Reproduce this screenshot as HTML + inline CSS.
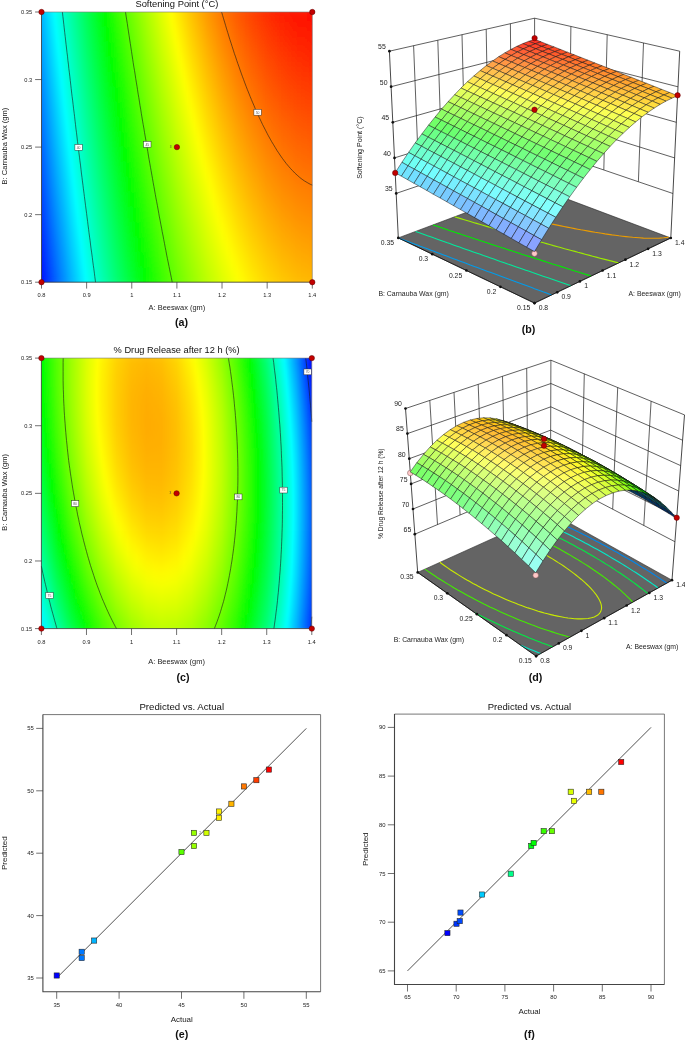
<!DOCTYPE html>
<html lang="en"><head><meta charset="utf-8"><title>Response surface figure</title>
<style>html,body{margin:0;padding:0;background:#fff}svg{display:block}text{font-family:'Liberation Sans', 'DejaVu Sans', sans-serif}</style>
</head><body>
<svg width="685" height="1040" viewBox="0 0 685 1040">
<rect width="685" height="1040" fill="#fff"/>
<defs><linearGradient gradientUnits="userSpaceOnUse" x1="41.5" x2="312.3" y1="0" y2="0" id="ag0"><stop offset="0" stop-color="#00bbff"/><stop offset=".0435" stop-color="#00feff"/><stop offset=".0556" stop-color="#00ffee"/><stop offset=".1111" stop-color="#00ff9d"/><stop offset=".1667" stop-color="#00ff51"/><stop offset=".2295" stop-color="#00ff00"/><stop offset=".2778" stop-color="#3aff00"/><stop offset=".3333" stop-color="#78ff00"/><stop offset=".3889" stop-color="#b1ff00"/><stop offset=".4444" stop-color="#e6ff00"/><stop offset=".472" stop-color="#ffff00"/><stop offset=".5" stop-color="#ffe700"/><stop offset=".5556" stop-color="#ffbc00"/><stop offset=".6111" stop-color="#ff9500"/><stop offset=".6667" stop-color="#ff7200"/><stop offset=".7222" stop-color="#ff5500"/><stop offset=".7778" stop-color="#ff3c00"/><stop offset=".8333" stop-color="#ff2700"/><stop offset=".8889" stop-color="#ff1700"/><stop offset=".9444" stop-color="#ff0c00"/><stop offset="1" stop-color="#ff0600"/></linearGradient><linearGradient gradientUnits="userSpaceOnUse" x1="41.5" x2="312.3" y1="0" y2="0" id="ag1"><stop offset="0" stop-color="#00b2ff"/><stop offset=".05" stop-color="#00ffff"/><stop offset=".1111" stop-color="#00ffa6"/><stop offset=".1667" stop-color="#00ff5a"/><stop offset=".2222" stop-color="#00ff12"/><stop offset=".237" stop-color="#00ff00"/><stop offset=".2778" stop-color="#31ff00"/><stop offset=".3333" stop-color="#6fff00"/><stop offset=".3889" stop-color="#a8ff00"/><stop offset=".4444" stop-color="#ddff00"/><stop offset=".4825" stop-color="#ffff00"/><stop offset=".5" stop-color="#fff100"/><stop offset=".5556" stop-color="#ffc500"/><stop offset=".6111" stop-color="#ff9e00"/><stop offset=".6667" stop-color="#ff7c00"/><stop offset=".7222" stop-color="#ff5e00"/><stop offset=".7778" stop-color="#ff4500"/><stop offset=".8333" stop-color="#ff3100"/><stop offset=".8889" stop-color="#ff2100"/><stop offset=".9444" stop-color="#ff1600"/><stop offset="1" stop-color="#ff0f00"/></linearGradient><linearGradient gradientUnits="userSpaceOnUse" x1="41.5" x2="312.3" y1="0" y2="0" id="ag2"><stop offset="0" stop-color="#00a9ff"/><stop offset=".056" stop-color="#00ffff"/><stop offset=".1111" stop-color="#00ffaf"/><stop offset=".1667" stop-color="#00ff63"/><stop offset=".2222" stop-color="#00ff1c"/><stop offset=".2445" stop-color="#00ff00"/><stop offset=".2778" stop-color="#27ff00"/><stop offset=".3333" stop-color="#65ff00"/><stop offset=".3889" stop-color="#9fff00"/><stop offset=".4444" stop-color="#d4ff00"/><stop offset=".4935" stop-color="#ffff00"/><stop offset=".5556" stop-color="#ffce00"/><stop offset=".6111" stop-color="#ffa700"/><stop offset=".6667" stop-color="#ff8500"/><stop offset=".7222" stop-color="#ff6700"/><stop offset=".7778" stop-color="#ff4e00"/><stop offset=".8333" stop-color="#ff3a00"/><stop offset=".8889" stop-color="#ff2a00"/><stop offset=".9444" stop-color="#ff1f00"/><stop offset="1" stop-color="#ff1900"/></linearGradient><linearGradient gradientUnits="userSpaceOnUse" x1="41.5" x2="312.3" y1="0" y2="0" id="ag3"><stop offset="0" stop-color="#00a0ff"/><stop offset=".062" stop-color="#00ffff"/><stop offset=".1111" stop-color="#00ffb8"/><stop offset=".1667" stop-color="#00ff6c"/><stop offset=".2222" stop-color="#00ff25"/><stop offset=".252" stop-color="#00ff00"/><stop offset=".2778" stop-color="#1eff00"/><stop offset=".3333" stop-color="#5cff00"/><stop offset=".3889" stop-color="#96ff00"/><stop offset=".4444" stop-color="#cbff00"/><stop offset=".5045" stop-color="#ffff00"/><stop offset=".5556" stop-color="#ffd700"/><stop offset=".6111" stop-color="#ffb100"/><stop offset=".6667" stop-color="#ff8e00"/><stop offset=".7222" stop-color="#ff7100"/><stop offset=".7778" stop-color="#ff5800"/><stop offset=".8333" stop-color="#ff4300"/><stop offset=".8889" stop-color="#ff3400"/><stop offset=".9444" stop-color="#ff2800"/><stop offset="1" stop-color="#ff2200"/></linearGradient><linearGradient gradientUnits="userSpaceOnUse" x1="41.5" x2="312.3" y1="0" y2="0" id="ag4"><stop offset="0" stop-color="#0097ff"/><stop offset=".0556" stop-color="#00ecff"/><stop offset=".068" stop-color="#00feff"/><stop offset=".1111" stop-color="#00ffc1"/><stop offset=".1667" stop-color="#00ff75"/><stop offset=".2222" stop-color="#00ff2e"/><stop offset=".2595" stop-color="#00ff01"/><stop offset=".2778" stop-color="#15ff00"/><stop offset=".3333" stop-color="#53ff00"/><stop offset=".3889" stop-color="#8dff00"/><stop offset=".4444" stop-color="#c1ff00"/><stop offset=".5" stop-color="#f2ff00"/><stop offset=".516" stop-color="#ffff00"/><stop offset=".5556" stop-color="#ffe100"/><stop offset=".6111" stop-color="#ffba00"/><stop offset=".6667" stop-color="#ff9800"/><stop offset=".7222" stop-color="#ff7a00"/><stop offset=".7778" stop-color="#ff6100"/><stop offset=".8333" stop-color="#ff4d00"/><stop offset=".8889" stop-color="#ff3d00"/><stop offset=".9444" stop-color="#ff3200"/><stop offset="1" stop-color="#ff2b00"/></linearGradient><linearGradient gradientUnits="userSpaceOnUse" x1="41.5" x2="312.3" y1="0" y2="0" id="ag5"><stop offset="0" stop-color="#008dff"/><stop offset=".0556" stop-color="#00e3ff"/><stop offset=".0745" stop-color="#00ffff"/><stop offset=".1111" stop-color="#00ffcb"/><stop offset=".1667" stop-color="#00ff7e"/><stop offset=".2222" stop-color="#00ff37"/><stop offset=".2675" stop-color="#00ff00"/><stop offset=".3333" stop-color="#4aff00"/><stop offset=".3889" stop-color="#83ff00"/><stop offset=".4444" stop-color="#b8ff00"/><stop offset=".5" stop-color="#e8ff00"/><stop offset=".528" stop-color="#ffff00"/><stop offset=".5556" stop-color="#ffea00"/><stop offset=".6111" stop-color="#ffc300"/><stop offset=".6667" stop-color="#ffa100"/><stop offset=".7222" stop-color="#ff8300"/><stop offset=".7778" stop-color="#ff6a00"/><stop offset=".8333" stop-color="#ff5600"/><stop offset=".8889" stop-color="#ff4600"/><stop offset=".9444" stop-color="#ff3b00"/><stop offset="1" stop-color="#ff3500"/></linearGradient><linearGradient gradientUnits="userSpaceOnUse" x1="41.5" x2="312.3" y1="0" y2="0" id="ag6"><stop offset="0" stop-color="#0084ff"/><stop offset=".0556" stop-color="#00daff"/><stop offset=".0805" stop-color="#00feff"/><stop offset=".1111" stop-color="#00ffd4"/><stop offset=".1667" stop-color="#00ff88"/><stop offset=".2222" stop-color="#00ff40"/><stop offset=".2755" stop-color="#00ff00"/><stop offset=".3333" stop-color="#41ff00"/><stop offset=".3889" stop-color="#7aff00"/><stop offset=".4444" stop-color="#afff00"/><stop offset=".5" stop-color="#dfff00"/><stop offset=".54" stop-color="#ffff00"/><stop offset=".5556" stop-color="#fff300"/><stop offset=".6111" stop-color="#ffcd00"/><stop offset=".6667" stop-color="#ffaa00"/><stop offset=".7222" stop-color="#ff8d00"/><stop offset=".7778" stop-color="#ff7400"/><stop offset=".8333" stop-color="#ff5f00"/><stop offset=".8889" stop-color="#ff5000"/><stop offset=".9444" stop-color="#ff4500"/><stop offset="1" stop-color="#ff3e00"/></linearGradient><linearGradient gradientUnits="userSpaceOnUse" x1="41.5" x2="312.3" y1="0" y2="0" id="ag7"><stop offset="0" stop-color="#007bff"/><stop offset=".0556" stop-color="#00d0ff"/><stop offset=".087" stop-color="#00ffff"/><stop offset=".1111" stop-color="#00ffdd"/><stop offset=".1667" stop-color="#00ff91"/><stop offset=".2222" stop-color="#00ff4a"/><stop offset=".2835" stop-color="#00ff00"/><stop offset=".3333" stop-color="#37ff00"/><stop offset=".3889" stop-color="#71ff00"/><stop offset=".4444" stop-color="#a5ff00"/><stop offset=".5" stop-color="#d6ff00"/><stop offset=".5525" stop-color="#ffff00"/><stop offset=".6111" stop-color="#ffd600"/><stop offset=".6667" stop-color="#ffb400"/><stop offset=".7222" stop-color="#ff9600"/><stop offset=".7778" stop-color="#ff7d00"/><stop offset=".8333" stop-color="#ff6900"/><stop offset=".8889" stop-color="#ff5900"/><stop offset=".9444" stop-color="#ff4e00"/><stop offset="1" stop-color="#ff4800"/></linearGradient><linearGradient gradientUnits="userSpaceOnUse" x1="41.5" x2="312.3" y1="0" y2="0" id="ag8"><stop offset="0" stop-color="#0072ff"/><stop offset=".0556" stop-color="#00c7ff"/><stop offset=".0935" stop-color="#00ffff"/><stop offset=".1111" stop-color="#00ffe6"/><stop offset=".1667" stop-color="#00ff9a"/><stop offset=".2222" stop-color="#00ff53"/><stop offset=".2778" stop-color="#00ff10"/><stop offset=".2915" stop-color="#00ff00"/><stop offset=".3333" stop-color="#2eff00"/><stop offset=".3889" stop-color="#67ff00"/><stop offset=".4444" stop-color="#9cff00"/><stop offset=".5" stop-color="#ccff00"/><stop offset=".565" stop-color="#ffff00"/><stop offset=".6111" stop-color="#ffdf00"/><stop offset=".6667" stop-color="#ffbd00"/><stop offset=".7222" stop-color="#ffa000"/><stop offset=".7778" stop-color="#ff8700"/><stop offset=".8333" stop-color="#ff7200"/><stop offset=".8889" stop-color="#ff6300"/><stop offset=".9444" stop-color="#ff5800"/><stop offset="1" stop-color="#ff5100"/></linearGradient><linearGradient gradientUnits="userSpaceOnUse" x1="41.5" x2="312.3" y1="0" y2="0" id="ag9"><stop offset="0" stop-color="#0069ff"/><stop offset=".0556" stop-color="#00beff"/><stop offset=".1" stop-color="#00ffff"/><stop offset=".1667" stop-color="#00ffa3"/><stop offset=".2222" stop-color="#00ff5c"/><stop offset=".2778" stop-color="#00ff19"/><stop offset=".3" stop-color="#00ff00"/><stop offset=".3333" stop-color="#25ff00"/><stop offset=".3889" stop-color="#5eff00"/><stop offset=".4444" stop-color="#93ff00"/><stop offset=".5" stop-color="#c3ff00"/><stop offset=".5556" stop-color="#eeff00"/><stop offset=".5785" stop-color="#ffff00"/><stop offset=".6111" stop-color="#ffe900"/><stop offset=".6667" stop-color="#ffc700"/><stop offset=".7222" stop-color="#ffa900"/><stop offset=".7778" stop-color="#ff9000"/><stop offset=".8333" stop-color="#ff7c00"/><stop offset=".8889" stop-color="#ff6c00"/><stop offset=".9444" stop-color="#ff6100"/><stop offset="1" stop-color="#ff5b00"/></linearGradient><linearGradient gradientUnits="userSpaceOnUse" x1="41.5" x2="312.3" y1="0" y2="0" id="ag10"><stop offset="0" stop-color="#005fff"/><stop offset=".0556" stop-color="#00b5ff"/><stop offset=".1065" stop-color="#00ffff"/><stop offset=".1667" stop-color="#00ffad"/><stop offset=".2222" stop-color="#00ff66"/><stop offset=".2778" stop-color="#00ff23"/><stop offset=".308" stop-color="#00ff00"/><stop offset=".3333" stop-color="#1bff00"/><stop offset=".3889" stop-color="#55ff00"/><stop offset=".4444" stop-color="#89ff00"/><stop offset=".5" stop-color="#b9ff00"/><stop offset=".5556" stop-color="#e5ff00"/><stop offset=".592" stop-color="#ffff00"/><stop offset=".6111" stop-color="#fff200"/><stop offset=".6667" stop-color="#ffd000"/><stop offset=".7222" stop-color="#ffb300"/><stop offset=".7778" stop-color="#ff9a00"/><stop offset=".8333" stop-color="#ff8500"/><stop offset=".8889" stop-color="#ff7600"/><stop offset=".9444" stop-color="#ff6b00"/><stop offset="1" stop-color="#ff6400"/></linearGradient><linearGradient gradientUnits="userSpaceOnUse" x1="41.5" x2="312.3" y1="0" y2="0" id="ag11"><stop offset="0" stop-color="#0056ff"/><stop offset=".0556" stop-color="#00abff"/><stop offset=".113" stop-color="#00ffff"/><stop offset=".1667" stop-color="#00ffb6"/><stop offset=".2222" stop-color="#00ff6f"/><stop offset=".2778" stop-color="#00ff2c"/><stop offset=".3165" stop-color="#00ff00"/><stop offset=".3333" stop-color="#12ff00"/><stop offset=".3889" stop-color="#4bff00"/><stop offset=".4444" stop-color="#80ff00"/><stop offset=".5" stop-color="#b0ff00"/><stop offset=".5556" stop-color="#dcff00"/><stop offset=".606" stop-color="#ffff00"/><stop offset=".6667" stop-color="#ffda00"/><stop offset=".7222" stop-color="#ffbc00"/><stop offset=".7778" stop-color="#ffa300"/><stop offset=".8333" stop-color="#ff8f00"/><stop offset=".8889" stop-color="#ff7f00"/><stop offset=".9444" stop-color="#ff7400"/><stop offset="1" stop-color="#ff6e00"/></linearGradient><linearGradient gradientUnits="userSpaceOnUse" x1="41.5" x2="312.3" y1="0" y2="0" id="ag12"><stop offset="0" stop-color="#004dff"/><stop offset=".0556" stop-color="#00a2ff"/><stop offset=".12" stop-color="#00ffff"/><stop offset=".1667" stop-color="#00ffbf"/><stop offset=".2222" stop-color="#00ff78"/><stop offset=".2778" stop-color="#00ff36"/><stop offset=".3255" stop-color="#00ff00"/><stop offset=".3889" stop-color="#42ff00"/><stop offset=".4444" stop-color="#76ff00"/><stop offset=".5" stop-color="#a7ff00"/><stop offset=".5556" stop-color="#d2ff00"/><stop offset=".6205" stop-color="#ffff00"/><stop offset=".6667" stop-color="#ffe300"/><stop offset=".7222" stop-color="#ffc600"/><stop offset=".7778" stop-color="#ffad00"/><stop offset=".8333" stop-color="#ff9800"/><stop offset=".8889" stop-color="#ff8900"/><stop offset=".9444" stop-color="#ff7e00"/><stop offset="1" stop-color="#ff7800"/></linearGradient><linearGradient gradientUnits="userSpaceOnUse" x1="41.5" x2="312.3" y1="0" y2="0" id="ag13"><stop offset="0" stop-color="#0043ff"/><stop offset=".0556" stop-color="#0099ff"/><stop offset=".1111" stop-color="#00e9ff"/><stop offset=".1265" stop-color="#00ffff"/><stop offset=".1667" stop-color="#00ffc9"/><stop offset=".2222" stop-color="#00ff82"/><stop offset=".2778" stop-color="#00ff3f"/><stop offset=".334" stop-color="#00ff00"/><stop offset=".3889" stop-color="#38ff00"/><stop offset=".4444" stop-color="#6dff00"/><stop offset=".5" stop-color="#9dff00"/><stop offset=".5556" stop-color="#c9ff00"/><stop offset=".6111" stop-color="#efff00"/><stop offset=".6355" stop-color="#ffff00"/><stop offset=".6667" stop-color="#ffed00"/><stop offset=".7222" stop-color="#ffcf00"/><stop offset=".7778" stop-color="#ffb600"/><stop offset=".8333" stop-color="#ffa200"/><stop offset=".8889" stop-color="#ff9200"/><stop offset=".9444" stop-color="#ff8800"/><stop offset="1" stop-color="#ff8100"/></linearGradient><linearGradient gradientUnits="userSpaceOnUse" x1="41.5" x2="312.3" y1="0" y2="0" id="ag14"><stop offset="0" stop-color="#003aff"/><stop offset=".0556" stop-color="#008fff"/><stop offset=".1111" stop-color="#00e0ff"/><stop offset=".1335" stop-color="#00ffff"/><stop offset=".1667" stop-color="#00ffd2"/><stop offset=".2222" stop-color="#00ff8b"/><stop offset=".2778" stop-color="#00ff48"/><stop offset=".343" stop-color="#00ff00"/><stop offset=".3889" stop-color="#2fff00"/><stop offset=".4444" stop-color="#64ff00"/><stop offset=".5" stop-color="#94ff00"/><stop offset=".5556" stop-color="#bfff00"/><stop offset=".6111" stop-color="#e6ff00"/><stop offset=".651" stop-color="#ffff00"/><stop offset=".6667" stop-color="#fff600"/><stop offset=".7222" stop-color="#ffd900"/><stop offset=".7778" stop-color="#ffc000"/><stop offset=".8333" stop-color="#ffac00"/><stop offset=".8889" stop-color="#ff9c00"/><stop offset=".9444" stop-color="#ff9100"/><stop offset="1" stop-color="#ff8b00"/></linearGradient><linearGradient gradientUnits="userSpaceOnUse" x1="41.5" x2="312.3" y1="0" y2="0" id="ag15"><stop offset="0" stop-color="#0031ff"/><stop offset=".0556" stop-color="#0086ff"/><stop offset=".1111" stop-color="#00d6ff"/><stop offset=".14" stop-color="#00feff"/><stop offset=".1667" stop-color="#00ffdc"/><stop offset=".2222" stop-color="#00ff95"/><stop offset=".2778" stop-color="#00ff52"/><stop offset=".3333" stop-color="#00ff14"/><stop offset=".352" stop-color="#00ff00"/><stop offset=".3889" stop-color="#25ff00"/><stop offset=".4444" stop-color="#5aff00"/><stop offset=".5" stop-color="#8aff00"/><stop offset=".5556" stop-color="#b5ff00"/><stop offset=".6111" stop-color="#dcff00"/><stop offset=".6675" stop-color="#ffff00"/><stop offset=".7222" stop-color="#ffe200"/><stop offset=".7778" stop-color="#ffc900"/><stop offset=".8333" stop-color="#ffb500"/><stop offset=".8889" stop-color="#ffa600"/><stop offset=".9444" stop-color="#ff9b00"/><stop offset="1" stop-color="#ff9500"/></linearGradient><linearGradient gradientUnits="userSpaceOnUse" x1="41.5" x2="312.3" y1="0" y2="0" id="ag16"><stop offset="0" stop-color="#0027ff"/><stop offset=".0556" stop-color="#007cff"/><stop offset=".1111" stop-color="#00cdff"/><stop offset=".147" stop-color="#00feff"/><stop offset=".1667" stop-color="#00ffe5"/><stop offset=".2222" stop-color="#00ff9e"/><stop offset=".2778" stop-color="#00ff5b"/><stop offset=".3333" stop-color="#00ff1d"/><stop offset=".361" stop-color="#00ff00"/><stop offset=".3889" stop-color="#1cff00"/><stop offset=".4444" stop-color="#50ff00"/><stop offset=".5" stop-color="#81ff00"/><stop offset=".5556" stop-color="#acff00"/><stop offset=".6111" stop-color="#d3ff00"/><stop offset=".6667" stop-color="#f5ff00"/><stop offset=".685" stop-color="#ffff00"/><stop offset=".7222" stop-color="#ffec00"/><stop offset=".7778" stop-color="#ffd300"/><stop offset=".8333" stop-color="#ffbf00"/><stop offset=".8889" stop-color="#ffaf00"/><stop offset=".9444" stop-color="#ffa500"/><stop offset="1" stop-color="#ff9e00"/></linearGradient><linearGradient gradientUnits="userSpaceOnUse" x1="41.5" x2="312.3" y1="0" y2="0" id="ag17"><stop offset="0" stop-color="#001eff"/><stop offset=".0556" stop-color="#0073ff"/><stop offset=".1111" stop-color="#00c3ff"/><stop offset=".154" stop-color="#00feff"/><stop offset=".1667" stop-color="#00ffef"/><stop offset=".2222" stop-color="#00ffa7"/><stop offset=".2778" stop-color="#00ff65"/><stop offset=".3333" stop-color="#00ff27"/><stop offset=".3705" stop-color="#00ff00"/><stop offset=".3889" stop-color="#12ff00"/><stop offset=".4444" stop-color="#47ff00"/><stop offset=".5" stop-color="#77ff00"/><stop offset=".5556" stop-color="#a2ff00"/><stop offset=".6111" stop-color="#c9ff00"/><stop offset=".6667" stop-color="#ebff00"/><stop offset=".703" stop-color="#ffff00"/><stop offset=".7222" stop-color="#fff600"/><stop offset=".7778" stop-color="#ffdd00"/><stop offset=".8333" stop-color="#ffc900"/><stop offset=".8889" stop-color="#ffb900"/><stop offset=".9444" stop-color="#ffae00"/><stop offset="1" stop-color="#ffa800"/></linearGradient><linearGradient gradientUnits="userSpaceOnUse" x1="41.5" x2="312.3" y1="0" y2="0" id="ag18"><stop offset="0" stop-color="#0014ff"/><stop offset=".0556" stop-color="#006aff"/><stop offset=".1111" stop-color="#00baff"/><stop offset=".1615" stop-color="#00ffff"/><stop offset=".2222" stop-color="#00ffb1"/><stop offset=".2778" stop-color="#00ff6e"/><stop offset=".3333" stop-color="#00ff31"/><stop offset=".38" stop-color="#00ff00"/><stop offset=".4444" stop-color="#3dff00"/><stop offset=".5" stop-color="#6dff00"/><stop offset=".5556" stop-color="#99ff00"/><stop offset=".6111" stop-color="#bfff00"/><stop offset=".6667" stop-color="#e1ff00"/><stop offset=".7225" stop-color="#ffff00"/><stop offset=".7778" stop-color="#ffe600"/><stop offset=".8333" stop-color="#ffd200"/><stop offset=".8889" stop-color="#ffc300"/><stop offset=".9444" stop-color="#ffb800"/><stop offset="1" stop-color="#ffb200"/></linearGradient><linearGradient gradientUnits="userSpaceOnUse" x1="41.5" x2="312.3" y1="0" y2="0" id="ag19"><stop offset="0" stop-color="#000bff"/><stop offset=".0556" stop-color="#0060ff"/><stop offset=".1111" stop-color="#00b0ff"/><stop offset=".1685" stop-color="#00ffff"/><stop offset=".2222" stop-color="#00ffbb"/><stop offset=".2778" stop-color="#00ff78"/><stop offset=".3333" stop-color="#00ff3a"/><stop offset=".3895" stop-color="#00ff00"/><stop offset=".4444" stop-color="#34ff00"/><stop offset=".5" stop-color="#64ff00"/><stop offset=".5556" stop-color="#8fff00"/><stop offset=".6111" stop-color="#b6ff00"/><stop offset=".6667" stop-color="#d8ff00"/><stop offset=".7222" stop-color="#f5ff00"/><stop offset=".743" stop-color="#ffff00"/><stop offset=".7778" stop-color="#fff000"/><stop offset=".8333" stop-color="#ffdc00"/><stop offset=".8889" stop-color="#ffcd00"/><stop offset=".9444" stop-color="#ffc200"/><stop offset="1" stop-color="#ffbc00"/></linearGradient><filter id="abl" x="-5%" y="-5%" width="110%" height="110%"><feGaussianBlur stdDeviation="0 8.26"/></filter><clipPath id="acp"><rect x="41.5" y="12" width="270.8" height="270.2"/></clipPath></defs>
<g clip-path="url(#acp)"><g filter="url(#abl)"><rect x="31.5" y="-3.01" width="290.8" height="15.51" fill="url(#ag0)"/><rect x="31.5" y="12" width="290.8" height="15.51" fill="url(#ag1)"/><rect x="31.5" y="27.01" width="290.8" height="15.51" fill="url(#ag2)"/><rect x="31.5" y="42.02" width="290.8" height="15.51" fill="url(#ag3)"/><rect x="31.5" y="57.03" width="290.8" height="15.51" fill="url(#ag4)"/><rect x="31.5" y="72.04" width="290.8" height="15.51" fill="url(#ag5)"/><rect x="31.5" y="87.06" width="290.8" height="15.51" fill="url(#ag6)"/><rect x="31.5" y="102.07" width="290.8" height="15.51" fill="url(#ag7)"/><rect x="31.5" y="117.08" width="290.8" height="15.51" fill="url(#ag8)"/><rect x="31.5" y="132.09" width="290.8" height="15.51" fill="url(#ag9)"/><rect x="31.5" y="147.1" width="290.8" height="15.51" fill="url(#ag10)"/><rect x="31.5" y="162.11" width="290.8" height="15.51" fill="url(#ag11)"/><rect x="31.5" y="177.12" width="290.8" height="15.51" fill="url(#ag12)"/><rect x="31.5" y="192.13" width="290.8" height="15.51" fill="url(#ag13)"/><rect x="31.5" y="207.14" width="290.8" height="15.51" fill="url(#ag14)"/><rect x="31.5" y="222.16" width="290.8" height="15.51" fill="url(#ag15)"/><rect x="31.5" y="237.17" width="290.8" height="15.51" fill="url(#ag16)"/><rect x="31.5" y="252.18" width="290.8" height="15.51" fill="url(#ag17)"/><rect x="31.5" y="267.19" width="290.8" height="15.51" fill="url(#ag18)"/><rect x="31.5" y="282.2" width="290.8" height="15.51" fill="url(#ag19)"/></g></g>
<path d="M62.4 12 L62.9 16.5 L63.3 19.9 L63.8 24.4 L64.2 27.8 L64.7 32.3 L65.2 36.5 L65.6 40.1 L66.1 44.6 L66.5 48 L67 52.5 L67.5 56.2 L67.9 60.4 L68.5 64.9 L68.8 68.3 L69.4 72.8 L69.8 76.2 L70.3 80.7 L70.8 85.2 L71.2 88.6 L71.7 93.1 L72.1 96.4 L72.7 100.9 L73.1 104.4 L73.6 108.8 L74.2 113.3 L74.6 116.7 L75.1 121.2 L75.5 124.6 L76 129.1 L76.5 132.7 L77 137 L77.5 141.5 L78 144.8 L78.5 149.4 L78.9 152.7 L79.5 157.2 L79.9 160.6 L80.5 165.1 L81 169.4 L81.4 173 L82 177.5 L82.4 180.9 L83 185.4 L83.4 188.8 L84 193.3 L84.4 196.6 L85 201.1 L85.5 205.3 L86 209 L86.6 213.5 L87 216.9 L87.6 221.4 L88 224.8 L88.6 229.3 L89 232.7 L89.6 237.2 L90.1 240.5 L90.6 245 L91.1 248.9 L91.7 252.9 L92.3 257.4 L92.7 260.8 L93.3 265.3 L93.8 268.7 L94.4 273.2 L94.8 276.6 L95.4 281.1 L95.6 282.2 M125.5 12 L126.1 16.1 L126.7 19.9 L127.3 23.6 L127.9 27.8 L128.4 31.1 L129.1 35.6 L129.6 39 L130.3 43.5 L130.8 46.9 L131.5 51.4 L132 54.8 L132.7 59.3 L133.2 62.7 L133.9 67.2 L134.5 70.5 L135.2 74.9 L135.7 78.4 L136.3 82.1 L137 86.3 L137.5 89.7 L138.2 94.2 L138.8 97.6 L139.5 102.1 L140 105.4 L140.8 109.9 L141.3 113.3 L141.9 116.9 L142.6 121.2 L143.2 124.6 L144 129.1 L144.5 132.5 L145.3 137 L145.9 140.3 L146.4 143.8 L147.2 148.2 L147.8 151.6 L148.5 156.1 L149.1 159.5 L149.8 163.4 L150.5 167.4 L151.1 170.7 L151.9 175.2 L152.5 178.6 L153.2 182.7 L153.9 186.5 L154.5 189.9 L155.3 194.4 L155.9 197.8 L156.6 201.4 L157.4 205.6 L158 209 L158.8 213.5 L159.4 216.9 L160.1 220.3 L160.9 224.8 L161.6 228.2 L162.2 231.7 L163.1 236 L163.7 239.4 L164.5 243.5 L165.2 247.3 L165.9 250.7 L166.7 255.1 L167.4 258.6 L168.1 261.9 L169 266.4 L169.7 269.8 L170.4 273.2 L171.3 277.7 L172 281.1 L172.2 282.2 M221.6 12 L222.6 15.4 L223.6 18.8 L224.6 22.1 L225.6 25.5 L226.6 28.9 L227.7 32.4 L228.8 36 L229.9 39.6 L231.1 43.2 L232.2 46.7 L233.3 50.1 L234.4 53.6 L235.6 56.9 L236.7 60.3 L237.8 63.5 L239 66.8 L240.1 70 L241.2 73.1 L242.3 76.2 L243.6 79.6 L244.8 82.9 L246.1 86.3 L247.4 89.7 L248.8 93.1 L250.1 96.4 L251.4 99.5 L252.5 102.2 L253.9 105.4 L255.3 108.8 L256.8 112.2 L258.1 115.1 L259.4 117.8 L261 121.2 L262.6 124.6 L263.8 126.9 L265.5 130.2 L267.2 133.5 L268.4 135.8 L270.3 139.2 L271.7 141.7 L273.6 144.8 L275.1 147.3 L277 150.5 L278.5 152.7 L280.7 156 L282.4 158.4 L284.1 160.7 L286.3 163.6 L288.5 166.2 L290.5 168.5 L292.6 170.7 L294.8 173 L297.2 175.2 L299.8 177.5 L302.1 179.3 L304.4 180.9 L307.8 182.9 L310.3 184.3 L312.3 185.1" fill="none" stroke="#1a1a1a" stroke-width="0.6"/>
<path d="M41.5 12H312.3V282.2" fill="none" stroke="#777" stroke-width="0.6"/>
<path d="M41.5 12V282.2H312.3" fill="none" stroke="#333" stroke-width="0.8"/>
<path d="M41.5 282.2v6.4 M86.63 282.2v6.4 M131.77 282.2v6.4 M176.9 282.2v6.4 M222.03 282.2v6.4 M267.17 282.2v6.4 M312.3 282.2v6.4 M41.5 12h-6.4 M41.5 79.55h-6.4 M41.5 147.1h-6.4 M41.5 214.65h-6.4 M41.5 282.2h-6.4" stroke="#333" stroke-width="0.7" fill="none"/>
<text x="41.5" y="296.5" font-size="5.7" text-anchor="middle" fill="#222">0.8</text>
<text x="86.63" y="296.5" font-size="5.7" text-anchor="middle" fill="#222">0.9</text>
<text x="131.77" y="296.5" font-size="5.7" text-anchor="middle" fill="#222">1</text>
<text x="176.9" y="296.5" font-size="5.7" text-anchor="middle" fill="#222">1.1</text>
<text x="222.03" y="296.5" font-size="5.7" text-anchor="middle" fill="#222">1.2</text>
<text x="267.17" y="296.5" font-size="5.7" text-anchor="middle" fill="#222">1.3</text>
<text x="312.3" y="296.5" font-size="5.7" text-anchor="middle" fill="#222">1.4</text>
<text x="32.2" y="14" font-size="5.7" text-anchor="end" fill="#222">0.35</text>
<text x="32.2" y="81.55" font-size="5.7" text-anchor="end" fill="#222">0.3</text>
<text x="32.2" y="149.1" font-size="5.7" text-anchor="end" fill="#222">0.25</text>
<text x="32.2" y="216.65" font-size="5.7" text-anchor="end" fill="#222">0.2</text>
<text x="32.2" y="284.2" font-size="5.7" text-anchor="end" fill="#222">0.15</text>
<text x="176.9" y="310.3" font-size="7.3" text-anchor="middle" textLength="56.6" lengthAdjust="spacingAndGlyphs" fill="#222">A: Beeswax (gm)</text>
<text x="6.7" y="146.1" font-size="7.3" text-anchor="middle" transform="rotate(-90 6.7 146.1)" textLength="76.6" lengthAdjust="spacingAndGlyphs" fill="#222">B: Carnauba Wax (gm)</text>
<text x="176.9" y="7.3" font-size="9.35" text-anchor="middle" textLength="83" lengthAdjust="spacingAndGlyphs" fill="#111">Softening Point (°C)</text>
<text x="181.6" y="325.6" font-size="10.7" text-anchor="middle" font-weight="bold" fill="#111">(a)</text>
<rect x="74.9" y="144.5" width="7.4" height="5.8" fill="#fff" stroke="#333" stroke-width="0.5"/>
<text x="78.6" y="148.6" font-size="3.4" text-anchor="middle" fill="#555">40</text>
<rect x="143.6" y="141.4" width="7.4" height="5.8" fill="#fff" stroke="#333" stroke-width="0.5"/>
<text x="147.3" y="145.5" font-size="3.4" text-anchor="middle" fill="#555">45</text>
<rect x="253.9" y="109.4" width="7.4" height="5.8" fill="#fff" stroke="#333" stroke-width="0.5"/>
<text x="257.6" y="113.5" font-size="3.4" text-anchor="middle" fill="#555">50</text>
<circle cx="41.5" cy="12" r="2.7" fill="#c20000" stroke="#5a0000" stroke-width="0.5"/>
<circle cx="312.3" cy="12" r="2.7" fill="#c20000" stroke="#5a0000" stroke-width="0.5"/>
<circle cx="41.5" cy="282.2" r="2.7" fill="#c20000" stroke="#5a0000" stroke-width="0.5"/>
<circle cx="312.3" cy="282.2" r="2.7" fill="#c20000" stroke="#5a0000" stroke-width="0.5"/>
<circle cx="176.9" cy="147.1" r="2.7" fill="#c20000" stroke="#5a0000" stroke-width="0.5"/>
<text x="170.7" y="148.2" font-size="3.2" text-anchor="middle" fill="#444">3</text>
<defs><linearGradient gradientUnits="userSpaceOnUse" x1="41.4" x2="311.8" y1="0" y2="0" id="cg0"><stop offset=".004" stop-color="#00ff00"/><stop offset=".0556" stop-color="#51ff00"/><stop offset=".1111" stop-color="#9bff00"/><stop offset=".1667" stop-color="#d8ff00"/><stop offset=".2115" stop-color="#ffff00"/><stop offset=".2778" stop-color="#ffd600"/><stop offset=".3333" stop-color="#ffc300"/><stop offset=".3889" stop-color="#ffbd00"/><stop offset=".4444" stop-color="#ffc500"/><stop offset=".5" stop-color="#ffdb00"/><stop offset=".556" stop-color="#ffff00"/><stop offset=".6111" stop-color="#ceff00"/><stop offset=".6667" stop-color="#8fff00"/><stop offset=".7222" stop-color="#43ff00"/><stop offset=".764" stop-color="#00ff00"/><stop offset=".7778" stop-color="#00ff18"/><stop offset=".8333" stop-color="#00ff80"/><stop offset=".893" stop-color="#00ffff"/><stop offset=".9444" stop-color="#0085ff"/><stop offset="1" stop-color="#0000ff"/></linearGradient><linearGradient gradientUnits="userSpaceOnUse" x1="41.4" x2="311.8" y1="0" y2="0" id="cg1"><stop offset=".004" stop-color="#00ff00"/><stop offset=".0556" stop-color="#52ff00"/><stop offset=".1111" stop-color="#9dff00"/><stop offset=".1667" stop-color="#dbff00"/><stop offset=".207" stop-color="#ffff00"/><stop offset=".2222" stop-color="#fff300"/><stop offset=".2778" stop-color="#ffd100"/><stop offset=".3333" stop-color="#ffbd00"/><stop offset=".3889" stop-color="#ffb600"/><stop offset=".4444" stop-color="#ffbd00"/><stop offset=".5" stop-color="#ffd200"/><stop offset=".5556" stop-color="#fff500"/><stop offset=".569" stop-color="#ffff00"/><stop offset=".6111" stop-color="#d9ff00"/><stop offset=".6667" stop-color="#9bff00"/><stop offset=".7222" stop-color="#50ff00"/><stop offset=".772" stop-color="#00ff00"/><stop offset=".8333" stop-color="#00ff71"/><stop offset=".9" stop-color="#00ffff"/><stop offset=".9444" stop-color="#0096ff"/><stop offset="1" stop-color="#0005ff"/></linearGradient><linearGradient gradientUnits="userSpaceOnUse" x1="41.4" x2="311.8" y1="0" y2="0" id="cg2"><stop offset=".005" stop-color="#00ff00"/><stop offset=".0556" stop-color="#51ff00"/><stop offset=".1111" stop-color="#9dff00"/><stop offset=".1667" stop-color="#dcff00"/><stop offset=".2045" stop-color="#ffff00"/><stop offset=".2222" stop-color="#fff100"/><stop offset=".2778" stop-color="#ffce00"/><stop offset=".3333" stop-color="#ffb900"/><stop offset=".3889" stop-color="#ffb100"/><stop offset=".4444" stop-color="#ffb700"/><stop offset=".5" stop-color="#ffcb00"/><stop offset=".5556" stop-color="#ffec00"/><stop offset=".579" stop-color="#ffff00"/><stop offset=".6111" stop-color="#e2ff00"/><stop offset=".6667" stop-color="#a5ff00"/><stop offset=".7222" stop-color="#5bff00"/><stop offset=".779" stop-color="#00ff00"/><stop offset=".8333" stop-color="#00ff64"/><stop offset=".8889" stop-color="#00ffd8"/><stop offset=".906" stop-color="#00fffe"/><stop offset=".9444" stop-color="#00a5ff"/><stop offset="1" stop-color="#0015ff"/></linearGradient><linearGradient gradientUnits="userSpaceOnUse" x1="41.4" x2="311.8" y1="0" y2="0" id="cg3"><stop offset=".007" stop-color="#00ff00"/><stop offset=".0556" stop-color="#4fff00"/><stop offset=".1111" stop-color="#9cff00"/><stop offset=".1667" stop-color="#dbff00"/><stop offset=".2045" stop-color="#ffff00"/><stop offset=".2222" stop-color="#fff100"/><stop offset=".2778" stop-color="#ffcd00"/><stop offset=".3333" stop-color="#ffb600"/><stop offset=".3889" stop-color="#ffad00"/><stop offset=".4444" stop-color="#ffb300"/><stop offset=".5" stop-color="#ffc500"/><stop offset=".5556" stop-color="#ffe600"/><stop offset=".5875" stop-color="#ffff00"/><stop offset=".6111" stop-color="#eaff00"/><stop offset=".6667" stop-color="#aeff00"/><stop offset=".7222" stop-color="#64ff00"/><stop offset=".785" stop-color="#00ff00"/><stop offset=".8333" stop-color="#00ff58"/><stop offset=".8889" stop-color="#00ffcb"/><stop offset=".9115" stop-color="#00fffe"/><stop offset=".9444" stop-color="#00b2ff"/><stop offset="1" stop-color="#0024ff"/></linearGradient><linearGradient gradientUnits="userSpaceOnUse" x1="41.4" x2="311.8" y1="0" y2="0" id="cg4"><stop offset=".01" stop-color="#00ff00"/><stop offset=".0556" stop-color="#4aff00"/><stop offset=".1111" stop-color="#99ff00"/><stop offset=".1667" stop-color="#d9ff00"/><stop offset=".206" stop-color="#ffff00"/><stop offset=".2222" stop-color="#fff200"/><stop offset=".2778" stop-color="#ffcd00"/><stop offset=".3333" stop-color="#ffb500"/><stop offset=".3889" stop-color="#ffac00"/><stop offset=".4444" stop-color="#ffb000"/><stop offset=".5" stop-color="#ffc100"/><stop offset=".5556" stop-color="#ffe100"/><stop offset=".594" stop-color="#ffff00"/><stop offset=".6111" stop-color="#f0ff00"/><stop offset=".6667" stop-color="#b5ff00"/><stop offset=".7222" stop-color="#6cff00"/><stop offset=".7778" stop-color="#16ff00"/><stop offset=".79" stop-color="#01ff00"/><stop offset=".8333" stop-color="#00ff4e"/><stop offset=".8889" stop-color="#00ffc0"/><stop offset=".9165" stop-color="#00fffe"/><stop offset=".9444" stop-color="#00beff"/><stop offset="1" stop-color="#0031ff"/></linearGradient><linearGradient gradientUnits="userSpaceOnUse" x1="41.4" x2="311.8" y1="0" y2="0" id="cg5"><stop offset="0" stop-color="#00ff18"/><stop offset=".0135" stop-color="#00ff01"/><stop offset=".0556" stop-color="#45ff00"/><stop offset=".1111" stop-color="#94ff00"/><stop offset=".1667" stop-color="#d6ff00"/><stop offset=".2095" stop-color="#ffff00"/><stop offset=".2222" stop-color="#fff500"/><stop offset=".2778" stop-color="#ffce00"/><stop offset=".3333" stop-color="#ffb600"/><stop offset=".3889" stop-color="#ffab00"/><stop offset=".4444" stop-color="#ffae00"/><stop offset=".5" stop-color="#ffbf00"/><stop offset=".5556" stop-color="#ffde00"/><stop offset=".5985" stop-color="#ffff00"/><stop offset=".6111" stop-color="#f4ff00"/><stop offset=".6667" stop-color="#baff00"/><stop offset=".7222" stop-color="#72ff00"/><stop offset=".7778" stop-color="#1dff00"/><stop offset=".7945" stop-color="#00ff00"/><stop offset=".8333" stop-color="#00ff46"/><stop offset=".8889" stop-color="#00ffb7"/><stop offset=".921" stop-color="#00ffff"/><stop offset=".9444" stop-color="#00c8ff"/><stop offset="1" stop-color="#003cff"/></linearGradient><linearGradient gradientUnits="userSpaceOnUse" x1="41.4" x2="311.8" y1="0" y2="0" id="cg6"><stop offset="0" stop-color="#00ff21"/><stop offset=".018" stop-color="#00ff01"/><stop offset=".0556" stop-color="#3dff00"/><stop offset=".1111" stop-color="#8eff00"/><stop offset=".1667" stop-color="#d0ff00"/><stop offset=".215" stop-color="#ffff00"/><stop offset=".2778" stop-color="#ffd200"/><stop offset=".3333" stop-color="#ffb900"/><stop offset=".3889" stop-color="#ffad00"/><stop offset=".4444" stop-color="#ffaf00"/><stop offset=".5" stop-color="#ffbf00"/><stop offset=".5556" stop-color="#ffdc00"/><stop offset=".601" stop-color="#ffff00"/><stop offset=".6667" stop-color="#bdff00"/><stop offset=".7222" stop-color="#77ff00"/><stop offset=".7778" stop-color="#22ff00"/><stop offset=".798" stop-color="#00ff00"/><stop offset=".8333" stop-color="#00ff40"/><stop offset=".8889" stop-color="#00ffb0"/><stop offset=".9245" stop-color="#00ffff"/><stop offset=".9444" stop-color="#00d1ff"/><stop offset="1" stop-color="#0045ff"/></linearGradient><linearGradient gradientUnits="userSpaceOnUse" x1="41.4" x2="311.8" y1="0" y2="0" id="cg7"><stop offset="0" stop-color="#00ff2b"/><stop offset=".024" stop-color="#00ff00"/><stop offset=".0556" stop-color="#34ff00"/><stop offset=".1111" stop-color="#85ff00"/><stop offset=".1667" stop-color="#c9ff00"/><stop offset=".222" stop-color="#ffff00"/><stop offset=".2778" stop-color="#ffd700"/><stop offset=".3333" stop-color="#ffbd00"/><stop offset=".3889" stop-color="#ffb000"/><stop offset=".4444" stop-color="#ffb100"/><stop offset=".5" stop-color="#ffc000"/><stop offset=".5556" stop-color="#ffdc00"/><stop offset=".602" stop-color="#ffff00"/><stop offset=".6667" stop-color="#bfff00"/><stop offset=".7222" stop-color="#7aff00"/><stop offset=".7778" stop-color="#26ff00"/><stop offset=".8005" stop-color="#00ff00"/><stop offset=".8333" stop-color="#00ff3b"/><stop offset=".8889" stop-color="#00ffaa"/><stop offset=".927" stop-color="#00fffe"/><stop offset=".9444" stop-color="#00d8ff"/><stop offset="1" stop-color="#004dff"/></linearGradient><linearGradient gradientUnits="userSpaceOnUse" x1="41.4" x2="311.8" y1="0" y2="0" id="cg8"><stop offset="0" stop-color="#00ff37"/><stop offset=".0305" stop-color="#00ff00"/><stop offset=".0556" stop-color="#29ff00"/><stop offset=".1111" stop-color="#7cff00"/><stop offset=".1667" stop-color="#c0ff00"/><stop offset=".2315" stop-color="#ffff00"/><stop offset=".2778" stop-color="#ffde00"/><stop offset=".3333" stop-color="#ffc200"/><stop offset=".3889" stop-color="#ffb500"/><stop offset=".4444" stop-color="#ffb500"/><stop offset=".5" stop-color="#ffc300"/><stop offset=".5556" stop-color="#ffde00"/><stop offset=".601" stop-color="#ffff00"/><stop offset=".6667" stop-color="#c0ff00"/><stop offset=".7222" stop-color="#7bff00"/><stop offset=".7778" stop-color="#28ff00"/><stop offset=".802" stop-color="#00ff00"/><stop offset=".8333" stop-color="#00ff38"/><stop offset=".8889" stop-color="#00ffa6"/><stop offset=".9295" stop-color="#00ffff"/><stop offset=".9444" stop-color="#00ddff"/><stop offset="1" stop-color="#0053ff"/></linearGradient><linearGradient gradientUnits="userSpaceOnUse" x1="41.4" x2="311.8" y1="0" y2="0" id="cg9"><stop offset="0" stop-color="#00ff44"/><stop offset=".038" stop-color="#00ff00"/><stop offset=".0556" stop-color="#1dff00"/><stop offset=".1111" stop-color="#70ff00"/><stop offset=".1667" stop-color="#b6ff00"/><stop offset=".2222" stop-color="#eeff00"/><stop offset=".2425" stop-color="#ffff00"/><stop offset=".2778" stop-color="#ffe600"/><stop offset=".3333" stop-color="#ffca00"/><stop offset=".3889" stop-color="#ffbb00"/><stop offset=".4444" stop-color="#ffba00"/><stop offset=".5" stop-color="#ffc700"/><stop offset=".5556" stop-color="#ffe200"/><stop offset=".5975" stop-color="#ffff00"/><stop offset=".6111" stop-color="#f4ff00"/><stop offset=".6667" stop-color="#beff00"/><stop offset=".7222" stop-color="#7aff00"/><stop offset=".7778" stop-color="#29ff00"/><stop offset=".8025" stop-color="#00ff00"/><stop offset=".8333" stop-color="#00ff36"/><stop offset=".8889" stop-color="#00ffa3"/><stop offset=".931" stop-color="#00ffff"/><stop offset=".9444" stop-color="#00e0ff"/><stop offset="1" stop-color="#0058ff"/></linearGradient><linearGradient gradientUnits="userSpaceOnUse" x1="41.4" x2="311.8" y1="0" y2="0" id="cg10"><stop offset="0" stop-color="#00ff53"/><stop offset=".0465" stop-color="#00ff00"/><stop offset=".1111" stop-color="#63ff00"/><stop offset=".1667" stop-color="#aaff00"/><stop offset=".2222" stop-color="#e3ff00"/><stop offset=".2565" stop-color="#ffff00"/><stop offset=".2778" stop-color="#fff000"/><stop offset=".3333" stop-color="#ffd300"/><stop offset=".3889" stop-color="#ffc300"/><stop offset=".4444" stop-color="#ffc100"/><stop offset=".5" stop-color="#ffcd00"/><stop offset=".5556" stop-color="#ffe700"/><stop offset=".592" stop-color="#ffff00"/><stop offset=".6111" stop-color="#f0ff00"/><stop offset=".6667" stop-color="#bbff00"/><stop offset=".7222" stop-color="#78ff00"/><stop offset=".7778" stop-color="#28ff00"/><stop offset=".802" stop-color="#00ff00"/><stop offset=".8333" stop-color="#00ff36"/><stop offset=".8889" stop-color="#00ffa2"/><stop offset=".9315" stop-color="#00fffe"/><stop offset=".9444" stop-color="#00e2ff"/><stop offset="1" stop-color="#005bff"/></linearGradient><linearGradient gradientUnits="userSpaceOnUse" x1="41.4" x2="311.8" y1="0" y2="0" id="cg11"><stop offset="0" stop-color="#00ff64"/><stop offset=".056" stop-color="#00ff00"/><stop offset=".1111" stop-color="#54ff00"/><stop offset=".1667" stop-color="#9cff00"/><stop offset=".2222" stop-color="#d6ff00"/><stop offset=".273" stop-color="#ffff00"/><stop offset=".3333" stop-color="#ffde00"/><stop offset=".3889" stop-color="#ffcd00"/><stop offset=".4444" stop-color="#ffca00"/><stop offset=".5" stop-color="#ffd500"/><stop offset=".5556" stop-color="#ffee00"/><stop offset=".583" stop-color="#ffff00"/><stop offset=".6111" stop-color="#eaff00"/><stop offset=".6667" stop-color="#b6ff00"/><stop offset=".7222" stop-color="#75ff00"/><stop offset=".7778" stop-color="#25ff00"/><stop offset=".8005" stop-color="#01ff00"/><stop offset=".8333" stop-color="#00ff38"/><stop offset=".8889" stop-color="#00ffa3"/><stop offset=".9315" stop-color="#00fffe"/><stop offset=".9444" stop-color="#00e2ff"/><stop offset="1" stop-color="#005cff"/></linearGradient><linearGradient gradientUnits="userSpaceOnUse" x1="41.4" x2="311.8" y1="0" y2="0" id="cg12"><stop offset="0" stop-color="#00ff76"/><stop offset=".0665" stop-color="#00ff00"/><stop offset=".1111" stop-color="#44ff00"/><stop offset=".1667" stop-color="#8dff00"/><stop offset=".2222" stop-color="#c7ff00"/><stop offset=".2778" stop-color="#f5ff00"/><stop offset=".2935" stop-color="#ffff00"/><stop offset=".3333" stop-color="#ffea00"/><stop offset=".3889" stop-color="#ffd800"/><stop offset=".4444" stop-color="#ffd500"/><stop offset=".5" stop-color="#ffde00"/><stop offset=".5556" stop-color="#fff600"/><stop offset=".571" stop-color="#ffff00"/><stop offset=".6111" stop-color="#e3ff00"/><stop offset=".6667" stop-color="#b0ff00"/><stop offset=".7222" stop-color="#6fff00"/><stop offset=".7778" stop-color="#21ff00"/><stop offset=".798" stop-color="#01ff00"/><stop offset=".8333" stop-color="#00ff3c"/><stop offset=".8889" stop-color="#00ffa6"/><stop offset=".931" stop-color="#00ffff"/><stop offset=".9444" stop-color="#00e1ff"/><stop offset="1" stop-color="#005bff"/></linearGradient><linearGradient gradientUnits="userSpaceOnUse" x1="41.4" x2="311.8" y1="0" y2="0" id="cg13"><stop offset="0" stop-color="#00ff8a"/><stop offset=".0556" stop-color="#00ff25"/><stop offset=".078" stop-color="#00ff00"/><stop offset=".1111" stop-color="#32ff00"/><stop offset=".1667" stop-color="#7cff00"/><stop offset=".2222" stop-color="#b7ff00"/><stop offset=".2778" stop-color="#e6ff00"/><stop offset=".319" stop-color="#ffff00"/><stop offset=".3333" stop-color="#fff800"/><stop offset=".3889" stop-color="#ffe600"/><stop offset=".4444" stop-color="#ffe100"/><stop offset=".5" stop-color="#ffe900"/><stop offset=".5535" stop-color="#ffff00"/><stop offset=".6111" stop-color="#daff00"/><stop offset=".6667" stop-color="#a8ff00"/><stop offset=".7222" stop-color="#68ff00"/><stop offset=".7778" stop-color="#1aff00"/><stop offset=".7945" stop-color="#00ff00"/><stop offset=".8333" stop-color="#00ff41"/><stop offset=".8889" stop-color="#00ffaa"/><stop offset=".929" stop-color="#00fffe"/><stop offset=".9444" stop-color="#00deff"/><stop offset="1" stop-color="#0059ff"/></linearGradient><linearGradient gradientUnits="userSpaceOnUse" x1="41.4" x2="311.8" y1="0" y2="0" id="cg14"><stop offset="0" stop-color="#00ffa0"/><stop offset=".0556" stop-color="#00ff3a"/><stop offset=".091" stop-color="#00ff00"/><stop offset=".1111" stop-color="#1eff00"/><stop offset=".1667" stop-color="#69ff00"/><stop offset=".2222" stop-color="#a6ff00"/><stop offset=".2778" stop-color="#d5ff00"/><stop offset=".3333" stop-color="#f6ff00"/><stop offset=".3535" stop-color="#ffff00"/><stop offset=".3889" stop-color="#fff400"/><stop offset=".4444" stop-color="#ffee00"/><stop offset=".5" stop-color="#fff600"/><stop offset=".527" stop-color="#ffff00"/><stop offset=".5556" stop-color="#f2ff00"/><stop offset=".6111" stop-color="#cfff00"/><stop offset=".6667" stop-color="#9eff00"/><stop offset=".7222" stop-color="#5fff00"/><stop offset=".7778" stop-color="#13ff00"/><stop offset=".79" stop-color="#00ff00"/><stop offset=".8333" stop-color="#00ff47"/><stop offset=".8889" stop-color="#00ffaf"/><stop offset=".927" stop-color="#00ffff"/><stop offset=".9444" stop-color="#00d9ff"/><stop offset="1" stop-color="#0056ff"/></linearGradient><linearGradient gradientUnits="userSpaceOnUse" x1="41.4" x2="311.8" y1="0" y2="0" id="cg15"><stop offset="0" stop-color="#00ffb7"/><stop offset=".0556" stop-color="#00ff50"/><stop offset=".105" stop-color="#00ff00"/><stop offset=".1667" stop-color="#55ff00"/><stop offset=".2222" stop-color="#92ff00"/><stop offset=".2778" stop-color="#c2ff00"/><stop offset=".3333" stop-color="#e5ff00"/><stop offset=".3889" stop-color="#f9ff00"/><stop offset=".4205" stop-color="#ffff00"/><stop offset=".4444" stop-color="#fffe00"/><stop offset=".468" stop-color="#ffff00"/><stop offset=".5" stop-color="#f9ff00"/><stop offset=".5556" stop-color="#e5ff00"/><stop offset=".6111" stop-color="#c3ff00"/><stop offset=".6667" stop-color="#93ff00"/><stop offset=".7222" stop-color="#55ff00"/><stop offset=".7835" stop-color="#01ff00"/><stop offset=".8333" stop-color="#00ff50"/><stop offset=".8889" stop-color="#00ffb7"/><stop offset=".924" stop-color="#00ffff"/><stop offset=".9444" stop-color="#00d3ff"/><stop offset="1" stop-color="#0050ff"/></linearGradient><linearGradient gradientUnits="userSpaceOnUse" x1="41.4" x2="311.8" y1="0" y2="0" id="cg16"><stop offset="0" stop-color="#00ffd0"/><stop offset=".0556" stop-color="#00ff68"/><stop offset=".1205" stop-color="#00ff00"/><stop offset=".1667" stop-color="#3eff00"/><stop offset=".2222" stop-color="#7dff00"/><stop offset=".2778" stop-color="#aeff00"/><stop offset=".3333" stop-color="#d2ff00"/><stop offset=".3889" stop-color="#e7ff00"/><stop offset=".4444" stop-color="#efff00"/><stop offset=".5" stop-color="#e9ff00"/><stop offset=".5556" stop-color="#d6ff00"/><stop offset=".6111" stop-color="#b4ff00"/><stop offset=".6667" stop-color="#85ff00"/><stop offset=".7222" stop-color="#49ff00"/><stop offset=".7765" stop-color="#00ff00"/><stop offset=".8333" stop-color="#00ff5a"/><stop offset=".8889" stop-color="#00ffc0"/><stop offset=".9195" stop-color="#00fffe"/><stop offset=".9444" stop-color="#00caff"/><stop offset="1" stop-color="#0049ff"/></linearGradient><linearGradient gradientUnits="userSpaceOnUse" x1="41.4" x2="311.8" y1="0" y2="0" id="cg17"><stop offset="0" stop-color="#00ffeb"/><stop offset=".0556" stop-color="#00ff82"/><stop offset=".1111" stop-color="#00ff27"/><stop offset=".1375" stop-color="#00ff00"/><stop offset=".1667" stop-color="#27ff00"/><stop offset=".2222" stop-color="#67ff00"/><stop offset=".2778" stop-color="#99ff00"/><stop offset=".3333" stop-color="#bdff00"/><stop offset=".3889" stop-color="#d4ff00"/><stop offset=".4444" stop-color="#dcff00"/><stop offset=".5" stop-color="#d8ff00"/><stop offset=".5556" stop-color="#c5ff00"/><stop offset=".6111" stop-color="#a5ff00"/><stop offset=".6667" stop-color="#77ff00"/><stop offset=".7222" stop-color="#3bff00"/><stop offset=".7675" stop-color="#00ff00"/><stop offset=".8333" stop-color="#00ff66"/><stop offset=".8889" stop-color="#00ffcb"/><stop offset=".915" stop-color="#00ffff"/><stop offset=".9444" stop-color="#00c1ff"/><stop offset="1" stop-color="#0040ff"/></linearGradient><linearGradient gradientUnits="userSpaceOnUse" x1="41.4" x2="311.8" y1="0" y2="0" id="cg18"><stop offset=".004" stop-color="#00ffff"/><stop offset=".0556" stop-color="#00ff9d"/><stop offset=".1111" stop-color="#00ff41"/><stop offset=".156" stop-color="#00ff01"/><stop offset=".2222" stop-color="#4eff00"/><stop offset=".2778" stop-color="#81ff00"/><stop offset=".3333" stop-color="#a7ff00"/><stop offset=".3889" stop-color="#beff00"/><stop offset=".4444" stop-color="#c8ff00"/><stop offset=".5" stop-color="#c4ff00"/><stop offset=".5556" stop-color="#b3ff00"/><stop offset=".6111" stop-color="#93ff00"/><stop offset=".6667" stop-color="#66ff00"/><stop offset=".7222" stop-color="#2cff00"/><stop offset=".7565" stop-color="#00ff00"/><stop offset=".7778" stop-color="#00ff1d"/><stop offset=".8333" stop-color="#00ff73"/><stop offset=".8889" stop-color="#00ffd7"/><stop offset=".909" stop-color="#00ffff"/><stop offset=".9444" stop-color="#00b5ff"/><stop offset="1" stop-color="#0036ff"/></linearGradient><linearGradient gradientUnits="userSpaceOnUse" x1="41.4" x2="311.8" y1="0" y2="0" id="cg19"><stop offset="0" stop-color="#00d9ff"/><stop offset=".019" stop-color="#00ffff"/><stop offset=".0556" stop-color="#00ffba"/><stop offset=".1111" stop-color="#00ff5d"/><stop offset=".177" stop-color="#00ff00"/><stop offset=".2222" stop-color="#34ff00"/><stop offset=".2778" stop-color="#68ff00"/><stop offset=".3333" stop-color="#8fff00"/><stop offset=".3889" stop-color="#a7ff00"/><stop offset=".4444" stop-color="#b2ff00"/><stop offset=".5" stop-color="#afff00"/><stop offset=".5556" stop-color="#9fff00"/><stop offset=".6111" stop-color="#80ff00"/><stop offset=".6667" stop-color="#54ff00"/><stop offset=".7222" stop-color="#1bff00"/><stop offset=".744" stop-color="#00ff00"/><stop offset=".7778" stop-color="#00ff2d"/><stop offset=".8333" stop-color="#00ff82"/><stop offset=".8889" stop-color="#00ffe5"/><stop offset=".902" stop-color="#00ffff"/><stop offset=".9444" stop-color="#00a8ff"/><stop offset="1" stop-color="#002aff"/></linearGradient><filter id="cbl" x="-5%" y="-5%" width="110%" height="110%"><feGaussianBlur stdDeviation="0 8.27"/></filter><clipPath id="ccp"><rect x="41.4" y="358.1" width="270.4" height="270.5"/></clipPath></defs>
<g clip-path="url(#ccp)"><g filter="url(#cbl)"><rect x="31.4" y="343.07" width="290.4" height="15.53" fill="url(#cg0)"/><rect x="31.4" y="358.1" width="290.4" height="15.53" fill="url(#cg1)"/><rect x="31.4" y="373.13" width="290.4" height="15.53" fill="url(#cg2)"/><rect x="31.4" y="388.16" width="290.4" height="15.53" fill="url(#cg3)"/><rect x="31.4" y="403.18" width="290.4" height="15.53" fill="url(#cg4)"/><rect x="31.4" y="418.21" width="290.4" height="15.53" fill="url(#cg5)"/><rect x="31.4" y="433.24" width="290.4" height="15.53" fill="url(#cg6)"/><rect x="31.4" y="448.27" width="290.4" height="15.53" fill="url(#cg7)"/><rect x="31.4" y="463.29" width="290.4" height="15.53" fill="url(#cg8)"/><rect x="31.4" y="478.32" width="290.4" height="15.53" fill="url(#cg9)"/><rect x="31.4" y="493.35" width="290.4" height="15.53" fill="url(#cg10)"/><rect x="31.4" y="508.38" width="290.4" height="15.53" fill="url(#cg11)"/><rect x="31.4" y="523.41" width="290.4" height="15.53" fill="url(#cg12)"/><rect x="31.4" y="538.43" width="290.4" height="15.53" fill="url(#cg13)"/><rect x="31.4" y="553.46" width="290.4" height="15.53" fill="url(#cg14)"/><rect x="31.4" y="568.49" width="290.4" height="15.53" fill="url(#cg15)"/><rect x="31.4" y="583.52" width="290.4" height="15.53" fill="url(#cg16)"/><rect x="31.4" y="598.54" width="290.4" height="15.53" fill="url(#cg17)"/><rect x="31.4" y="613.57" width="290.4" height="15.53" fill="url(#cg18)"/><rect x="31.4" y="628.6" width="290.4" height="15.53" fill="url(#cg19)"/></g></g>
<path d="M310.8 628.6 L311.2 624.1 L311.6 619.6 L311.8 616.7 M311.8 421.8 L311.5 417.8 L311.2 413.3 L310.8 408.8 L310.5 405.4 L310.1 400.9 L309.7 396.4 L309.4 393 L309 388.5 L308.5 384 L308.2 380.6 L307.7 376.1 L307.3 372.2 L306.9 368.2 L306.4 363.7 L306 360.4 L305.7 358.1 M273.9 628.6 L274.5 624.1 L275 620.7 L275.6 616.2 L276 612.8 L276.6 608.3 L277 604.9 L277.5 600.4 L277.9 595.9 L278.3 592.5 L278.7 588 L279.1 583.5 L279.4 580.1 L279.7 575.6 L280.1 571.1 L280.3 567.7 L280.6 563.2 L280.9 558.7 L281.1 554.2 L281.4 549.7 L281.5 546.3 L281.7 541.8 L281.9 537.3 L282 532.8 L282.2 528.3 L282.3 523.8 L282.4 519.3 L282.4 514.8 L282.5 510.3 L282.5 505.7 L282.5 502.4 L282.5 497.9 L282.5 494.5 L282.4 490 L282.4 485.5 L282.3 481 L282.2 476.4 L282.1 471.9 L282 467.4 L281.8 462.9 L281.6 458.4 L281.4 453.9 L281.3 450.5 L281.1 446 L280.8 441.5 L280.6 437 L280.3 432.5 L280.1 429.1 L279.8 424.6 L279.4 420.1 L279.1 416.1 L278.8 412.2 L278.4 407.7 L278 403.2 L277.7 399.8 L277.3 395.3 L276.9 390.9 L276.5 387.4 L276 382.9 L275.7 379.5 L275.2 375 L274.6 370.5 L274.2 367.1 L273.7 362.6 L273.2 359.2 L273.1 358.1 M41.4 566.3 L42.2 570 L42.9 573.4 L43.7 576.8 L44.7 581.3 L45.5 584.6 L46.3 588 L47.1 591.4 L48.2 595.9 L49 599.3 L49.9 602.7 L50.7 606.1 L51.6 609.4 L52.7 613.3 L53.8 617.3 L54.7 620.7 L55.7 624.1 L56.6 627.5 L57 628.6 M214.4 628.6 L215.7 625.2 L217 621.8 L218.2 618.5 L219.4 615.1 L220.5 611.7 L221.5 608.3 L222.5 604.9 L223.5 601.6 L224.4 598.2 L225.2 594.8 L226.2 590.9 L227.1 586.9 L227.8 583.5 L228.5 580.1 L229.4 575.6 L230 572.2 L230.7 568.4 L231.3 564.4 L231.9 561 L232.5 556.5 L233 553.1 L233.6 548.6 L234.1 544.6 L234.5 540.7 L235 536.2 L235.3 532.8 L235.7 528.3 L236.1 523.8 L236.3 520.4 L236.6 515.9 L236.9 511.4 L237.1 506.9 L237.3 502.4 L237.5 499 L237.6 494.5 L237.7 490 L237.8 485.5 L237.9 481 L237.9 476.4 L237.9 471.9 L237.9 467.4 L237.8 462.9 L237.7 458.4 L237.6 453.9 L237.4 449.7 L237.3 446 L237.1 441.5 L236.9 437 L236.6 432.5 L236.3 428 L236.1 424.6 L235.8 420.1 L235.4 415.6 L235.2 412.2 L234.7 407.7 L234.3 403.2 L234 399.8 L233.5 395.3 L233 390.8 L232.6 387.4 L232 382.9 L231.6 379.5 L231 375 L230.5 371.6 L229.9 367.1 L229.3 363.7 L228.6 359.2 L228.5 358.1 M63.2 358.1 L63.1 362.6 L63.1 367.1 L63.1 371.6 L63.1 376.1 L63.1 380.6 L63.2 385.1 L63.3 389.7 L63.5 394.2 L63.6 398.7 L63.8 403.2 L64 406.6 L64.2 411.1 L64.5 415.6 L64.8 420.1 L65.1 423.5 L65.4 428 L65.8 432.5 L66.2 437 L66.5 440.4 L67 444.9 L67.3 448.3 L67.8 452.8 L68.3 457.3 L68.7 460.7 L69.3 465.2 L69.8 468.6 L70.4 473.1 L70.9 476.4 L71.6 481 L72.1 484.3 L72.8 488.8 L73.4 492.2 L74.1 496.1 L74.8 500.1 L75.4 503.5 L76.3 508 L77 511.4 L77.6 514.8 L78.6 519.2 L79.3 522.7 L80.1 526 L80.9 529.4 L81.9 533.9 L82.8 537.3 L83.6 540.7 L84.5 544.1 L85.4 547.5 L86.5 551.5 L87.5 555.3 L88.5 558.7 L89.5 562.1 L90.5 565.5 L91.6 568.9 L92.7 572.2 L93.8 575.6 L94.9 579 L96.1 582.4 L97.3 585.8 L98.6 589.2 L99.8 592.5 L101.1 595.8 L102.2 598.6 L103.5 601.6 L104.9 604.9 L106.4 608.3 L107.9 611.6 L109 614 L110.6 617.3 L112.3 620.7 L113.5 623.1 L115.2 626.3 L116.5 628.6" fill="none" stroke="#1a1a1a" stroke-width="0.6"/>
<path d="M41.4 358.1H311.8V628.6" fill="none" stroke="#777" stroke-width="0.6"/>
<path d="M41.4 358.1V628.6H311.8" fill="none" stroke="#333" stroke-width="0.8"/>
<path d="M41.4 628.6v6.4 M86.47 628.6v6.4 M131.53 628.6v6.4 M176.6 628.6v6.4 M221.67 628.6v6.4 M266.73 628.6v6.4 M311.8 628.6v6.4 M41.4 358.1h-6.4 M41.4 425.73h-6.4 M41.4 493.35h-6.4 M41.4 560.98h-6.4 M41.4 628.6h-6.4" stroke="#333" stroke-width="0.7" fill="none"/>
<text x="41.4" y="643.6" font-size="5.7" text-anchor="middle" fill="#222">0.8</text>
<text x="86.47" y="643.6" font-size="5.7" text-anchor="middle" fill="#222">0.9</text>
<text x="131.53" y="643.6" font-size="5.7" text-anchor="middle" fill="#222">1</text>
<text x="176.6" y="643.6" font-size="5.7" text-anchor="middle" fill="#222">1.1</text>
<text x="221.67" y="643.6" font-size="5.7" text-anchor="middle" fill="#222">1.2</text>
<text x="266.73" y="643.6" font-size="5.7" text-anchor="middle" fill="#222">1.3</text>
<text x="311.8" y="643.6" font-size="5.7" text-anchor="middle" fill="#222">1.4</text>
<text x="32.1" y="360.1" font-size="5.7" text-anchor="end" fill="#222">0.35</text>
<text x="32.1" y="427.73" font-size="5.7" text-anchor="end" fill="#222">0.3</text>
<text x="32.1" y="495.35" font-size="5.7" text-anchor="end" fill="#222">0.25</text>
<text x="32.1" y="562.98" font-size="5.7" text-anchor="end" fill="#222">0.2</text>
<text x="32.1" y="630.6" font-size="5.7" text-anchor="end" fill="#222">0.15</text>
<text x="176.6" y="664.2" font-size="7.3" text-anchor="middle" textLength="56.6" lengthAdjust="spacingAndGlyphs" fill="#222">A: Beeswax (gm)</text>
<text x="6.7" y="492.35" font-size="7.3" text-anchor="middle" transform="rotate(-90 6.7 492.35)" textLength="76.6" lengthAdjust="spacingAndGlyphs" fill="#222">B: Carnauba Wax (gm)</text>
<text x="176.6" y="353.3" font-size="9.35" text-anchor="middle" textLength="126" lengthAdjust="spacingAndGlyphs" fill="#111">% Drug Release after 12 h (%)</text>
<text x="183" y="681.1" font-size="10.7" text-anchor="middle" font-weight="bold" fill="#111">(c)</text>
<rect x="71.4" y="500.7" width="7.4" height="5.8" fill="#fff" stroke="#333" stroke-width="0.5"/>
<text x="75.1" y="504.8" font-size="3.4" text-anchor="middle" fill="#555">80</text>
<rect x="234.6" y="494" width="7.4" height="5.8" fill="#fff" stroke="#333" stroke-width="0.5"/>
<text x="238.3" y="498.1" font-size="3.4" text-anchor="middle" fill="#555">80</text>
<rect x="279.8" y="487.2" width="7.4" height="5.8" fill="#fff" stroke="#333" stroke-width="0.5"/>
<text x="283.5" y="491.3" font-size="3.4" text-anchor="middle" fill="#555">75</text>
<rect x="45.8" y="592.6" width="7.4" height="5.8" fill="#fff" stroke="#333" stroke-width="0.5"/>
<text x="49.5" y="596.7" font-size="3.4" text-anchor="middle" fill="#555">75</text>
<rect x="303.9" y="369" width="7.4" height="5.8" fill="#fff" stroke="#333" stroke-width="0.5"/>
<text x="307.6" y="373.1" font-size="3.4" text-anchor="middle" fill="#555">70</text>
<circle cx="41.4" cy="358.1" r="2.7" fill="#c20000" stroke="#5a0000" stroke-width="0.5"/>
<circle cx="311.8" cy="358.1" r="2.7" fill="#c20000" stroke="#5a0000" stroke-width="0.5"/>
<circle cx="41.4" cy="628.6" r="2.7" fill="#c20000" stroke="#5a0000" stroke-width="0.5"/>
<circle cx="311.8" cy="628.6" r="2.7" fill="#c20000" stroke="#5a0000" stroke-width="0.5"/>
<circle cx="176.6" cy="493.35" r="2.7" fill="#c20000" stroke="#5a0000" stroke-width="0.5"/>
<text x="170.4" y="494.45" font-size="3.2" text-anchor="middle" fill="#444">3</text>
<path d="M42.9 714.6H320.6V991.8" fill="none" stroke="#4a4a4a" stroke-width="0.75"/>
<path d="M42.9 714.6V991.8H320.6" fill="none" stroke="#444" stroke-width="1.1"/>
<text x="56.7" y="1006.8" font-size="5.9" text-anchor="middle" fill="#222">35</text>
<text x="33.9" y="980" font-size="5.9" text-anchor="end" fill="#222">35</text>
<text x="119.1" y="1006.8" font-size="5.9" text-anchor="middle" fill="#222">40</text>
<text x="33.9" y="917.6" font-size="5.9" text-anchor="end" fill="#222">40</text>
<text x="181.5" y="1006.8" font-size="5.9" text-anchor="middle" fill="#222">45</text>
<text x="33.9" y="855.2" font-size="5.9" text-anchor="end" fill="#222">45</text>
<text x="243.9" y="1006.8" font-size="5.9" text-anchor="middle" fill="#222">50</text>
<text x="33.9" y="792.8" font-size="5.9" text-anchor="end" fill="#222">50</text>
<text x="306.3" y="1006.8" font-size="5.9" text-anchor="middle" fill="#222">55</text>
<text x="33.9" y="730.4" font-size="5.9" text-anchor="end" fill="#222">55</text>
<path d="M56.7 991.8v7 M42.9 978h-6.7 M119.1 991.8v7 M42.9 915.6h-6.7 M181.5 991.8v7 M42.9 853.2h-6.7 M243.9 991.8v7 M42.9 790.8h-6.7 M306.3 991.8v7 M42.9 728.4h-6.7" stroke="#333" stroke-width="0.7" fill="none"/>
<path d="M56.7 978L306.3 728.4" stroke="#333" stroke-width="0.85"/>
<rect x="54.1" y="972.9" width="5.2" height="5.2" fill="#0000ff" stroke="#222" stroke-width="0.55"/>
<rect x="79.06" y="955.43" width="5.2" height="5.2" fill="#0078ff" stroke="#222" stroke-width="0.55"/>
<rect x="79.06" y="949.19" width="5.2" height="5.2" fill="#0078ff" stroke="#222" stroke-width="0.55"/>
<rect x="91.54" y="937.96" width="5.2" height="5.2" fill="#00b4ff" stroke="#222" stroke-width="0.55"/>
<rect x="178.9" y="849.48" width="5.2" height="5.2" fill="#5aff00" stroke="#222" stroke-width="0.55"/>
<rect x="191.38" y="843.36" width="5.2" height="5.2" fill="#96ff00" stroke="#222" stroke-width="0.55"/>
<rect x="191.38" y="830.26" width="5.2" height="5.2" fill="#96ff00" stroke="#222" stroke-width="0.55"/>
<rect x="203.86" y="830.26" width="5.2" height="5.2" fill="#d2ff00" stroke="#222" stroke-width="0.55"/>
<rect x="216.34" y="815.16" width="5.2" height="5.2" fill="#fff000" stroke="#222" stroke-width="0.55"/>
<rect x="216.34" y="808.92" width="5.2" height="5.2" fill="#fff000" stroke="#222" stroke-width="0.55"/>
<rect x="228.82" y="801.18" width="5.2" height="5.2" fill="#ffb400" stroke="#222" stroke-width="0.55"/>
<rect x="241.3" y="783.83" width="5.2" height="5.2" fill="#ff7800" stroke="#222" stroke-width="0.55"/>
<rect x="253.78" y="777.59" width="5.2" height="5.2" fill="#ff3c00" stroke="#222" stroke-width="0.55"/>
<rect x="266.26" y="766.98" width="5.2" height="5.2" fill="#ff0000" stroke="#222" stroke-width="0.55"/>
<text x="200.22" y="833.96" font-size="3.2" text-anchor="middle" fill="#555">2</text>
<text x="181.75" y="709.6" font-size="9.6" text-anchor="middle" textLength="84.7" lengthAdjust="spacingAndGlyphs" fill="#111">Predicted vs. Actual</text>
<text x="181.75" y="1022" font-size="8" text-anchor="middle" textLength="22.1" lengthAdjust="spacingAndGlyphs" fill="#222">Actual</text>
<text x="7.4" y="853.2" font-size="8" text-anchor="middle" transform="rotate(-90 7.4 853.2)" textLength="33.6" lengthAdjust="spacingAndGlyphs" fill="#222">Predicted</text>
<text x="181.75" y="1037.6" font-size="10.7" text-anchor="middle" font-weight="bold" fill="#111">(e)</text>
<path d="M394.5 714.1H664.4V984.5" fill="none" stroke="#4a4a4a" stroke-width="0.75"/>
<path d="M394.5 714.1V984.5H664.4" fill="none" stroke="#444" stroke-width="1.1"/>
<text x="407.5" y="999.3" font-size="5.9" text-anchor="middle" fill="#222">65</text>
<text x="385.5" y="972.9" font-size="5.9" text-anchor="end" fill="#222">65</text>
<text x="456.2" y="999.3" font-size="5.9" text-anchor="middle" fill="#222">70</text>
<text x="385.5" y="924.2" font-size="5.9" text-anchor="end" fill="#222">70</text>
<text x="504.9" y="999.3" font-size="5.9" text-anchor="middle" fill="#222">75</text>
<text x="385.5" y="875.5" font-size="5.9" text-anchor="end" fill="#222">75</text>
<text x="553.6" y="999.3" font-size="5.9" text-anchor="middle" fill="#222">80</text>
<text x="385.5" y="826.8" font-size="5.9" text-anchor="end" fill="#222">80</text>
<text x="602.3" y="999.3" font-size="5.9" text-anchor="middle" fill="#222">85</text>
<text x="385.5" y="778.1" font-size="5.9" text-anchor="end" fill="#222">85</text>
<text x="651" y="999.3" font-size="5.9" text-anchor="middle" fill="#222">90</text>
<text x="385.5" y="729.4" font-size="5.9" text-anchor="end" fill="#222">90</text>
<path d="M407.5 984.5v7 M394.5 970.9h-6.7 M456.2 984.5v7 M394.5 922.2h-6.7 M504.9 984.5v7 M394.5 873.5h-6.7 M553.6 984.5v7 M394.5 824.8h-6.7 M602.3 984.5v7 M394.5 776.1h-6.7 M651 984.5v7 M394.5 727.4h-6.7" stroke="#333" stroke-width="0.7" fill="none"/>
<path d="M407.5 970.9L651 727.4" stroke="#333" stroke-width="0.85"/>
<rect x="444.83" y="930.51" width="5.2" height="5.2" fill="#0000ff" stroke="#222" stroke-width="0.55"/>
<rect x="453.89" y="921.16" width="5.2" height="5.2" fill="#0035ff" stroke="#222" stroke-width="0.55"/>
<rect x="457.11" y="918.53" width="5.2" height="5.2" fill="#0048ff" stroke="#222" stroke-width="0.55"/>
<rect x="457.89" y="909.96" width="5.2" height="5.2" fill="#004dff" stroke="#222" stroke-width="0.55"/>
<rect x="479.51" y="891.94" width="5.2" height="5.2" fill="#00ccff" stroke="#222" stroke-width="0.55"/>
<rect x="508.14" y="871.09" width="5.2" height="5.2" fill="#00ff8a" stroke="#222" stroke-width="0.55"/>
<rect x="528.6" y="843.34" width="5.2" height="5.2" fill="#00ff12" stroke="#222" stroke-width="0.55"/>
<rect x="531.03" y="840.32" width="5.2" height="5.2" fill="#00ff04" stroke="#222" stroke-width="0.55"/>
<rect x="541.07" y="828.53" width="5.2" height="5.2" fill="#37ff00" stroke="#222" stroke-width="0.55"/>
<rect x="549.34" y="828.53" width="5.2" height="5.2" fill="#67ff00" stroke="#222" stroke-width="0.55"/>
<rect x="568.14" y="789.18" width="5.2" height="5.2" fill="#d6ff00" stroke="#222" stroke-width="0.55"/>
<rect x="571.45" y="798.24" width="5.2" height="5.2" fill="#e9ff00" stroke="#222" stroke-width="0.55"/>
<rect x="586.55" y="789.18" width="5.2" height="5.2" fill="#ffbc00" stroke="#222" stroke-width="0.55"/>
<rect x="598.73" y="789.18" width="5.2" height="5.2" fill="#ff7500" stroke="#222" stroke-width="0.55"/>
<rect x="618.6" y="759.38" width="5.2" height="5.2" fill="#ff0000" stroke="#222" stroke-width="0.55"/>
<text x="529.45" y="709.6" font-size="9.6" text-anchor="middle" textLength="83.5" lengthAdjust="spacingAndGlyphs" fill="#111">Predicted vs. Actual</text>
<text x="529.45" y="1014" font-size="8" text-anchor="middle" textLength="22.1" lengthAdjust="spacingAndGlyphs" fill="#222">Actual</text>
<text x="368.4" y="849.3" font-size="8" text-anchor="middle" transform="rotate(-90 368.4 849.3)" textLength="33.6" lengthAdjust="spacingAndGlyphs" fill="#222">Predicted</text>
<text x="529.45" y="1038.3" font-size="10.7" text-anchor="middle" font-weight="bold" fill="#111">(f)</text>
<path d="M396.2 193.4L534.6 146.4L672.9 193.5 M394.5 157.9L534.6 114.3L674.6 157.9 M392.8 122.3L534.6 82.3L676.3 122.3 M391.1 86.7L534.6 50.2L678 86.8 M389.4 51.2L534.6 18.2L679.7 51.2 M419.2 185.6L413.6 45.7 M442.3 177.7L437.8 40.2 M465.4 169.9L462 34.7 M488.5 162.1L486.2 29.2 M511.5 154.2L510.4 23.7 M569.2 158.1L570.9 26.5 M603.8 169.9L607.2 34.7 M638.4 181.7L643.5 43 M534.6 186.8L534.6 18.2" fill="none" stroke="#222" stroke-width="0.72"/>
<path d="M398.3 237.9L389.4 51.2M670.8 238L679.7 51.2" fill="none" stroke="#1a1a1a" stroke-width="0.8"/>
<path d="M398.3 237.9L534.5 303.1L670.8 238L534.6 186.8Z" fill="#646464" stroke="#222" stroke-width="0.6" stroke-linejoin="round"/>
<path d="M398.3 237.9 L401.7 239.2 L405.2 240.5 L408.6 241.8 L410.9 242.7 L414.4 244 L417.9 245.3 L420.2 246.2 L423.8 247.5 L427.3 248.8 L430.9 250.2 L433.3 251.1 L436.9 252.4 L440.5 253.8 L442.9 254.7 L446.6 256.1 L450.3 257.5 L453.5 258.7 L456.5 259.8 L460.2 261.2 L464 262.6 L466.5 263.5 L470.3 265 L474.2 266.4 L476.7 267.3 L480.6 268.8 L484.5 270.2 L487.6 271.4 L491 272.6 L495 274.1 L499 275.6 L501.6 276.6 L505.7 278.1 L509.7 279.5 L512.4 280.5 L516.5 282.1 L520.6 283.6 L523.4 284.6 L527.6 286.1 L531.7 287.6 L534.5 288.7 L538.8 290.2 L543 291.8 L545.9 292.8 L550.2 294.4 L551.6 294.9" fill="none" stroke="#009ceb" stroke-width="1.1"/>
<path d="M415.6 231.4 L417.9 232.3 L421.4 233.5 L424.8 234.7 L427.5 235.7 L430.7 236.8 L434.2 238.1 L437.4 239.2 L440.2 240.2 L443.8 241.5 L447.4 242.8 L449.8 243.6 L453.4 244.9 L457.1 246.2 L459.6 247.1 L463.3 248.4 L467 249.7 L469.5 250.6 L473.3 251.9 L477.1 253.2 L479.6 254.1 L483.4 255.5 L487.3 256.8 L489.9 257.7 L493.8 259.1 L497.6 260.4 L500.3 261.4 L504.3 262.7 L507.7 264 L510.9 265.1 L514.9 266.4 L517.9 267.5 L521.7 268.8 L525.8 270.2 L528.5 271.1 L532.6 272.6 L536.8 274 L539.6 275 L543.8 276.4 L548 277.8 L550.8 278.8 L555.1 280.3 L558.7 281.5 L562.3 282.7 L566.6 284.2 L569.5 285.2 L571 285.7" fill="none" stroke="#00eb9c" stroke-width="1.1"/>
<path d="M432.9 224.9 L436.5 226.1 L440 227.3 L442.3 228.1 L445.9 229.3 L449.5 230.5 L451.9 231.3 L455.5 232.5 L459.1 233.6 L461.6 234.5 L465.3 235.7 L467.8 236.5 L471.5 237.7 L475.2 239 L477.7 239.8 L481.5 241 L485.3 242.3 L487.8 243.1 L491.6 244.4 L494.2 245.2 L498.1 246.5 L502 247.7 L504.6 248.6 L508.5 249.9 L511.5 250.8 L515.2 252 L519.2 253.3 L521.8 254.2 L525.9 255.5 L528.9 256.4 L532.7 257.6 L536.8 258.9 L539.5 259.8 L543.7 261.1 L546.5 262 L550.7 263.4 L554.9 264.7 L557.7 265.6 L562 266.9 L564.8 267.8 L569.2 269.2 L572.3 270.2 L576.4 271.5 L580.8 272.8 L583.7 273.7 L588.2 275.1 L591.1 276" fill="none" stroke="#00eb00" stroke-width="1.1"/>
<path d="M454.6 216.8 L458.2 217.9 L460.6 218.6 L464.3 219.7 L466.9 220.5 L470.4 221.6 L474.1 222.7 L476.6 223.4 L480.3 224.5 L482.9 225.3 L486.6 226.4 L489.2 227.1 L493 228.3 L495.6 229 L499.4 230.2 L502.6 231.1 L505.9 232.1 L509.6 233.1 L512.5 234 L516.5 235.1 L519.1 235.9 L523.1 237 L525.8 237.8 L529.9 239 L532.6 239.7 L536.7 240.9 L539.5 241.7 L543.6 242.8 L546.4 243.6 L550.6 244.8 L553.4 245.6 L557.6 246.7 L560.5 247.5 L564.6 248.7 L567.6 249.5 L571.3 250.5 L574.9 251.4 L577.9 252.3 L582.2 253.4 L585.1 254.2 L589.6 255.4 L592.6 256.2 L597.1 257.4 L600.1 258.2 L603.8 259.1 L607.8 260.1 L610.8 260.9 L615.5 262.1 L618.6 262.9" fill="none" stroke="#9ceb00" stroke-width="1.1"/>
<path d="M480.1 207.2 L482.6 207.9 L486.5 208.8 L489 209.5 L492.5 210.3 L495.5 211.1 L498.1 211.7 L502.1 212.7 L504.7 213.3 L508.4 214.2 L511.4 214.9 L514.1 215.6 L518.2 216.5 L520.9 217.2 L523.7 217.8 L527.9 218.8 L530.6 219.4 L533.6 220.1 L537.7 221 L540.5 221.6 L543.4 222.2 L547.7 223.2 L550.6 223.8 L553.5 224.4 L557.2 225.1 L560.9 225.9 L563.9 226.5 L567 227.1 L570.5 227.8 L574.6 228.6 L577.7 229.2 L580.8 229.8 L583.9 230.3 L587.2 230.9 L591.2 231.6 L595.1 232.3 L598.4 232.8 L601.7 233.3 L605.1 233.9 L608.5 234.4 L611.9 234.9 L615.3 235.3 L618.9 235.8 L622.4 236.2 L626 236.6 L629.7 237 L632.7 237.3 L635.7 237.5 L639.3 237.8 L643.4 238.1 L646.4 238.2 L649.7 238.3 L653.5 238.3 L656.6 238.2 L659.8 238.1 L663.6 237.8 L667 237.4 L668.5 237.1" fill="none" stroke="#eb9c00" stroke-width="1.1"/>
<path d="M398.3 237.9L534.5 303.1L670.8 238" fill="none" stroke="#111" stroke-width="0.8" stroke-linejoin="round"/>
<circle cx="534.5" cy="253.6" r="2.8" fill="#ffc8c8" stroke="#7a5050" stroke-width="0.5"/>
<g stroke="#111" stroke-width="0.48" stroke-linejoin="round"><path d="M535.2 43.8L541 41.8L534.6 39.3L528.8 41.3Z" fill="#ff3425"/><path d="M529.3 46.2L535.2 43.8L528.8 41.3L522.9 43.6Z" fill="#ff3e2a"/><path d="M541.7 46.4L547.5 44.4L541 41.8L535.2 43.8Z" fill="#ff3b26"/><path d="M523.3 48.9L529.3 46.2L522.9 43.6L516.9 46.3Z" fill="#ff4a30"/><path d="M535.8 48.8L541.7 46.4L535.2 43.8L529.3 46.2Z" fill="#ff452b"/><path d="M548.2 49L554.1 46.9L547.5 44.4L541.7 46.4Z" fill="#ff4326"/><path d="M517.3 52L523.3 48.9L516.9 46.3L510.9 49.4Z" fill="#ff5935"/><path d="M529.8 51.5L535.8 48.8L529.3 46.2L523.3 48.9Z" fill="#ff5230"/><path d="M542.3 51.4L548.2 49L541.7 46.4L535.8 48.8Z" fill="#ff4d2b"/><path d="M554.9 51.6L560.7 49.5L554.1 46.9L548.2 49Z" fill="#ff4a26"/><path d="M511.2 55.5L517.3 52L510.9 49.4L504.8 52.9Z" fill="#ff693a"/><path d="M523.8 54.7L529.8 51.5L523.3 48.9L517.3 52Z" fill="#ff6035"/><path d="M536.4 54.2L542.3 51.4L535.8 48.8L529.8 51.5Z" fill="#ff5930"/><path d="M549 54L554.9 51.6L548.2 49L542.3 51.4Z" fill="#ff542c"/><path d="M561.6 54.3L567.4 52.2L560.7 49.5L554.9 51.6Z" fill="#ff5227"/><path d="M505.1 59.4L511.2 55.5L504.8 52.9L498.7 56.7Z" fill="#ff7b3f"/><path d="M517.7 58.2L523.8 54.7L517.3 52L511.2 55.5Z" fill="#ff703a"/><path d="M530.4 57.4L536.4 54.2L529.8 51.5L523.8 54.7Z" fill="#ff6736"/><path d="M543 56.9L549 54L542.3 51.4L536.4 54.2Z" fill="#ff6031"/><path d="M555.7 56.7L561.6 54.3L554.9 51.6L549 54Z" fill="#ff5b2c"/><path d="M568.4 56.9L574.2 54.8L567.4 52.2L561.6 54.3Z" fill="#ff5927"/><path d="M499 63.7L505.1 59.4L498.7 56.7L492.6 61Z" fill="#ff8f44"/><path d="M511.6 62.1L517.7 58.2L511.2 55.5L505.1 59.4Z" fill="#ff8240"/><path d="M524.3 60.9L530.4 57.4L523.8 54.7L517.7 58.2Z" fill="#ff773b"/><path d="M537 60.1L543 56.9L536.4 54.2L530.4 57.4Z" fill="#ff6e36"/><path d="M549.7 59.6L555.7 56.7L549 54L543 56.9Z" fill="#ff6731"/><path d="M562.5 59.4L568.4 56.9L561.6 54.3L555.7 56.7Z" fill="#ff632c"/><path d="M492.7 68.3L499 63.7L492.6 61L486.3 65.6Z" fill="#ffa449"/><path d="M575.2 59.7L581.1 57.5L574.2 54.8L568.4 56.9Z" fill="#ff6127"/><path d="M505.4 66.4L511.6 62.1L505.1 59.4L499 63.7Z" fill="#ff9644"/><path d="M518.2 64.9L524.3 60.9L517.7 58.2L511.6 62.1Z" fill="#ff8940"/><path d="M530.9 63.7L537 60.1L530.4 57.4L524.3 60.9Z" fill="#ff7e3c"/><path d="M543.7 62.8L549.7 59.6L543 56.9L537 60.1Z" fill="#ff7537"/><path d="M486.5 73.4L492.7 68.3L486.3 65.6L480.1 70.6Z" fill="#ffba4d"/><path d="M556.5 62.3L562.5 59.4L555.7 56.7L549.7 59.6Z" fill="#ff6e32"/><path d="M569.3 62.2L575.2 59.7L568.4 56.9L562.5 59.4Z" fill="#ff6a2d"/><path d="M499.2 71.1L505.4 66.4L499 63.7L492.7 68.3Z" fill="#ffaa49"/><path d="M582.2 62.4L588 60.2L581.1 57.5L575.2 59.7Z" fill="#ff6828"/><path d="M512 69.2L518.2 64.9L511.6 62.1L505.4 66.4Z" fill="#ff9c45"/><path d="M524.8 67.6L530.9 63.7L524.3 60.9L518.2 64.9Z" fill="#ff9041"/><path d="M480.2 78.8L486.5 73.4L480.1 70.6L473.8 76Z" fill="#ffd151"/><path d="M537.6 66.4L543.7 62.8L537 60.1L530.9 63.7Z" fill="#ff853c"/><path d="M550.5 65.6L556.5 62.3L549.7 59.6L543.7 62.8Z" fill="#ff7c37"/><path d="M492.9 76.2L499.2 71.1L492.7 68.3L486.5 73.4Z" fill="#ffc04e"/><path d="M563.4 65.1L569.3 62.2L562.5 59.4L556.5 62.3Z" fill="#ff7632"/><path d="M576.3 65L582.2 62.4L575.2 59.7L569.3 62.2Z" fill="#ff712d"/><path d="M505.8 73.9L512 69.2L505.4 66.4L499.2 71.1Z" fill="#ffb04a"/><path d="M589.2 65.2L595 63L588 60.2L582.2 62.4Z" fill="#ff7028"/><path d="M518.6 72L524.8 67.6L518.2 64.9L512 69.2Z" fill="#ffa346"/><path d="M473.8 84.7L480.2 78.8L473.8 76L467.4 81.8Z" fill="#ffe955"/><path d="M531.5 70.4L537.6 66.4L530.9 63.7L524.8 67.6Z" fill="#ff9641"/><path d="M486.6 81.7L492.9 76.2L486.5 73.4L480.2 78.8Z" fill="#ffd752"/><path d="M544.4 69.2L550.5 65.6L543.7 62.8L537.6 66.4Z" fill="#ff8c3d"/><path d="M557.4 68.4L563.4 65.1L556.5 62.3L550.5 65.6Z" fill="#ff8338"/><path d="M499.5 79.1L505.8 73.9L499.2 71.1L492.9 76.2Z" fill="#ffc64f"/><path d="M570.3 67.9L576.3 65L569.3 62.2L563.4 65.1Z" fill="#ff7d33"/><path d="M583.3 67.8L589.2 65.2L582.2 62.4L576.3 65Z" fill="#ff792e"/><path d="M467.4 91L473.8 84.7L467.4 81.8L461 88Z" fill="#fcff59"/><path d="M512.4 76.8L518.6 72L512 69.2L505.8 73.9Z" fill="#ffb74b"/><path d="M596.3 68L602.1 65.8L595 63L589.2 65.2Z" fill="#ff7728"/><path d="M525.3 74.8L531.5 70.4L524.8 67.6L518.6 72Z" fill="#ffa947"/><path d="M480.2 87.6L486.6 81.7L480.2 78.8L473.8 84.7Z" fill="#ffee56"/><path d="M538.3 73.3L544.4 69.2L537.6 66.4L531.5 70.4Z" fill="#ff9d42"/><path d="M493.1 84.6L499.5 79.1L492.9 76.2L486.6 81.7Z" fill="#ffdd53"/><path d="M551.3 72.1L557.4 68.4L550.5 65.6L544.4 69.2Z" fill="#ff923d"/><path d="M460.9 97.6L467.4 91L461 88L454.6 94.7Z" fill="#e2ff5d"/><path d="M564.3 71.2L570.3 67.9L563.4 65.1L557.4 68.4Z" fill="#ff8a38"/><path d="M506.1 81.9L512.4 76.8L505.8 73.9L499.5 79.1Z" fill="#ffcc4f"/><path d="M577.3 70.7L583.3 67.8L576.3 65L570.3 67.9Z" fill="#ff8433"/><path d="M590.4 70.6L596.3 68L589.2 65.2L583.3 67.8Z" fill="#ff802e"/><path d="M473.8 93.9L480.2 87.6L473.8 84.7L467.4 91Z" fill="#f7ff5a"/><path d="M519.1 79.7L525.3 74.8L518.6 72L512.4 76.8Z" fill="#ffbd4b"/><path d="M603.4 70.9L609.3 68.6L602.1 65.8L596.3 68Z" fill="#ff7f29"/><path d="M532.1 77.7L538.3 73.3L531.5 70.4L525.3 74.8Z" fill="#ffaf47"/><path d="M486.8 90.5L493.1 84.6L486.6 81.7L480.2 87.6Z" fill="#fff457"/><path d="M454.5 104.7L460.9 97.6L454.6 94.7L448.1 101.7Z" fill="#c8ff60"/><path d="M545.1 76.1L551.3 72.1L544.4 69.2L538.3 73.3Z" fill="#ffa343"/><path d="M499.7 87.5L506.1 81.9L499.5 79.1L493.1 84.6Z" fill="#ffe254"/><path d="M558.2 74.9L564.3 71.2L557.4 68.4L551.3 72.1Z" fill="#ff993e"/><path d="M467.4 100.6L473.8 93.9L467.4 91L460.9 97.6Z" fill="#ddff5d"/><path d="M571.3 74.1L577.3 70.7L570.3 67.9L564.3 71.2Z" fill="#ff9139"/><path d="M512.8 84.9L519.1 79.7L512.4 76.8L506.1 81.9Z" fill="#ffd250"/><path d="M584.4 73.6L590.4 70.6L583.3 67.8L577.3 70.7Z" fill="#ff8b34"/><path d="M597.6 73.5L603.4 70.9L596.3 68L590.4 70.6Z" fill="#ff872f"/><path d="M447.9 112.2L454.5 104.7L448.1 101.7L441.6 109.1Z" fill="#acff63"/><path d="M480.3 96.9L486.8 90.5L480.2 87.6L473.8 93.9Z" fill="#f2ff5b"/><path d="M525.8 82.6L532.1 77.7L525.3 74.8L519.1 79.7Z" fill="#ffc34c"/><path d="M610.7 73.7L616.5 71.5L609.3 68.6L603.4 70.9Z" fill="#ff8629"/><path d="M538.9 80.6L545.1 76.1L538.3 73.3L532.1 77.7Z" fill="#ffb648"/><path d="M493.3 93.5L499.7 87.5L493.1 84.6L486.8 90.5Z" fill="#fffa58"/><path d="M460.9 107.7L467.4 100.6L460.9 97.6L454.5 104.7Z" fill="#c3ff61"/><path d="M552.1 79L558.2 74.9L551.3 72.1L545.1 76.1Z" fill="#ffaa43"/><path d="M506.4 90.5L512.8 84.9L506.1 81.9L499.7 87.5Z" fill="#ffe855"/><path d="M441.4 120.1L447.9 112.2L441.6 109.1L435.1 117Z" fill="#8fff65"/><path d="M565.2 77.8L571.3 74.1L564.3 71.2L558.2 74.9Z" fill="#ffa03f"/><path d="M473.9 103.6L480.3 96.9L473.8 93.9L467.4 100.6Z" fill="#d8ff5e"/><path d="M578.4 77L584.4 73.6L577.3 70.7L571.3 74.1Z" fill="#ff9839"/><path d="M519.5 87.8L525.8 82.6L519.1 79.7L512.8 84.9Z" fill="#ffd851"/><path d="M591.6 76.5L597.6 73.5L590.4 70.6L584.4 73.6Z" fill="#ff9234"/><path d="M604.8 76.4L610.7 73.7L603.4 70.9L597.6 73.5Z" fill="#ff8e2f"/><path d="M454.3 115.3L460.9 107.7L454.5 104.7L447.9 112.2Z" fill="#a7ff64"/><path d="M486.9 99.9L493.3 93.5L486.8 90.5L480.3 96.9Z" fill="#ecff5c"/><path d="M532.7 85.5L538.9 80.6L532.1 77.7L525.8 82.6Z" fill="#ffc94d"/><path d="M618 76.7L623.8 74.4L616.5 71.5L610.7 73.7Z" fill="#ff8d2a"/><path d="M434.8 128.4L441.4 120.1L435.1 117L428.5 125.2Z" fill="#71ff68"/><path d="M545.9 83.6L552.1 79L545.1 76.1L538.9 80.6Z" fill="#ffbc49"/><path d="M500 96.5L506.4 90.5L499.7 87.5L493.3 93.5Z" fill="#ffff59"/><path d="M467.3 110.8L473.9 103.6L467.4 100.6L460.9 107.7Z" fill="#beff62"/><path d="M559.1 82L565.2 77.8L558.2 74.9L552.1 79Z" fill="#ffb144"/><path d="M513.2 93.5L519.5 87.8L512.8 84.9L506.4 90.5Z" fill="#ffee56"/><path d="M447.7 123.2L454.3 115.3L447.9 112.2L441.4 120.1Z" fill="#8bff66"/><path d="M572.3 80.8L578.4 77L571.3 74.1L565.2 77.8Z" fill="#ffa73f"/><path d="M480.4 106.7L486.9 99.9L480.3 96.9L473.9 103.6Z" fill="#d3ff5f"/><path d="M585.6 79.9L591.6 76.5L584.4 73.6L578.4 77Z" fill="#ff9f3a"/><path d="M428.1 137.1L434.8 128.4L428.5 125.2L421.9 133.9Z" fill="#6aff81"/><path d="M526.4 90.8L532.7 85.5L525.8 82.6L519.5 87.8Z" fill="#ffde52"/><path d="M598.9 79.5L604.8 76.4L597.6 73.5L591.6 76.5Z" fill="#ff9935"/><path d="M612.2 79.4L618 76.7L610.7 73.7L604.8 76.4Z" fill="#ff962f"/><path d="M460.8 118.4L467.3 110.8L460.9 107.7L454.3 115.3Z" fill="#a3ff65"/><path d="M493.6 103L500 96.5L493.3 93.5L486.9 99.9Z" fill="#e7ff5d"/><path d="M539.6 88.5L545.9 83.6L538.9 80.6L532.7 85.5Z" fill="#ffcf4e"/><path d="M625.5 79.6L631.3 77.3L623.8 74.4L618 76.7Z" fill="#ff952a"/><path d="M441.1 131.6L447.7 123.2L441.4 120.1L434.8 128.4Z" fill="#6dff69"/><path d="M552.9 86.5L559.1 82L552.1 79L545.9 83.6Z" fill="#ffc249"/><path d="M506.8 99.6L513.2 93.5L506.4 90.5L500 96.5Z" fill="#f9ff5a"/><path d="M473.9 113.9L480.4 106.7L473.9 103.6L467.3 110.8Z" fill="#b9ff63"/><path d="M421.5 146.2L428.1 137.1L421.9 133.9L415.2 142.9Z" fill="#6bffa5"/><path d="M566.2 85L572.3 80.8L565.2 77.8L559.1 82Z" fill="#ffb745"/><path d="M520 96.5L526.4 90.8L519.5 87.8L513.2 93.5Z" fill="#fff356"/><path d="M579.5 83.8L585.6 79.9L578.4 77L572.3 80.8Z" fill="#ffad40"/><path d="M454.2 126.4L460.8 118.4L454.3 115.3L447.7 123.2Z" fill="#87ff67"/><path d="M487.1 109.8L493.6 103L486.9 99.9L480.4 106.7Z" fill="#ceff60"/><path d="M592.9 82.9L598.9 79.5L591.6 76.5L585.6 79.9Z" fill="#ffa63b"/><path d="M434.5 140.4L441.1 131.6L434.8 128.4L428.1 137.1Z" fill="#6bff87"/><path d="M533.3 93.8L539.6 88.5L532.7 85.5L526.4 90.8Z" fill="#ffe453"/><path d="M606.2 82.4L612.2 79.4L604.8 76.4L598.9 79.5Z" fill="#ffa035"/><path d="M414.8 155.8L421.5 146.2L415.2 142.9L408.6 152.4Z" fill="#6dffca"/><path d="M619.6 82.3L625.5 79.6L618 76.7L612.2 79.4Z" fill="#ff9d30"/><path d="M467.3 121.6L473.9 113.9L467.3 110.8L460.8 118.4Z" fill="#9fff66"/><path d="M500.3 106L506.8 99.6L500 96.5L493.6 103Z" fill="#e2ff5e"/><path d="M546.6 91.5L552.9 86.5L545.9 83.6L539.6 88.5Z" fill="#ffd54f"/><path d="M633 82.6L638.8 80.3L631.3 77.3L625.5 79.6Z" fill="#ff9c2a"/><path d="M447.6 134.8L454.2 126.4L447.7 123.2L441.1 131.6Z" fill="#6aff6a"/><path d="M560 89.6L566.2 85L559.1 82L552.9 86.5Z" fill="#ffc94a"/><path d="M513.6 102.6L520 96.5L513.2 93.5L506.8 99.6Z" fill="#f4ff5b"/><path d="M480.5 117.1L487.1 109.8L480.4 106.7L473.9 113.9Z" fill="#b5ff64"/><path d="M427.8 149.6L434.5 140.4L428.1 137.1L421.5 146.2Z" fill="#6dffaa"/><path d="M408.1 165.8L414.8 155.8L408.6 152.4L401.9 162.3Z" fill="#6effef"/><path d="M573.4 88L579.5 83.8L572.3 80.8L566.2 85Z" fill="#ffbd45"/><path d="M526.9 99.6L533.3 93.8L526.4 90.8L520 96.5Z" fill="#fff957"/><path d="M586.8 86.8L592.9 82.9L585.6 79.9L579.5 83.8Z" fill="#ffb440"/><path d="M460.7 129.6L467.3 121.6L460.8 118.4L454.2 126.4Z" fill="#83ff69"/><path d="M493.8 113L500.3 106L493.6 103L487.1 109.8Z" fill="#c9ff61"/><path d="M600.2 85.9L606.2 82.4L598.9 79.5L592.9 82.9Z" fill="#ffad3b"/><path d="M440.9 143.7L447.6 134.8L441.1 131.6L434.5 140.4Z" fill="#6cff8d"/><path d="M540.3 96.9L546.6 91.5L539.6 88.5L533.3 93.8Z" fill="#ffea53"/><path d="M613.7 85.5L619.6 82.3L612.2 79.4L606.2 82.4Z" fill="#ffa736"/><path d="M421.1 159.2L427.8 149.6L421.5 146.2L414.8 155.8Z" fill="#6effcf"/><path d="M401.4 176.2L408.1 165.8L401.9 162.3L395.2 172.7Z" fill="#6fe8ff"/><path d="M627.1 85.4L633 82.6L625.5 79.6L619.6 82.3Z" fill="#ffa430"/><path d="M474 124.8L480.5 117.1L473.9 113.9L467.3 121.6Z" fill="#9aff67"/><path d="M507.1 109.2L513.6 102.6L506.8 99.6L500.3 106Z" fill="#ddff5f"/><path d="M553.7 94.6L560 89.6L552.9 86.5L546.6 91.5Z" fill="#ffdb4f"/><path d="M640.6 85.7L646.4 83.3L638.8 80.3L633 82.6Z" fill="#ffa42b"/><path d="M454.1 138.1L460.7 129.6L454.2 126.4L447.6 134.8Z" fill="#6bff70"/><path d="M567.2 92.6L573.4 88L566.2 85L560 89.6Z" fill="#ffcf4b"/><path d="M520.5 105.8L526.9 99.6L520 96.5L513.6 102.6Z" fill="#efff5c"/><path d="M487.2 120.3L493.8 113L487.1 109.8L480.5 117.1Z" fill="#b0ff65"/><path d="M434.2 152.9L440.9 143.7L434.5 140.4L427.8 149.6Z" fill="#6effb0"/><path d="M414.4 169.2L421.1 159.2L414.8 155.8L408.1 165.8Z" fill="#6ffff4"/><path d="M580.6 91L586.8 86.8L579.5 83.8L573.4 88Z" fill="#ffc446"/><path d="M533.9 102.7L540.3 96.9L533.3 93.8L526.9 99.6Z" fill="#ffff58"/><path d="M594.1 89.8L600.2 85.9L592.9 82.9L586.8 86.8Z" fill="#ffbb41"/><path d="M467.3 132.9L474 124.8L467.3 121.6L460.7 129.6Z" fill="#7fff6a"/><path d="M500.6 116.1L507.1 109.2L500.3 106L493.8 113Z" fill="#c5ff62"/><path d="M607.6 89L613.7 85.5L606.2 82.4L600.2 85.9Z" fill="#ffb33c"/><path d="M447.4 147L454.1 138.1L447.6 134.8L440.9 143.7Z" fill="#6dff92"/><path d="M547.4 100L553.7 94.6L546.6 91.5L540.3 96.9Z" fill="#ffef54"/><path d="M621.2 88.5L627.1 85.4L619.6 82.3L613.7 85.5Z" fill="#ffae36"/><path d="M427.5 162.6L434.2 152.9L427.8 149.6L421.1 159.2Z" fill="#6fffd4"/><path d="M407.6 179.7L414.4 169.2L408.1 165.8L401.4 176.2Z" fill="#71e3ff"/><path d="M634.7 88.4L640.6 85.7L633 82.6L627.1 85.4Z" fill="#ffab31"/><path d="M480.7 128L487.2 120.3L480.5 117.1L474 124.8Z" fill="#96ff68"/><path d="M514 112.3L520.5 105.8L513.6 102.6L507.1 109.2Z" fill="#d8ff60"/><path d="M560.9 97.7L567.2 92.6L560 89.6L553.7 94.6Z" fill="#ffe150"/><path d="M648.3 88.7L654 86.3L646.4 83.3L640.6 85.7Z" fill="#ffab2b"/><path d="M460.7 141.4L467.3 132.9L460.7 129.6L454.1 138.1Z" fill="#6cff76"/><path d="M574.4 95.7L580.6 91L573.4 88L567.2 92.6Z" fill="#ffd54c"/><path d="M527.5 108.9L533.9 102.7L526.9 99.6L520.5 105.8Z" fill="#e9ff5d"/><path d="M494 123.5L500.6 116.1L493.8 113L487.2 120.3Z" fill="#acff66"/><path d="M440.7 156.4L447.4 147L440.9 143.7L434.2 152.9Z" fill="#6fffb5"/><path d="M420.7 172.7L427.5 162.6L421.1 159.2L414.4 169.2Z" fill="#71fff9"/><path d="M588 94.1L594.1 89.8L586.8 86.8L580.6 91Z" fill="#ffca47"/><path d="M541 105.8L547.4 100L540.3 96.9L533.9 102.7Z" fill="#faff59"/><path d="M601.6 92.9L607.6 89L600.2 85.9L594.1 89.8Z" fill="#ffc142"/><path d="M474 136.2L480.7 128L474 124.8L467.3 132.9Z" fill="#7bff6b"/><path d="M507.5 119.4L514 112.3L507.1 109.2L500.6 116.1Z" fill="#c0ff64"/><path d="M615.2 92.1L621.2 88.5L613.7 85.5L607.6 89Z" fill="#ffba3c"/><path d="M454 150.4L460.7 141.4L454.1 138.1L447.4 147Z" fill="#6eff98"/><path d="M554.5 103.1L560.9 97.7L553.7 94.6L547.4 100Z" fill="#fff555"/><path d="M628.8 91.6L634.7 88.4L627.1 85.4L621.2 88.5Z" fill="#ffb537"/><path d="M434 166.1L440.7 156.4L434.2 152.9L427.5 162.6Z" fill="#71ffd9"/><path d="M414 183.3L420.7 172.7L414.4 169.2L407.6 179.7Z" fill="#72dfff"/><path d="M642.4 91.5L648.3 88.7L640.6 85.7L634.7 88.4Z" fill="#ffb331"/><path d="M487.4 131.3L494 123.5L487.2 120.3L480.7 128Z" fill="#92ff69"/><path d="M521 115.6L527.5 108.9L520.5 105.8L514 112.3Z" fill="#d3ff61"/><path d="M568.1 100.8L574.4 95.7L567.2 92.6L560.9 97.7Z" fill="#ffe751"/><path d="M656 91.8L661.8 89.4L654 86.3L648.3 88.7Z" fill="#ffb22b"/><path d="M467.3 144.8L474 136.2L467.3 132.9L460.7 141.4Z" fill="#6dff7c"/><path d="M581.8 98.8L588 94.1L580.6 91L574.4 95.7Z" fill="#ffdb4c"/><path d="M534.5 112.1L541 105.8L533.9 102.7L527.5 108.9Z" fill="#e4ff5e"/><path d="M500.9 126.8L507.5 119.4L500.6 116.1L494 123.5Z" fill="#a7ff67"/><path d="M447.2 159.8L454 150.4L447.4 147L440.7 156.4Z" fill="#70ffba"/><path d="M427.2 176.3L434 166.1L427.5 162.6L420.7 172.7Z" fill="#72fffd"/><path d="M595.4 97.3L601.6 92.9L594.1 89.8L588 94.1Z" fill="#ffd147"/><path d="M548.2 109L554.5 103.1L547.4 100L541 105.8Z" fill="#f4ff5a"/><path d="M609.1 96L615.2 92.1L607.6 89L601.6 92.9Z" fill="#ffc842"/><path d="M480.8 139.6L487.4 131.3L480.7 128L474 136.2Z" fill="#77ff6c"/><path d="M514.5 122.6L521 115.6L514 112.3L507.5 119.4Z" fill="#bbff65"/><path d="M622.8 95.2L628.8 91.6L621.2 88.5L615.2 92.1Z" fill="#ffc13d"/><path d="M460.6 153.8L467.3 144.8L460.7 141.4L454 150.4Z" fill="#6fff9d"/><path d="M561.8 106.3L568.1 100.8L560.9 97.7L554.5 103.1Z" fill="#fffb56"/><path d="M636.5 94.8L642.4 91.5L634.7 88.4L628.8 91.6Z" fill="#ffbc37"/><path d="M440.5 169.6L447.2 159.8L440.7 156.4L434 166.1Z" fill="#72ffde"/><path d="M420.4 186.9L427.2 176.3L420.7 172.7L414 183.3Z" fill="#73dbff"/><path d="M650.2 94.7L656 91.8L648.3 88.7L642.4 91.5Z" fill="#ffba32"/><path d="M494.3 134.7L500.9 126.8L494 123.5L487.4 131.3Z" fill="#8eff6a"/><path d="M528.1 118.8L534.5 112.1L527.5 108.9L521 115.6Z" fill="#ceff62"/><path d="M575.5 104L581.8 98.8L574.4 95.7L568.1 100.8Z" fill="#ffed52"/><path d="M663.9 95L669.7 92.5L661.8 89.4L656 91.8Z" fill="#ffba2c"/><path d="M474.1 148.2L480.8 139.6L474 136.2L467.3 144.8Z" fill="#6eff81"/><path d="M589.2 102L595.4 97.3L588 94.1L581.8 98.8Z" fill="#ffe14d"/><path d="M541.7 115.3L548.2 109L541 105.8L534.5 112.1Z" fill="#dfff5e"/><path d="M507.9 130.1L514.5 122.6L507.5 119.4L500.9 126.8Z" fill="#a3ff68"/><path d="M453.9 163.3L460.6 153.8L454 150.4L447.2 159.8Z" fill="#71ffc0"/><path d="M433.7 179.9L440.5 169.6L434 166.1L427.2 176.3Z" fill="#73fcff"/><path d="M602.9 100.4L609.1 96L601.6 92.9L595.4 97.3Z" fill="#ffd748"/><path d="M555.4 112.3L561.8 106.3L554.5 103.1L548.2 109Z" fill="#efff5b"/><path d="M616.7 99.2L622.8 95.2L615.2 92.1L609.1 96Z" fill="#ffce43"/><path d="M487.6 143L494.3 134.7L487.4 131.3L480.8 139.6Z" fill="#73ff6d"/><path d="M521.5 125.9L528.1 118.8L521 115.6L514.5 122.6Z" fill="#b7ff66"/><path d="M630.5 98.4L636.5 94.8L628.8 91.6L622.8 95.2Z" fill="#ffc83d"/><path d="M467.4 157.3L474.1 148.2L467.3 144.8L460.6 153.8Z" fill="#71ffa3"/><path d="M569.1 109.5L575.5 104L568.1 100.8L561.8 106.3Z" fill="#feff57"/><path d="M644.3 97.9L650.2 94.7L642.4 91.5L636.5 94.8Z" fill="#ffc338"/><path d="M447.1 173.2L453.9 163.3L447.2 159.8L440.5 169.6Z" fill="#73ffe3"/><path d="M426.9 190.5L433.7 179.9L427.2 176.3L420.4 186.9Z" fill="#74d7ff"/><path d="M658.1 97.9L663.9 95L656 91.8L650.2 94.7Z" fill="#ffc132"/><path d="M501.2 138L507.9 130.1L500.9 126.8L494.3 134.7Z" fill="#8aff6b"/><path d="M535.2 122.1L541.7 115.3L534.5 112.1L528.1 118.8Z" fill="#c9ff63"/><path d="M582.9 107.2L589.2 102L581.8 98.8L575.5 104Z" fill="#fff352"/><path d="M671.9 98.2L677.6 95.7L669.7 92.5L663.9 95Z" fill="#ffc12c"/><path d="M480.9 151.7L487.6 143L480.8 139.6L474.1 148.2Z" fill="#70ff87"/><path d="M596.7 105.2L602.9 100.4L595.4 97.3L589.2 102Z" fill="#ffe84e"/><path d="M548.9 118.6L555.4 112.3L548.2 109L541.7 115.3Z" fill="#daff5f"/><path d="M514.9 133.5L521.5 125.9L514.5 122.6L507.9 130.1Z" fill="#9fff69"/><path d="M460.6 166.9L467.4 157.3L460.6 153.8L453.9 163.3Z" fill="#73ffc5"/><path d="M440.3 183.5L447.1 173.2L440.5 169.6L433.7 179.9Z" fill="#74f8ff"/><path d="M610.6 103.6L616.7 99.2L609.1 96L602.9 100.4Z" fill="#ffdd49"/><path d="M562.7 115.5L569.1 109.5L561.8 106.3L555.4 112.3Z" fill="#eaff5c"/><path d="M624.4 102.4L630.5 98.4L622.8 95.2L616.7 99.2Z" fill="#ffd543"/><path d="M494.5 146.4L501.2 138L494.3 134.7L487.6 143Z" fill="#70ff6e"/><path d="M528.6 129.3L535.2 122.1L528.1 118.8L521.5 125.9Z" fill="#b2ff67"/><path d="M638.3 101.6L644.3 97.9L636.5 94.8L630.5 98.4Z" fill="#ffce3e"/><path d="M474.2 160.8L480.9 151.7L474.1 148.2L467.4 157.3Z" fill="#72ffa8"/><path d="M576.6 112.8L582.9 107.2L575.5 104L569.1 109.5Z" fill="#f8ff58"/><path d="M652.2 101.1L658.1 97.9L650.2 94.7L644.3 97.9Z" fill="#ffca38"/><path d="M453.8 176.8L460.6 166.9L453.9 163.3L447.1 173.2Z" fill="#74ffe7"/><path d="M433.4 194.3L440.3 183.5L433.7 179.9L426.9 190.5Z" fill="#76d3ff"/><path d="M666 101.1L671.9 98.2L663.9 95L658.1 97.9Z" fill="#ffc832"/><path d="M508.3 141.5L514.9 133.5L507.9 130.1L501.2 138Z" fill="#86ff6c"/><path d="M542.4 125.4L548.9 118.6L541.7 115.3L535.2 122.1Z" fill="#c4ff64"/><path d="M590.4 110.5L596.7 105.2L589.2 102L582.9 107.2Z" fill="#fff953"/><path d="M487.8 155.2L494.5 146.4L487.6 143L480.9 151.7Z" fill="#71ff8d"/><path d="M604.3 108.5L610.6 103.6L602.9 100.4L596.7 105.2Z" fill="#ffee4e"/><path d="M556.3 121.9L562.7 115.5L555.4 112.3L548.9 118.6Z" fill="#d5ff60"/><path d="M522 136.9L528.6 129.3L521.5 125.9L514.9 133.5Z" fill="#9aff6a"/><path d="M467.4 170.4L474.2 160.8L467.4 157.3L460.6 166.9Z" fill="#74ffca"/><path d="M447 187.2L453.8 176.8L447.1 173.2L440.3 183.5Z" fill="#76f3ff"/><path d="M618.3 106.9L624.4 102.4L616.7 99.2L610.6 103.6Z" fill="#ffe449"/><path d="M570.2 118.8L576.6 112.8L569.1 109.5L562.7 115.5Z" fill="#e4ff5d"/><path d="M632.2 105.7L638.3 101.6L630.5 98.4L624.4 102.4Z" fill="#ffdb44"/><path d="M501.6 149.9L508.3 141.5L501.2 138L494.5 146.4Z" fill="#6fff73"/><path d="M535.9 132.7L542.4 125.4L535.2 122.1L528.6 129.3Z" fill="#aeff68"/><path d="M646.2 104.8L652.2 101.1L644.3 97.9L638.3 101.6Z" fill="#ffd53e"/><path d="M481.1 164.4L487.8 155.2L480.9 151.7L474.2 160.8Z" fill="#73ffad"/><path d="M584.1 116.1L590.4 110.5L582.9 107.2L576.6 112.8Z" fill="#f2ff59"/><path d="M660.1 104.4L666 101.1L658.1 97.9L652.2 101.1Z" fill="#ffd139"/><path d="M460.6 180.5L467.4 170.4L460.6 166.9L453.8 176.8Z" fill="#76ffec"/><path d="M440.1 198L447 187.2L440.3 183.5L433.4 194.3Z" fill="#77cfff"/><path d="M515.4 144.9L522 136.9L514.9 133.5L508.3 141.5Z" fill="#82ff6e"/><path d="M549.7 128.8L556.3 121.9L548.9 118.6L542.4 125.4Z" fill="#bfff65"/><path d="M598 113.8L604.3 108.5L596.7 105.2L590.4 110.5Z" fill="#ffff54"/><path d="M494.8 158.7L501.6 149.9L494.5 146.4L487.8 155.2Z" fill="#72ff92"/><path d="M612 111.8L618.3 106.9L610.6 103.6L604.3 108.5Z" fill="#fff44f"/><path d="M563.7 125.3L570.2 118.8L562.7 115.5L556.3 121.9Z" fill="#d0ff61"/><path d="M529.2 140.3L535.9 132.7L528.6 129.3L522 136.9Z" fill="#96ff6b"/><path d="M474.3 174.1L481.1 164.4L474.2 160.8L467.4 170.4Z" fill="#75ffcf"/><path d="M453.7 190.9L460.6 180.5L453.8 176.8L447 187.2Z" fill="#77efff"/><path d="M626.1 110.2L632.2 105.7L624.4 102.4L618.3 106.9Z" fill="#ffea4a"/><path d="M577.7 122.2L584.1 116.1L576.6 112.8L570.2 118.8Z" fill="#dfff5e"/><path d="M640.1 109L646.2 104.8L638.3 101.6L632.2 105.7Z" fill="#ffe245"/><path d="M508.7 153.4L515.4 144.9L508.3 141.5L501.6 149.9Z" fill="#71ff78"/><path d="M543.2 136.1L549.7 128.8L542.4 125.4L535.9 132.7Z" fill="#a9ff69"/><path d="M654.2 108.1L660.1 104.4L652.2 101.1L646.2 104.8Z" fill="#ffdc3f"/><path d="M488 168L494.8 158.7L487.8 155.2L481.1 164.4Z" fill="#74ffb3"/><path d="M591.7 119.5L598 113.8L590.4 110.5L584.1 116.1Z" fill="#edff59"/><path d="M467.4 184.2L474.3 174.1L467.4 170.4L460.6 180.5Z" fill="#77fff1"/><path d="M446.8 201.8L453.7 190.9L447 187.2L440.1 198Z" fill="#78cbff"/><path d="M522.6 148.4L529.2 140.3L522 136.9L515.4 144.9Z" fill="#7eff6f"/><path d="M557.2 132.2L563.7 125.3L556.3 121.9L549.7 128.8Z" fill="#bbff66"/><path d="M605.8 117.1L612 111.8L604.3 108.5L598 113.8Z" fill="#f9ff55"/><path d="M501.9 162.3L508.7 153.4L501.6 149.9L494.8 158.7Z" fill="#73ff98"/><path d="M619.8 115.1L626.1 110.2L618.3 106.9L612 111.8Z" fill="#fffa50"/><path d="M571.2 128.7L577.7 122.2L570.2 118.8L563.7 125.3Z" fill="#cbff62"/><path d="M536.5 143.8L543.2 136.1L535.9 132.7L529.2 140.3Z" fill="#92ff6c"/><path d="M481.2 177.8L488 168L481.1 164.4L474.3 174.1Z" fill="#76ffd4"/><path d="M460.5 194.7L467.4 184.2L460.6 180.5L453.7 190.9Z" fill="#78ebff"/><path d="M634 113.5L640.1 109L632.2 105.7L626.1 110.2Z" fill="#fff04b"/><path d="M585.3 125.6L591.7 119.5L584.1 116.1L577.7 122.2Z" fill="#daff5e"/><path d="M648.1 112.3L654.2 108.1L646.2 104.8L640.1 109Z" fill="#ffe845"/><path d="M515.8 157L522.6 148.4L515.4 144.9L508.7 153.4Z" fill="#72ff7e"/><path d="M550.6 139.6L557.2 132.2L549.7 128.8L543.2 136.1Z" fill="#a5ff6a"/><path d="M495.1 171.7L501.9 162.3L494.8 158.7L488 168Z" fill="#76ffb8"/><path d="M599.4 122.8L605.8 117.1L598 113.8L591.7 119.5Z" fill="#e7ff5a"/><path d="M474.4 187.9L481.2 177.8L474.3 174.1L467.4 184.2Z" fill="#78fff5"/><path d="M453.6 205.7L460.5 194.7L453.7 190.9L446.8 201.8Z" fill="#79c7ff"/><path d="M529.8 152L536.5 143.8L529.2 140.3L522.6 148.4Z" fill="#7aff70"/><path d="M564.6 135.7L571.2 128.7L563.7 125.3L557.2 132.2Z" fill="#b6ff67"/><path d="M613.6 120.5L619.8 115.1L612 111.8L605.8 117.1Z" fill="#f4ff56"/><path d="M509.1 166L515.8 157L508.7 153.4L501.9 162.3Z" fill="#74ff9d"/><path d="M627.7 118.5L634 113.5L626.1 110.2L619.8 115.1Z" fill="#feff51"/><path d="M578.8 132.2L585.3 125.6L577.7 122.2L571.2 128.7Z" fill="#c6ff63"/><path d="M543.9 147.3L550.6 139.6L543.2 136.1L536.5 143.8Z" fill="#8eff6e"/><path d="M488.3 181.5L495.1 171.7L488 168L481.2 177.8Z" fill="#78ffd8"/><path d="M467.5 198.5L474.4 187.9L467.4 184.2L460.5 194.7Z" fill="#7ae6ff"/><path d="M641.9 116.9L648.1 112.3L640.1 109L634 113.5Z" fill="#fff64b"/><path d="M593 129L599.4 122.8L591.7 119.5L585.3 125.6Z" fill="#d5ff5f"/><path d="M523.1 160.6L529.8 152L522.6 148.4L515.8 157Z" fill="#73ff84"/><path d="M558.1 143.1L564.6 135.7L557.2 132.2L550.6 139.6Z" fill="#a0ff6b"/><path d="M502.2 175.4L509.1 166L501.9 162.3L495.1 171.7Z" fill="#77ffbd"/><path d="M607.2 126.3L613.6 120.5L605.8 117.1L599.4 122.8Z" fill="#e2ff5b"/><path d="M481.4 191.7L488.3 181.5L481.2 177.8L474.4 187.9Z" fill="#79fffa"/><path d="M460.5 209.6L467.5 198.5L460.5 194.7L453.6 205.7Z" fill="#7bc3ff"/><path d="M537.2 155.6L543.9 147.3L536.5 143.8L529.8 152Z" fill="#77ff71"/><path d="M572.2 139.2L578.8 132.2L571.2 128.7L564.6 135.7Z" fill="#b1ff68"/><path d="M621.4 123.9L627.7 118.5L619.8 115.1L613.6 120.5Z" fill="#eeff56"/><path d="M516.3 169.6L523.1 160.6L515.8 157L509.1 166Z" fill="#76ffa3"/><path d="M635.7 121.9L641.9 116.9L634 113.5L627.7 118.5Z" fill="#f9ff51"/><path d="M586.5 135.7L593 129L585.3 125.6L578.8 132.2Z" fill="#c1ff64"/><path d="M551.4 150.9L558.1 143.1L550.6 139.6L543.9 147.3Z" fill="#8aff6f"/><path d="M495.4 185.3L502.2 175.4L495.1 171.7L488.3 181.5Z" fill="#79ffdd"/><path d="M474.5 202.4L481.4 191.7L474.4 187.9L467.5 198.5Z" fill="#7be2ff"/><path d="M600.8 132.5L607.2 126.3L599.4 122.8L593 129Z" fill="#d0ff60"/><path d="M530.5 164.3L537.2 155.6L529.8 152L523.1 160.6Z" fill="#74ff8a"/><path d="M565.6 146.6L572.2 139.2L564.6 135.7L558.1 143.1Z" fill="#9cff6c"/><path d="M509.5 179.1L516.3 169.6L509.1 166L502.2 175.4Z" fill="#78ffc2"/><path d="M615.1 129.8L621.4 123.9L613.6 120.5L607.2 126.3Z" fill="#ddff5c"/><path d="M488.5 195.6L495.4 185.3L488.3 181.5L481.4 191.7Z" fill="#7bfffe"/><path d="M467.5 213.6L474.5 202.4L467.5 198.5L460.5 209.6Z" fill="#7cbfff"/><path d="M544.7 159.2L551.4 150.9L543.9 147.3L537.2 155.6Z" fill="#73ff72"/><path d="M579.9 142.7L586.5 135.7L578.8 132.2L572.2 139.2Z" fill="#adff69"/><path d="M629.4 127.4L635.7 121.9L627.7 118.5L621.4 123.9Z" fill="#e8ff57"/><path d="M523.7 173.4L530.5 164.3L523.1 160.6L516.3 169.6Z" fill="#77ffa8"/><path d="M594.3 139.2L600.8 132.5L593 129L586.5 135.7Z" fill="#bcff65"/><path d="M559 154.6L565.6 146.6L558.1 143.1L551.4 150.9Z" fill="#86ff70"/><path d="M502.6 189.1L509.5 179.1L502.2 175.4L495.4 185.3Z" fill="#7affe2"/><path d="M481.6 206.3L488.5 195.6L481.4 191.7L474.5 202.4Z" fill="#7cdeff"/><path d="M608.7 136.1L615.1 129.8L607.2 126.3L600.8 132.5Z" fill="#caff61"/><path d="M537.9 168L544.7 159.2L537.2 155.6L530.5 164.3Z" fill="#75ff8f"/><path d="M573.3 150.3L579.9 142.7L572.2 139.2L565.6 146.6Z" fill="#98ff6d"/><path d="M516.8 182.9L523.7 173.4L516.3 169.6L509.5 179.1Z" fill="#79ffc7"/><path d="M623.1 133.3L629.4 127.4L621.4 123.9L615.1 129.8Z" fill="#d7ff5d"/><path d="M495.7 199.5L502.6 189.1L495.4 185.3L488.5 195.6Z" fill="#7cfcff"/><path d="M474.6 217.6L481.6 206.3L474.5 202.4L467.5 213.6Z" fill="#7dbcff"/><path d="M552.2 162.9L559 154.6L551.4 150.9L544.7 159.2Z" fill="#73ff77"/><path d="M587.7 146.3L594.3 139.2L586.5 135.7L579.9 142.7Z" fill="#a8ff6a"/><path d="M531.1 177.2L537.9 168L530.5 164.3L523.7 173.4Z" fill="#78ffad"/><path d="M602.2 142.8L608.7 136.1L600.8 132.5L594.3 139.2Z" fill="#b8ff66"/><path d="M566.6 158.2L573.3 150.3L565.6 146.6L559 154.6Z" fill="#83ff71"/><path d="M509.9 193L516.8 182.9L509.5 179.1L502.6 189.1Z" fill="#7bffe7"/><path d="M488.7 210.3L495.7 199.5L488.5 195.6L481.6 206.3Z" fill="#7edaff"/><path d="M616.6 139.6L623.1 133.3L615.1 129.8L608.7 136.1Z" fill="#c5ff62"/><path d="M545.5 171.7L552.2 162.9L544.7 159.2L537.9 168Z" fill="#76ff95"/><path d="M581.1 153.9L587.7 146.3L579.9 142.7L573.3 150.3Z" fill="#94ff6e"/><path d="M524.2 186.8L531.1 177.2L523.7 173.4L516.8 182.9Z" fill="#7bffcc"/><path d="M503 203.4L509.9 193L502.6 189.1L495.7 199.5Z" fill="#7df7ff"/><path d="M481.7 221.6L488.7 210.3L481.6 206.3L474.6 217.6Z" fill="#7fb8ff"/><path d="M559.9 166.7L566.6 158.2L559 154.6L552.2 162.9Z" fill="#74ff7d"/><path d="M595.6 150L602.2 142.8L594.3 139.2L587.7 146.3Z" fill="#a4ff6b"/><path d="M538.6 181L545.5 171.7L537.9 168L531.1 177.2Z" fill="#79ffb3"/><path d="M610.1 146.4L616.6 139.6L608.7 136.1L602.2 142.8Z" fill="#b3ff67"/><path d="M574.4 162L581.1 153.9L573.3 150.3L566.6 158.2Z" fill="#7fff72"/><path d="M517.3 196.9L524.2 186.8L516.8 182.9L509.9 193Z" fill="#7dffeb"/><path d="M496 214.4L503 203.4L495.7 199.5L488.7 210.3Z" fill="#7fd7ff"/><path d="M553.1 175.5L559.9 166.7L552.2 162.9L545.5 171.7Z" fill="#78ff9a"/><path d="M589 157.6L595.6 150L587.7 146.3L581.1 153.9Z" fill="#90ff6f"/><path d="M531.8 190.7L538.6 181L531.1 177.2L524.2 186.8Z" fill="#7cffd1"/><path d="M510.4 207.4L517.3 196.9L509.9 193L503 203.4Z" fill="#7ff3ff"/><path d="M489 225.7L496 214.4L488.7 210.3L481.7 221.6Z" fill="#80b5ff"/><path d="M567.6 170.4L574.4 162L566.6 158.2L559.9 166.7Z" fill="#76ff82"/><path d="M603.6 153.7L610.1 146.4L602.2 142.8L595.6 150Z" fill="#a0ff6c"/><path d="M546.3 184.9L553.1 175.5L545.5 171.7L538.6 181Z" fill="#7bffb8"/><path d="M582.3 165.7L589 157.6L581.1 153.9L574.4 162Z" fill="#7bff73"/><path d="M524.8 200.9L531.8 190.7L524.2 186.8L517.3 196.9Z" fill="#7efff0"/><path d="M503.4 218.5L510.4 207.4L503 203.4L496 214.4Z" fill="#80d3ff"/><path d="M560.8 179.4L567.6 170.4L559.9 166.7L553.1 175.5Z" fill="#79ffa0"/><path d="M596.9 161.4L603.6 153.7L595.6 150L589 157.6Z" fill="#8cff70"/><path d="M539.4 194.7L546.3 184.9L538.6 181L531.8 190.7Z" fill="#7dffd6"/><path d="M517.8 211.5L524.8 200.9L517.3 196.9L510.4 207.4Z" fill="#80efff"/><path d="M496.3 229.9L503.4 218.5L496 214.4L489 225.7Z" fill="#82b2ff"/><path d="M575.5 174.3L582.3 165.7L574.4 162L567.6 170.4Z" fill="#77ff88"/><path d="M554 188.8L560.8 179.4L553.1 175.5L546.3 184.9Z" fill="#7cffbd"/><path d="M590.2 169.6L596.9 161.4L589 157.6L582.3 165.7Z" fill="#78ff74"/><path d="M532.4 204.9L539.4 194.7L531.8 190.7L524.8 200.9Z" fill="#7ffff4"/><path d="M510.8 222.6L517.8 211.5L510.4 207.4L503.4 218.5Z" fill="#82cfff"/><path d="M568.7 183.3L575.5 174.3L567.6 170.4L560.8 179.4Z" fill="#7affa5"/><path d="M547.1 198.7L554 188.8L546.3 184.9L539.4 194.7Z" fill="#7effda"/><path d="M525.4 215.6L532.4 204.9L524.8 200.9L517.8 211.5Z" fill="#81ebff"/><path d="M503.8 234.1L510.8 222.6L503.4 218.5L496.3 229.9Z" fill="#83aeff"/><path d="M583.4 178.2L590.2 169.6L582.3 165.7L575.5 174.3Z" fill="#78ff8e"/><path d="M561.8 192.8L568.7 183.3L560.8 179.4L554 188.8Z" fill="#7dffc2"/><path d="M540.1 209L547.1 198.7L539.4 194.7L532.4 204.9Z" fill="#81fff8"/><path d="M518.4 226.8L525.4 215.6L517.8 211.5L510.8 222.6Z" fill="#83ccff"/><path d="M576.6 187.3L583.4 178.2L575.5 174.3L568.7 183.3Z" fill="#7bffaa"/><path d="M554.9 202.7L561.8 192.8L554 188.8L547.1 198.7Z" fill="#80ffdf"/><path d="M533.1 219.8L540.1 209L532.4 204.9L525.4 215.6Z" fill="#83e7ff"/><path d="M511.3 238.4L518.4 226.8L510.8 222.6L503.8 234.1Z" fill="#84abff"/><path d="M569.7 196.8L576.6 187.3L568.7 183.3L561.8 192.8Z" fill="#7effc7"/><path d="M547.9 213.1L554.9 202.7L547.1 198.7L540.1 209Z" fill="#82fffd"/><path d="M526 231L533.1 219.8L525.4 215.6L518.4 226.8Z" fill="#84c8ff"/><path d="M562.8 206.8L569.7 196.8L561.8 192.8L554.9 202.7Z" fill="#81ffe4"/><path d="M540.9 224L547.9 213.1L540.1 209L533.1 219.8Z" fill="#84e3ff"/><path d="M518.9 242.8L526 231L518.4 226.8L511.3 238.4Z" fill="#86a8ff"/><path d="M555.8 217.3L562.8 206.8L554.9 202.7L547.9 213.1Z" fill="#83fdff"/><path d="M533.8 235.4L540.9 224L533.1 219.8L526 231Z" fill="#86c5ff"/><path d="M548.7 228.3L555.8 217.3L547.9 213.1L540.9 224Z" fill="#85e0ff"/><path d="M526.7 247.2L533.8 235.4L526 231L518.9 242.8Z" fill="#87a5ff"/><path d="M541.6 239.7L548.7 228.3L540.9 224L533.8 235.4Z" fill="#87c1ff"/><path d="M534.5 251.6L541.6 239.7L533.8 235.4L526.7 247.2Z" fill="#89a2ff"/></g>
<circle cx="395.2" cy="172.9" r="2.7" fill="#c20000" stroke="#5a0000" stroke-width="0.5"/>
<circle cx="677.6" cy="95.3" r="2.7" fill="#c20000" stroke="#5a0000" stroke-width="0.5"/>
<circle cx="534.6" cy="38.1" r="2.7" fill="#c20000" stroke="#5a0000" stroke-width="0.5"/>
<circle cx="534.5" cy="109.7" r="2.7" fill="#c20000" stroke="#5a0000" stroke-width="0.5"/>
<text x="394.09" y="244.92" font-size="6.8" text-anchor="end" fill="#222">0.35</text>
<text x="428.14" y="261.22" font-size="6.8" text-anchor="end" fill="#222">0.3</text>
<text x="462.19" y="277.52" font-size="6.8" text-anchor="end" fill="#222">0.25</text>
<text x="496.24" y="293.81" font-size="6.8" text-anchor="end" fill="#222">0.2</text>
<text x="530.29" y="310.11" font-size="6.8" text-anchor="end" fill="#222">0.15</text>
<text x="538.69" y="310.11" font-size="6.8" fill="#222">0.8</text>
<text x="561.41" y="299.25" font-size="6.8" fill="#222">0.9</text>
<text x="584.13" y="288.39" font-size="6.8" fill="#222">1</text>
<text x="606.85" y="277.54" font-size="6.8" fill="#222">1.1</text>
<text x="629.57" y="266.68" font-size="6.8" fill="#222">1.2</text>
<text x="652.29" y="255.83" font-size="6.8" fill="#222">1.3</text>
<text x="675.01" y="244.97" font-size="6.8" fill="#222">1.4</text>
<text x="392.57" y="191.23" font-size="6.9" text-anchor="end" fill="#222">35</text>
<text x="390.87" y="155.66" font-size="6.9" text-anchor="end" fill="#222">40</text>
<text x="389.17" y="120.1" font-size="6.9" text-anchor="end" fill="#222">45</text>
<text x="387.47" y="84.54" font-size="6.9" text-anchor="end" fill="#222">50</text>
<text x="385.77" y="48.98" font-size="6.9" text-anchor="end" fill="#222">55</text>
<circle cx="398.3" cy="237.9" r="1.35" fill="#111"/><circle cx="432.3" cy="254.2" r="1.35" fill="#111"/><circle cx="466.4" cy="270.5" r="1.35" fill="#111"/><circle cx="500.4" cy="286.8" r="1.35" fill="#111"/><circle cx="534.5" cy="303.1" r="1.35" fill="#111"/><circle cx="534.5" cy="303.1" r="1.35" fill="#111"/><circle cx="557.2" cy="292.3" r="1.35" fill="#111"/><circle cx="579.9" cy="281.4" r="1.35" fill="#111"/><circle cx="602.6" cy="270.5" r="1.35" fill="#111"/><circle cx="625.4" cy="259.7" r="1.35" fill="#111"/><circle cx="648.1" cy="248.8" r="1.35" fill="#111"/><circle cx="670.8" cy="238" r="1.35" fill="#111"/><circle cx="396.2" cy="193.4" r="1.35" fill="#111"/><circle cx="394.5" cy="157.9" r="1.35" fill="#111"/><circle cx="392.8" cy="122.3" r="1.35" fill="#111"/><circle cx="391.1" cy="86.7" r="1.35" fill="#111"/><circle cx="389.4" cy="51.2" r="1.35" fill="#111"/>
<text x="362.3" y="147.6" font-size="7" text-anchor="middle" transform="rotate(-90 362.3 147.6)" textLength="62.5" lengthAdjust="spacingAndGlyphs" fill="#222">Softening Point (°C)</text>
<text x="378.4" y="296" font-size="6.9" textLength="70.4" lengthAdjust="spacingAndGlyphs" fill="#222">B: Carnauba Wax (gm)</text>
<text x="628.5" y="296.2" font-size="6.9" textLength="52.4" lengthAdjust="spacingAndGlyphs" fill="#222">A: Beeswax (gm)</text>
<text x="528.6" y="333.2" font-size="10.7" text-anchor="middle" font-weight="bold" fill="#111">(b)</text>
<path d="M414.8 534.2L550.5 476.7L674.9 541.7 M413 509L550.6 453.4L676.8 516.3 M411.1 483.9L550.7 430.1L678.7 491 M409.3 458.7L550.8 406.8L680.6 465.6 M407.4 433.6L550.9 383.5L682.5 440.2 M405.5 408.5L550.9 360.2L684.5 414.9 M437.5 524.6L429.8 400.4 M460.1 515L454 392.4 M482.7 505.4L478.2 384.3 M505.3 495.8L502.5 376.3 M527.9 486.3L526.7 368.2 M581.6 492.9L584.3 373.8 M612.7 509.2L617.7 387.5 M643.8 525.5L651.1 401.2 M550.4 512.4L550.9 360.2" fill="none" stroke="#222" stroke-width="0.72"/>
<path d="M417.7 572.4L405.5 408.5M672 580.2L684.5 414.9" fill="none" stroke="#1a1a1a" stroke-width="0.8"/>
<path d="M417.7 572.4L536.1 656.1L672 580.2L550.4 512.4Z" fill="#646464" stroke="#222" stroke-width="0.6" stroke-linejoin="round"/>
<path d="M666.8 583.1 L664.8 581.7 L661.7 579.7 L658.6 577.6 L655.5 575.6 L653.5 574.3 L650.4 572.3 L647.3 570.4 L644.2 568.5 L641.1 566.6 L638 564.7 L636 563.4 L632.9 561.6 L629.8 559.8 L626.7 557.9 L623.6 556.2 L620.5 554.4 L617.4 552.6 L614.3 550.9 L611.3 549.2 L608.2 547.5 L605.1 545.8 L602 544.2 L598.9 542.5 L595.8 540.9 L593.6 539.7 L590.7 538.2 L587.6 536.6 L584.5 535.1 L581.5 533.5 L578.4 532 L575.3 530.4 L573.2 529.4 L570.2 527.9 L567.1 526.5 L564 525 L561.7 523.9 L558.9 522.6 L555.8 521.1 L552.7 519.7 L550.7 518.8 L547.6 517.4 L544.5 516 L543.5 515.6" fill="none" stroke="#0086eb" stroke-width="1.1"/>
<path d="M658.1 588 L655.1 585.8 L653.1 584.4 L650.1 582.3 L647.1 580.2 L644.6 578.5 L642.1 576.8 L639.1 574.8 L636.1 572.8 L633 570.9 L631 569.6 L628 567.6 L624.9 565.7 L621.9 563.9 L618.8 562 L615.8 560.2 L612.7 558.4 L609.7 556.6 L606.6 554.8 L603.6 553.1 L600.5 551.3 L597.5 549.6 L594.4 547.9 L591.3 546.3 L588.3 544.6 L585.2 543 L582.1 541.3 L579.1 539.7 L576 538.2 L573 536.6 L570.9 535.5 L567.8 534 L564.7 532.5 L561.6 531 L558.6 529.5 L556.5 528.5 L553.4 527 L550.3 525.6 L547.8 524.4 L545.2 523.2 L542.1 521.8 L539 520.4 L536.9 519.5 L535.9 519" fill="none" stroke="#00ebc9" stroke-width="1.1"/>
<path d="M520.7 645.2 L523.5 646.4 L526.4 647.7 L530.5 649.4 L533.4 650.6 L537.4 652.2 L540.7 653.5" fill="none" stroke="#00ebc9" stroke-width="1.1"/>
<path d="M648 593.6 L646.1 592.1 L643.3 589.9 L641.2 588.3 L638.5 586.2 L635.6 584 L633.7 582.6 L630.7 580.5 L627.8 578.4 L625.4 576.8 L622.9 575 L620 573 L617 571.1 L614 569.1 L612 567.8 L609.1 565.9 L606.1 564.1 L603.1 562.2 L600.1 560.4 L597.1 558.6 L594 556.8 L591 555 L588 553.3 L585 551.5 L581.9 549.8 L578.9 548.2 L575.8 546.5 L572.8 544.8 L569.7 543.2 L566.7 541.6 L564.6 540.6 L561.6 539 L558.5 537.4 L555.4 535.9 L552.3 534.4 L550.3 533.4 L547.2 531.9 L544.1 530.4 L541 528.9 L538.9 528 L535.8 526.5 L532.7 525.1 L530.6 524.2 L527.5 522.8" fill="none" stroke="#00eb43" stroke-width="1.1"/>
<path d="M475.1 613 L477.6 614.2 L481.1 616 L483.6 617.3 L487.2 619.1 L489.9 620.3 L493.4 622 L496.6 623.6 L499.7 625 L503 626.5 L506.2 628 L509.1 629.3 L512.8 630.9 L515.5 632.1 L519.5 633.8 L522.3 635 L526.2 636.6 L529.3 637.9 L532.1 639 L536.4 640.7 L539.3 641.8 L542.2 643 L546.7 644.6 L549.7 645.7 L552.7 646.8" fill="none" stroke="#00eb43" stroke-width="1.1"/>
<path d="M632.7 602.1 L631.1 600.4 L628.7 597.9 L627 596.3 L625.3 594.7 L622.7 592.3 L621 590.7 L618.3 588.4 L616.5 586.9 L613.8 584.7 L611.4 582.8 L609.3 581.1 L606.5 579 L604.4 577.4 L601.8 575.5 L598.9 573.5 L596.1 571.5 L594.2 570.2 L591.3 568.2 L588.4 566.3 L585.4 564.4 L582.5 562.6 L579.6 560.7 L576.6 558.9 L573.6 557.2 L570.6 555.4 L567.7 553.7 L564.6 552 L561.6 550.3 L558.6 548.6 L555.6 547 L552.5 545.3 L549.5 543.7 L547 542.5 L544.3 541.1 L541.2 539.6 L538.2 538 L535 536.5 L533 535.5 L529.8 534.1 L526.7 532.6 L524.6 531.7 L521.4 530.2 L518.3 528.8 L516.1 527.9" fill="none" stroke="#43eb00" stroke-width="1.1"/>
<path d="M424.9 569.1 L427.5 570.9 L430.2 572.8 L432.4 574.3 L434.7 575.8 L437.5 577.7 L440.4 579.5 L443.3 581.3 L446.2 583.1 L449.2 584.9 L452.2 586.7 L454.2 588 L457.3 589.8 L460.5 591.5 L463.7 593.3 L465.8 594.5 L469.1 596.3 L472.5 598.1 L474.7 599.3 L478.1 601 L481.6 602.8 L483.9 604 L487.5 605.7 L489.9 606.9 L493.5 608.6 L496.1 609.8 L499.7 611.5 L502.4 612.7 L506 614.3 L508.6 615.4 L512.5 617.1 L515.2 618.2 L519.2 619.9 L521.9 621 L524.7 622.1 L528.9 623.7 L531.7 624.8 L534.5 625.8 L538.9 627.4 L541.8 628.4 L544.8 629.5 L548.1 630.6 L552.3 631.9 L555.5 632.9 L558.7 633.9 L561.9 634.9 L565.1 635.8 L568.4 636.7 L570.1 637.1" fill="none" stroke="#43eb00" stroke-width="1.1"/>
<path d="M439.9 562.3 L442.5 564.2 L445 566 L447.7 567.9 L450.3 569.7 L453.1 571.5 L455.9 573.3 L458.8 575.1 L461.7 576.9 L464.7 578.7 L466.9 580 L469.8 581.6 L473 583.4 L476.2 585.1 L478.3 586.3 L481.6 588 L485 589.7 L487.3 590.8 L490.8 592.5 L493.6 593.9 L496.7 595.3 L500.1 596.8 L502.8 598 L506 599.4 L509.1 600.7 L511.7 601.8 L515.7 603.3 L518.4 604.4 L521.5 605.5 L525.2 606.9 L528 607.9 L530.9 608.8 L534.6 610 L538.2 611.2 L541.3 612.1 L544.4 613 L547.5 613.8 L550.8 614.6 L554.1 615.4 L557.5 616.1 L561 616.8 L564.6 617.5 L568 618 L570.7 618.3 L574.4 618.7 L578 618.9 L581.1 618.9 L584.4 618.8 L588.1 618.5 L591.4 617.8 L594.3 617 L597.8 615.1 L599.5 613.5 L600.7 611.6 L601.4 609.4 L601.6 607.7 L601.4 605.5 L601 603.9 L600.3 602 L599.4 599.9 L598.3 598 L597.1 596.1 L595.9 594.3 L594 592 L592.4 590 L590.9 588.4 L589 586.4 L587 584.5 L585.3 582.9 L582.8 580.7 L581.1 579.2 L578.5 577.1 L575.9 575 L574.1 573.6 L571.4 571.6 L568.7 569.6 L565.9 567.6 L564 566.3 L561.2 564.4 L558.3 562.6 L555.4 560.7 L552.5 558.9 L549.6 557.2 L546.6 555.4 L543.6 553.7 L540.6 552.1 L537.6 550.4 L535.1 549.1 L532.5 547.7 L529.4 546.1 L526.3 544.6 L523.3 543.1 L521.1 542 L517.9 540.6 L514.9 539.2 L512.5 538.1 L509.3 536.7 L507.1 535.8 L503.8 534.4 L502.7 534" fill="none" stroke="#c9eb00" stroke-width="1.1"/>
<path d="M417.7 572.4L536.1 656.1L672 580.2" fill="none" stroke="#111" stroke-width="0.8" stroke-linejoin="round"/>
<circle cx="410.3" cy="473" r="2.8" fill="#ffc8c8" stroke="#7a5050" stroke-width="0.5"/>
<circle cx="535.7" cy="575.3" r="2.8" fill="#ffc8c8" stroke="#7a5050" stroke-width="0.5"/>
<g stroke="#111" stroke-width="0.48" stroke-linejoin="round"><path d="M550.6 453.8L556.2 460.9L550.6 459.3L544.9 452.2Z" fill="#001961"/><path d="M556.3 455.6L561.9 462.7L556.2 460.9L550.6 453.8Z" fill="#001e61"/><path d="M544.9 447.3L550.6 453.8L544.9 452.2L539.2 445.6Z" fill="#004461"/><path d="M562.1 457.6L567.7 464.6L561.9 462.7L556.3 455.6Z" fill="#002361"/><path d="M550.6 449.2L556.3 455.6L550.6 453.8L544.9 447.3Z" fill="#004961"/><path d="M568 459.6L573.6 466.6L567.7 464.6L562.1 457.6Z" fill="#002761"/><path d="M539 441.5L544.9 447.3L539.2 445.6L533.3 439.7Z" fill="#006156"/><path d="M556.4 451.2L562.1 457.6L556.3 455.6L550.6 449.2Z" fill="#004e61"/><path d="M573.9 461.8L579.5 468.8L573.6 466.6L568 459.6Z" fill="#002b61"/><path d="M544.8 443.4L550.6 449.2L544.9 447.3L539 441.5Z" fill="#006151"/><path d="M533.1 436.3L539 441.5L533.3 439.7L527.4 434.5Z" fill="#006131"/><path d="M562.3 453.3L568 459.6L562.1 457.6L556.4 451.2Z" fill="#005261"/><path d="M580 464.2L585.5 471.1L579.5 468.8L573.9 461.8Z" fill="#002f61"/><path d="M550.6 445.4L556.4 451.2L550.6 449.2L544.8 443.4Z" fill="#00614c"/><path d="M538.8 438.2L544.8 443.4L539 441.5L533.1 436.3Z" fill="#00612c"/><path d="M568.3 455.5L573.9 461.8L568 459.6L562.3 453.3Z" fill="#005661"/><path d="M527 431.8L533.1 436.3L527.4 434.5L521.3 429.9Z" fill="#006110"/><path d="M586 466.6L591.5 473.5L585.5 471.1L580 464.2Z" fill="#003261"/><path d="M556.5 447.5L562.3 453.3L556.4 451.2L550.6 445.4Z" fill="#006148"/><path d="M544.7 440.3L550.6 445.4L544.8 443.4L538.8 438.2Z" fill="#006128"/><path d="M574.3 457.9L580 464.2L573.9 461.8L568.3 455.5Z" fill="#005961"/><path d="M532.8 433.7L538.8 438.2L533.1 436.3L527 431.8Z" fill="#00610c"/><path d="M592.2 469.3L597.7 476.1L591.5 473.5L586 466.6Z" fill="#003461"/><path d="M562.5 449.8L568.3 455.5L562.3 453.3L556.5 447.5Z" fill="#006145"/><path d="M520.9 427.9L527 431.8L521.3 429.9L515.2 426Z" fill="#0e6100"/><path d="M550.6 442.5L556.5 447.5L550.6 445.4L544.7 440.3Z" fill="#006125"/><path d="M580.4 460.4L586 466.6L580 464.2L574.3 457.9Z" fill="#005c61"/><path d="M598.4 472L603.8 478.8L597.7 476.1L592.2 469.3Z" fill="#003661"/><path d="M538.7 435.8L544.7 440.3L538.8 438.2L532.8 433.7Z" fill="#006108"/><path d="M568.6 452.2L574.3 457.9L568.3 455.5L562.5 449.8Z" fill="#006142"/><path d="M526.7 430L532.8 433.7L527 431.8L520.9 427.9Z" fill="#126100"/><path d="M514.7 424.8L520.9 427.9L515.2 426L508.9 422.9Z" fill="#286100"/><path d="M586.6 463.1L592.2 469.3L586 466.6L580.4 460.4Z" fill="#005e61"/><path d="M556.6 444.8L562.5 449.8L556.5 447.5L550.6 442.5Z" fill="#006122"/><path d="M604.7 474.9L610.1 481.7L603.8 478.8L598.4 472Z" fill="#003761"/><path d="M544.6 438.1L550.6 442.5L544.7 440.3L538.7 435.8Z" fill="#006104"/><path d="M574.7 454.8L580.4 460.4L574.3 457.9L568.6 452.2Z" fill="#006140"/><path d="M532.6 432.1L538.7 435.8L532.8 433.7L526.7 430Z" fill="#156100"/><path d="M592.8 465.9L598.4 472L592.2 469.3L586.6 463.1Z" fill="#005f61"/><path d="M520.5 426.9L526.7 430L520.9 427.9L514.7 424.8Z" fill="#2b6100"/><path d="M562.7 447.3L568.6 452.2L562.5 449.8L556.6 444.8Z" fill="#00611f"/><path d="M508.4 422.5L514.7 424.8L508.9 422.9L502.6 420.5Z" fill="#3e6100"/><path d="M611.1 478L616.5 484.7L610.1 481.7L604.7 474.9Z" fill="#003861"/><path d="M550.6 440.5L556.6 444.8L550.6 442.5L544.6 438.1Z" fill="#006102"/><path d="M580.9 457.5L586.6 463.1L580.4 460.4L574.7 454.8Z" fill="#00613e"/><path d="M538.5 434.4L544.6 438.1L538.7 435.8L532.6 432.1Z" fill="#186100"/><path d="M599.2 468.8L604.7 474.9L598.4 472L592.8 465.9Z" fill="#006061"/><path d="M568.8 449.9L574.7 454.8L568.6 452.2L562.7 447.3Z" fill="#00611d"/><path d="M526.4 429.1L532.6 432.1L526.7 430L520.5 426.9Z" fill="#2f6100"/><path d="M514.2 424.6L520.5 426.9L514.7 424.8L508.4 422.5Z" fill="#426100"/><path d="M617.5 481.2L622.9 487.8L616.5 484.7L611.1 478Z" fill="#003861"/><path d="M502 420.9L508.4 422.5L502.6 420.5L496.2 418.8Z" fill="#a1c001"/><path d="M556.7 443L562.7 447.3L556.6 444.8L550.6 440.5Z" fill="#016100"/><path d="M587.2 460.4L592.8 465.9L586.6 463.1L580.9 457.5Z" fill="#00613d"/><path d="M544.5 436.9L550.6 440.5L544.6 438.1L538.5 434.4Z" fill="#1b6100"/><path d="M605.6 471.9L611.1 478L604.7 474.9L599.2 468.8Z" fill="#006161"/><path d="M575 452.7L580.9 457.5L574.7 454.8L568.8 449.9Z" fill="#00611b"/><path d="M532.3 431.5L538.5 434.4L532.6 432.1L526.4 429.1Z" fill="#316100"/><path d="M520.1 426.9L526.4 429.1L520.5 426.9L514.2 424.6Z" fill="#76a600"/><path d="M624 484.5L629.3 491.1L622.9 487.8L617.5 481.2Z" fill="#003861"/><path d="M507.8 423.1L514.2 424.6L508.4 422.5L502 420.9Z" fill="#b1ca01"/><path d="M562.9 445.7L568.8 449.9L562.7 447.3L556.7 443Z" fill="#026100"/><path d="M495.5 420.1L502 420.9L496.2 418.8L489.8 417.9Z" fill="#f0f005"/><path d="M593.5 463.4L599.2 468.8L592.8 465.9L587.2 460.4Z" fill="#00613c"/><path d="M550.6 439.5L556.7 443L550.6 440.5L544.5 436.9Z" fill="#1d6100"/><path d="M612 475.2L617.5 481.2L611.1 478L605.6 471.9Z" fill="#006161"/><path d="M581.3 455.6L587.2 460.4L580.9 457.5L575 452.7Z" fill="#00611a"/><path d="M538.3 434L544.5 436.9L538.5 434.4L532.3 431.5Z" fill="#346100"/><path d="M630.6 488L635.9 494.5L629.3 491.1L624 484.5Z" fill="#003861"/><path d="M526 429.4L532.3 431.5L526.4 429.1L520.1 426.9Z" fill="#81b000"/><path d="M513.7 425.5L520.1 426.9L514.2 424.6L507.8 423.1Z" fill="#c0d502"/><path d="M569.1 448.6L575 452.7L568.8 449.9L562.9 445.7Z" fill="#046100"/><path d="M599.9 466.6L605.6 471.9L599.2 468.8L593.5 463.4Z" fill="#00613c"/><path d="M501.3 422.3L507.8 423.1L502 420.9L495.5 420.1Z" fill="#fbf406"/><path d="M489 420L495.5 420.1L489.8 417.9L483.3 417.8Z" fill="#ffe00b"/><path d="M556.8 442.2L562.9 445.7L556.7 443L550.6 439.5Z" fill="#1e6100"/><path d="M618.6 478.6L624 484.5L617.5 481.2L612 475.2Z" fill="#006061"/><path d="M587.7 458.7L593.5 463.4L587.2 460.4L581.3 455.6Z" fill="#00611a"/><path d="M544.4 436.7L550.6 439.5L544.5 436.9L538.3 434Z" fill="#356100"/><path d="M637.2 491.7L642.5 498.1L635.9 494.5L630.6 488Z" fill="#003661"/><path d="M532 431.9L538.3 434L532.3 431.5L526 429.4Z" fill="#8cba01"/><path d="M575.4 451.5L581.3 455.6L575 452.7L569.1 448.6Z" fill="#046100"/><path d="M519.6 428L526 429.4L520.1 426.9L513.7 425.5Z" fill="#cedf03"/><path d="M606.4 469.9L612 475.2L605.6 471.9L599.9 466.6Z" fill="#00613c"/><path d="M482.5 420.8L489 420L483.3 417.8L476.7 418.5Z" fill="#ffcc13"/><path d="M507.2 424.8L513.7 425.5L507.8 423.1L501.3 422.3Z" fill="#fff107"/><path d="M494.8 422.4L501.3 422.3L495.5 420.1L489 420Z" fill="#ffda0d"/><path d="M563 445.1L569.1 448.6L562.9 445.7L556.8 442.2Z" fill="#1f6100"/><path d="M625.2 482.2L630.6 488L624 484.5L618.6 478.6Z" fill="#005f61"/><path d="M594.1 461.9L599.9 466.6L593.5 463.4L587.7 458.7Z" fill="#00611a"/><path d="M550.6 439.5L556.8 442.2L550.6 439.5L544.4 436.7Z" fill="#5aa000"/><path d="M644 495.5L649.2 501.9L642.5 498.1L637.2 491.7Z" fill="#003561"/><path d="M538.2 434.7L544.4 436.7L538.3 434L532 431.9Z" fill="#97c401"/><path d="M475.9 422.4L482.5 420.8L476.7 418.5L470.2 420Z" fill="#ffc31d"/><path d="M581.8 454.7L587.7 458.7L581.3 455.6L575.4 451.5Z" fill="#056100"/><path d="M613 473.4L618.6 478.6L612 475.2L606.4 469.9Z" fill="#00613d"/><path d="M525.7 430.6L532 431.9L526 429.4L519.6 428Z" fill="#dcea04"/><path d="M488.3 423.3L494.8 422.4L489 420L482.5 420.8Z" fill="#ffc716"/><path d="M513.2 427.4L519.6 428L513.7 425.5L507.2 424.8Z" fill="#ffec09"/><path d="M500.7 424.9L507.2 424.8L501.3 422.3L494.8 422.4Z" fill="#ffd50f"/><path d="M569.4 448.2L575.4 451.5L569.1 448.6L563 445.1Z" fill="#206100"/><path d="M631.8 485.9L637.2 491.7L630.6 488L625.2 482.2Z" fill="#005e61"/><path d="M600.6 465.3L606.4 469.9L599.9 466.6L594.1 461.9Z" fill="#00611a"/><path d="M650.8 499.5L655.9 505.8L649.2 501.9L644 495.5Z" fill="#003261"/><path d="M556.9 442.5L563 445.1L556.8 442.2L550.6 439.5Z" fill="#61a900"/><path d="M469.2 424.9L475.9 422.4L470.2 420L463.5 422.4Z" fill="#ffc228"/><path d="M544.3 437.6L550.6 439.5L544.4 436.7L538.2 434.7Z" fill="#a1ce02"/><path d="M619.6 477L625.2 482.2L618.6 478.6L613 473.4Z" fill="#00613e"/><path d="M588.2 458L594.1 461.9L587.7 458.7L581.8 454.7Z" fill="#046100"/><path d="M481.7 425L488.3 423.3L482.5 420.8L475.9 422.4Z" fill="#ffbf20"/><path d="M531.8 433.4L538.2 434.7L532 431.9L525.7 430.6Z" fill="#eaf505"/><path d="M494.1 425.9L500.7 424.9L494.8 422.4L488.3 423.3Z" fill="#ffc318"/><path d="M519.2 430.1L525.7 430.6L519.6 428L513.2 427.4Z" fill="#ffe90a"/><path d="M506.7 427.6L513.2 427.4L507.2 424.8L500.7 424.9Z" fill="#ffd111"/><path d="M638.6 489.8L644 495.5L637.2 491.7L631.8 485.9Z" fill="#005c61"/><path d="M575.7 451.4L581.8 454.7L575.4 451.5L569.4 448.2Z" fill="#206100"/><path d="M607.2 468.9L613 473.4L606.4 469.9L600.6 465.3Z" fill="#00611b"/><path d="M462.5 428.2L469.2 424.9L463.5 422.4L456.9 425.6Z" fill="#ffc934"/><path d="M657.6 503.6L662.8 509.9L655.9 505.8L650.8 499.5Z" fill="#003061"/><path d="M563.2 445.6L569.4 448.2L563 445.1L556.9 442.5Z" fill="#66b200"/><path d="M475 427.5L481.7 425L475.9 422.4L469.2 424.9Z" fill="#ffbf2c"/><path d="M550.6 440.6L556.9 442.5L550.6 439.5L544.3 437.6Z" fill="#aad802"/><path d="M626.3 480.8L631.8 485.9L625.2 482.2L619.6 477Z" fill="#006140"/><path d="M594.8 461.4L600.6 465.3L594.1 461.9L588.2 458Z" fill="#046100"/><path d="M487.5 427.7L494.1 425.9L488.3 423.3L481.7 425Z" fill="#ffbc23"/><path d="M538 436.4L544.3 437.6L538.2 434.7L531.8 433.4Z" fill="#f5ff07"/><path d="M500.1 428.6L506.7 427.6L500.7 424.9L494.1 425.9Z" fill="#ffc11a"/><path d="M525.3 433L531.8 433.4L525.7 430.6L519.2 430.1Z" fill="#ffe70c"/><path d="M512.7 430.4L519.2 430.1L513.2 427.4L506.7 427.6Z" fill="#ffcf13"/><path d="M645.4 493.8L650.8 499.5L644 495.5L638.6 489.8Z" fill="#005961"/><path d="M455.9 432.3L462.5 428.2L456.9 425.6L450.2 429.7Z" fill="#ffd73f"/><path d="M582.2 454.8L588.2 458L581.8 454.7L575.7 451.4Z" fill="#1f6100"/><path d="M613.9 472.6L619.6 477L613 473.4L607.2 468.9Z" fill="#00611d"/><path d="M664.6 507.9L669.7 514.1L662.8 509.9L657.6 503.6Z" fill="#002c61"/><path d="M468.3 430.9L475 427.5L469.2 424.9L462.5 428.2Z" fill="#ffc738"/><path d="M569.6 448.9L575.7 451.4L569.4 448.2L563.2 445.6Z" fill="#6bbc01"/><path d="M480.9 430.3L487.5 427.7L481.7 425L475 427.5Z" fill="#ffbd2f"/><path d="M633.1 484.8L638.6 489.8L631.8 485.9L626.3 480.8Z" fill="#006142"/><path d="M449.2 437.3L455.9 432.3L450.2 429.7L443.5 434.6Z" fill="#ffea4a"/><path d="M556.9 443.8L563.2 445.6L556.9 442.5L550.6 440.6Z" fill="#b2e203"/><path d="M601.4 465.1L607.2 468.9L600.6 465.3L594.8 461.4Z" fill="#026100"/><path d="M493.5 430.5L500.1 428.6L494.1 425.9L487.5 427.7Z" fill="#ffba26"/><path d="M544.2 439.5L550.6 440.6L544.3 437.6L538 436.4Z" fill="#f5ff08"/><path d="M506.1 431.6L512.7 430.4L506.7 427.6L500.1 428.6Z" fill="#ffc01d"/><path d="M531.5 436.1L538 436.4L531.8 433.4L525.3 433Z" fill="#ffe60e"/><path d="M652.3 498.1L657.6 503.6L650.8 499.5L645.4 493.8Z" fill="#005661"/><path d="M518.8 433.4L525.3 433L519.2 430.1L512.7 430.4Z" fill="#ffce15"/><path d="M461.6 435.2L468.3 430.9L462.5 428.2L455.9 432.3Z" fill="#ffd543"/><path d="M588.8 458.3L594.8 461.4L588.2 458L582.2 454.8Z" fill="#32a100"/><path d="M620.6 476.4L626.3 480.8L619.6 477L613.9 472.6Z" fill="#00611f"/><path d="M671.6 512.4L676.6 518.5L669.7 514.1L664.6 507.9Z" fill="#002961"/><path d="M442.4 443.2L449.2 437.3L443.5 434.6L436.8 440.3Z" fill="#fdff53"/><path d="M474.2 433.8L480.9 430.3L475 427.5L468.3 430.9Z" fill="#ffc63b"/><path d="M576.1 452.4L582.2 454.8L575.7 451.4L569.6 448.9Z" fill="#6fc501"/><path d="M639.9 488.9L645.4 493.8L638.6 489.8L633.1 484.8Z" fill="#006145"/><path d="M486.8 433.3L493.5 430.5L487.5 427.7L480.9 430.3Z" fill="#ffbd32"/><path d="M608 468.8L613.9 472.6L607.2 468.9L601.4 465.1Z" fill="#006100"/><path d="M563.4 447.2L569.6 448.9L563.2 445.6L556.9 443.8Z" fill="#b9ed04"/><path d="M454.9 440.3L461.6 435.2L455.9 432.3L449.2 437.3Z" fill="#ffe84d"/><path d="M435.7 449.9L442.4 443.2L436.8 440.3L430.1 446.9Z" fill="#e3ff5a"/><path d="M499.5 433.5L506.1 431.6L500.1 428.6L493.5 430.5Z" fill="#ffba29"/><path d="M550.6 442.8L556.9 443.8L550.6 440.6L544.2 439.5Z" fill="#f5ff09"/><path d="M659.3 502.4L664.6 507.9L657.6 503.6L652.3 498.1Z" fill="#005361"/><path d="M512.2 434.6L518.8 433.4L512.7 430.4L506.1 431.6Z" fill="#ffbf20"/><path d="M537.8 439.3L544.2 439.5L538 436.4L531.5 436.1Z" fill="#ffe710"/><path d="M525 436.6L531.5 436.1L525.3 433L518.8 433.4Z" fill="#ffce17"/><path d="M595.4 462L601.4 465.1L594.8 461.4L588.8 458.3Z" fill="#32a900"/><path d="M467.4 438.2L474.2 433.8L468.3 430.9L461.6 435.2Z" fill="#ffd547"/><path d="M429.1 457.5L435.7 449.9L430.1 446.9L423.5 454.4Z" fill="#c4ff60"/><path d="M627.4 480.5L633.1 484.8L626.3 480.8L620.6 476.4Z" fill="#006122"/><path d="M448.2 446.3L454.9 440.3L449.2 437.3L442.4 443.2Z" fill="#ffff56"/><path d="M582.6 456L588.8 458.3L582.2 454.8L576.1 452.4Z" fill="#72cf02"/><path d="M480.1 436.9L486.8 433.3L480.9 430.3L474.2 433.8Z" fill="#ffc63f"/><path d="M422.4 466L429.1 457.5L423.5 454.4L416.8 462.7Z" fill="#a1ff64"/><path d="M646.9 493.2L652.3 498.1L645.4 493.8L639.9 488.9Z" fill="#006148"/><path d="M614.8 472.8L620.6 476.4L613.9 472.6L608 468.8Z" fill="#006102"/><path d="M569.8 450.7L576.1 452.4L569.6 448.9L563.4 447.2Z" fill="#bef706"/><path d="M492.8 436.4L499.5 433.5L493.5 430.5L486.8 433.3Z" fill="#ffbd36"/><path d="M460.7 443.4L467.4 438.2L461.6 435.2L454.9 440.3Z" fill="#ffe851"/><path d="M441.4 453.1L448.2 446.3L442.4 443.2L435.7 449.9Z" fill="#e4ff5e"/><path d="M415.8 475.2L422.4 466L416.8 462.7L410.2 471.9Z" fill="#79ff67"/><path d="M666.3 507L671.6 512.4L664.6 507.9L659.3 502.4Z" fill="#004f61"/><path d="M557 446.3L563.4 447.2L556.9 443.8L550.6 442.8Z" fill="#f2ff0b"/><path d="M505.6 436.7L512.2 434.6L506.1 431.6L499.5 433.5Z" fill="#ffbb2c"/><path d="M544.1 442.7L550.6 442.8L544.2 439.5L537.8 439.3Z" fill="#ffe812"/><path d="M518.4 437.9L525 436.6L518.8 433.4L512.2 434.6Z" fill="#ffc123"/><path d="M531.3 439.9L537.8 439.3L531.5 436.1L525 436.6Z" fill="#ffd01a"/><path d="M602.1 465.9L608 468.8L601.4 465.1L595.4 462Z" fill="#31b200"/><path d="M634.3 484.7L639.9 488.9L633.1 484.8L627.4 480.5Z" fill="#006125"/><path d="M473.3 441.3L480.1 436.9L474.2 433.8L467.4 438.2Z" fill="#ffd54a"/><path d="M434.7 460.8L441.4 453.1L435.7 449.9L429.1 457.5Z" fill="#c5ff63"/><path d="M453.9 449.5L460.7 443.4L454.9 440.3L448.2 446.3Z" fill="#ffff5a"/><path d="M589.3 459.7L595.4 462L588.8 458.3L582.6 456Z" fill="#74d902"/><path d="M486.1 440.1L492.8 436.4L486.8 433.3L480.1 436.9Z" fill="#ffc742"/><path d="M653.9 497.6L659.3 502.4L652.3 498.1L646.9 493.2Z" fill="#00614c"/><path d="M428 469.4L434.7 460.8L429.1 457.5L422.4 466Z" fill="#a3ff68"/><path d="M621.6 476.9L627.4 480.5L620.6 476.4L614.8 472.8Z" fill="#006105"/><path d="M576.4 454.4L582.6 456L576.1 452.4L569.8 450.7Z" fill="#c1ff07"/><path d="M498.9 439.7L505.6 436.7L499.5 433.5L492.8 436.4Z" fill="#ffbf39"/><path d="M466.6 446.7L473.3 441.3L467.4 438.2L460.7 443.4Z" fill="#ffe855"/><path d="M421.4 478.8L428 469.4L422.4 466L415.8 475.2Z" fill="#7cff6a"/><path d="M447.2 456.5L453.9 449.5L448.2 446.3L441.4 453.1Z" fill="#e4ff61"/><path d="M563.5 449.9L569.8 450.7L563.4 447.2L557 446.3Z" fill="#efff0c"/><path d="M511.8 440L518.4 437.9L512.2 434.6L505.6 436.7Z" fill="#ffbd2f"/><path d="M550.6 446.2L557 446.3L550.6 442.8L544.1 442.7Z" fill="#ffeb14"/><path d="M524.7 441.3L531.3 439.9L525 436.6L518.4 437.9Z" fill="#ffc325"/><path d="M537.6 443.3L544.1 442.7L537.8 439.3L531.3 439.9Z" fill="#ffd21c"/><path d="M608.8 469.9L614.8 472.8L608 468.8L602.1 465.9Z" fill="#2ebb01"/><path d="M641.2 489L646.9 493.2L639.9 488.9L634.3 484.7Z" fill="#006128"/><path d="M479.3 444.7L486.1 440.1L480.1 436.9L473.3 441.3Z" fill="#ffd64e"/><path d="M440.5 464.3L447.2 456.5L441.4 453.1L434.7 460.8Z" fill="#c6ff67"/><path d="M459.8 452.9L466.6 446.7L460.7 443.4L453.9 449.5Z" fill="#feff5e"/><path d="M596 463.7L602.1 465.9L595.4 462L589.3 459.7Z" fill="#74e203"/><path d="M660.9 502.3L666.3 507L659.3 502.4L653.9 497.6Z" fill="#006150"/><path d="M492.2 443.5L498.9 439.7L492.8 436.4L486.1 440.1Z" fill="#ffc946"/><path d="M433.7 473L440.5 464.3L434.7 460.8L428 469.4Z" fill="#a4ff6b"/><path d="M628.5 481.2L634.3 484.7L627.4 480.5L621.6 476.9Z" fill="#009f0d"/><path d="M583.1 458.3L589.3 459.7L582.6 456L576.4 454.4Z" fill="#bcff08"/><path d="M505.1 443.1L511.8 440L505.6 436.7L498.9 439.7Z" fill="#ffc13d"/><path d="M472.5 450.1L479.3 444.7L473.3 441.3L466.6 446.7Z" fill="#ffea59"/><path d="M427.1 482.5L433.7 473L428 469.4L421.4 478.8Z" fill="#7dff6e"/><path d="M453 460L459.8 452.9L453.9 449.5L447.2 456.5Z" fill="#e4ff65"/><path d="M570.1 453.7L576.4 454.4L569.8 450.7L563.5 449.9Z" fill="#eaff0e"/><path d="M518 443.5L524.7 441.3L518.4 437.9L511.8 440Z" fill="#ffc033"/><path d="M557.1 449.9L563.5 449.9L557 446.3L550.6 446.2Z" fill="#fff016"/><path d="M615.7 474.1L621.6 476.9L614.8 472.8L608.8 469.9Z" fill="#2bc401"/><path d="M531 444.8L537.6 443.3L531.3 439.9L524.7 441.3Z" fill="#ffc728"/><path d="M648.3 493.6L653.9 497.6L646.9 493.2L641.2 489Z" fill="#00612c"/><path d="M544 447L550.6 446.2L544.1 442.7L537.6 443.3Z" fill="#ffd61f"/><path d="M485.4 448.1L492.2 443.5L486.1 440.1L479.3 444.7Z" fill="#ffd952"/><path d="M446.3 467.9L453 460L447.2 456.5L440.5 464.3Z" fill="#c6ff6b"/><path d="M465.8 456.4L472.5 450.1L466.6 446.7L459.8 452.9Z" fill="#fdff62"/><path d="M602.8 467.8L608.8 469.9L602.1 465.9L596 463.7Z" fill="#72ec04"/><path d="M498.3 447L505.1 443.1L498.9 439.7L492.2 443.5Z" fill="#ffcc4a"/><path d="M635.5 485.6L641.2 489L634.3 484.7L628.5 481.2Z" fill="#00a815"/><path d="M439.5 476.7L446.3 467.9L440.5 464.3L433.7 473Z" fill="#a4ff6e"/><path d="M589.8 462.3L596 463.7L589.3 459.7L583.1 458.3Z" fill="#b5ff09"/><path d="M511.3 446.7L518 443.5L511.8 440L505.1 443.1Z" fill="#ffc540"/><path d="M432.8 486.4L439.5 476.7L433.7 473L427.1 482.5Z" fill="#7eff71"/><path d="M478.6 453.7L485.4 448.1L479.3 444.7L472.5 450.1Z" fill="#ffec5d"/><path d="M459 463.6L465.8 456.4L459.8 452.9L453 460Z" fill="#e3ff69"/><path d="M576.7 457.6L583.1 458.3L576.4 454.4L570.1 453.7Z" fill="#e5ff10"/><path d="M524.4 447.2L531 444.8L524.7 441.3L518 443.5Z" fill="#ffc436"/><path d="M655.4 498.3L660.9 502.3L653.9 497.6L648.3 493.6Z" fill="#006131"/><path d="M622.6 478.5L628.5 481.2L621.6 476.9L615.7 474.1Z" fill="#25cd02"/><path d="M563.6 453.8L570.1 453.7L563.5 449.9L557.1 449.9Z" fill="#fff518"/><path d="M537.4 448.6L544 447L537.6 443.3L531 444.8Z" fill="#ffcb2b"/><path d="M550.5 450.8L557.1 449.9L550.6 446.2L544 447Z" fill="#ffdb21"/><path d="M491.5 451.8L498.3 447L492.2 443.5L485.4 448.1Z" fill="#ffdc56"/><path d="M452.2 471.7L459 463.6L453 460L446.3 467.9Z" fill="#c5ff6e"/><path d="M609.6 472.1L615.7 474.1L608.8 469.9L602.8 467.8Z" fill="#6ff605"/><path d="M471.8 460.1L478.6 453.7L472.5 450.1L465.8 456.4Z" fill="#fbff66"/><path d="M642.5 490.2L648.3 493.6L641.2 489L635.5 485.6Z" fill="#00b01e"/><path d="M504.6 450.7L511.3 446.7L505.1 443.1L498.3 447Z" fill="#ffd04e"/><path d="M445.4 480.6L452.2 471.7L446.3 467.9L439.5 476.7Z" fill="#a4ff72"/><path d="M596.6 466.5L602.8 467.8L596 463.7L589.8 462.3Z" fill="#aeff0b"/><path d="M517.6 450.4L524.4 447.2L518 443.5L511.3 446.7Z" fill="#ffc944"/><path d="M438.7 490.4L445.4 480.6L439.5 476.7L432.8 486.4Z" fill="#7eff74"/><path d="M484.7 457.5L491.5 451.8L485.4 448.1L478.6 453.7Z" fill="#ffef61"/><path d="M583.5 461.7L589.8 462.3L583.1 458.3L576.7 457.6Z" fill="#deff12"/><path d="M465 467.4L471.8 460.1L465.8 456.4L459 463.6Z" fill="#e1ff6d"/><path d="M530.8 451L537.4 448.6L531 444.8L524.4 447.2Z" fill="#ffc939"/><path d="M629.6 483L635.5 485.6L628.5 481.2L622.6 478.5Z" fill="#1fd602"/><path d="M570.3 457.8L576.7 457.6L570.1 453.7L563.6 453.8Z" fill="#fffb1a"/><path d="M543.9 452.5L550.5 450.8L544 447L537.4 448.6Z" fill="#ffd12e"/><path d="M557.1 454.7L563.6 453.8L557.1 449.9L550.5 450.8Z" fill="#ffe124"/><path d="M497.7 455.6L504.6 450.7L498.3 447L491.5 451.8Z" fill="#ffe05a"/><path d="M458.2 475.6L465 467.4L459 463.6L452.2 471.7Z" fill="#c4ff72"/><path d="M616.6 476.5L622.6 478.5L615.7 474.1L609.6 472.1Z" fill="#6aff07"/><path d="M477.9 464L484.7 457.5L478.6 453.7L471.8 460.1Z" fill="#f8ff69"/><path d="M649.7 495L655.4 498.3L648.3 493.6L642.5 490.2Z" fill="#01b929"/><path d="M510.9 454.6L517.6 450.4L511.3 446.7L504.6 450.7Z" fill="#ffd552"/><path d="M451.4 484.7L458.2 475.6L452.2 471.7L445.4 480.6Z" fill="#a3ff75"/><path d="M603.4 470.9L609.6 472.1L602.8 467.8L596.6 466.5Z" fill="#a5ff0c"/><path d="M524 454.4L530.8 451L524.4 447.2L517.6 450.4Z" fill="#ffcf48"/><path d="M590.3 466L596.6 466.5L589.8 462.3L583.5 461.7Z" fill="#d6ff14"/><path d="M444.6 494.6L451.4 484.7L445.4 480.6L438.7 490.4Z" fill="#7eff77"/><path d="M490.9 461.4L497.7 455.6L491.5 451.8L484.7 457.5Z" fill="#fff365"/><path d="M471.1 471.5L477.9 464L471.8 460.1L465 467.4Z" fill="#dfff70"/><path d="M636.7 487.7L642.5 490.2L635.5 485.6L629.6 483Z" fill="#16e003"/><path d="M537.3 455L543.9 452.5L537.4 448.6L530.8 451Z" fill="#ffcf3d"/><path d="M577 462L583.5 461.7L576.7 457.6L570.3 457.8Z" fill="#fbff1d"/><path d="M550.5 456.5L557.1 454.7L550.5 450.8L543.9 452.5Z" fill="#ffd732"/><path d="M563.8 458.9L570.3 457.8L563.6 453.8L557.1 454.7Z" fill="#ffe827"/><path d="M504 459.6L510.9 454.6L504.6 450.7L497.7 455.6Z" fill="#ffe45e"/><path d="M464.2 479.8L471.1 471.5L465 467.4L458.2 475.6Z" fill="#c2ff75"/><path d="M623.6 481.2L629.6 483L622.6 478.5L616.6 476.5Z" fill="#5fff08"/><path d="M484.1 468.1L490.9 461.4L484.7 457.5L477.9 464Z" fill="#f5ff6d"/><path d="M517.3 458.6L524 454.4L517.6 450.4L510.9 454.6Z" fill="#ffda55"/><path d="M610.4 475.4L616.6 476.5L609.6 472.1L603.4 470.9Z" fill="#9bff0e"/><path d="M457.4 489L464.2 479.8L458.2 475.6L451.4 484.7Z" fill="#a2ff79"/><path d="M530.5 458.5L537.3 455L530.8 451L524 454.4Z" fill="#ffd54b"/><path d="M597.1 470.5L603.4 470.9L596.6 466.5L590.3 466Z" fill="#ccff16"/><path d="M450.6 499L457.4 489L451.4 484.7L444.6 494.6Z" fill="#7dff7b"/><path d="M643.8 492.6L649.7 495L642.5 490.2L636.7 487.7Z" fill="#0be904"/><path d="M497.2 465.5L504 459.6L497.7 455.6L490.9 461.4Z" fill="#fff768"/><path d="M477.2 475.6L484.1 468.1L477.9 464L471.1 471.5Z" fill="#dcff74"/><path d="M543.8 459.2L550.5 456.5L543.9 452.5L537.3 455Z" fill="#ffd640"/><path d="M583.8 466.4L590.3 466L583.5 461.7L577 462Z" fill="#f3ff1f"/><path d="M557.2 460.8L563.8 458.9L557.1 454.7L550.5 456.5Z" fill="#ffdf35"/><path d="M570.5 463.2L577 462L570.3 457.8L563.8 458.9Z" fill="#fff02a"/><path d="M630.7 486L636.7 487.7L629.6 483L623.6 481.2Z" fill="#54ff09"/><path d="M510.4 463.8L517.3 458.6L510.9 454.6L504 459.6Z" fill="#ffea62"/><path d="M470.3 484.1L477.2 475.6L471.1 471.5L464.2 479.8Z" fill="#c0ff79"/><path d="M490.3 472.3L497.2 465.5L490.9 461.4L484.1 468.1Z" fill="#f1ff71"/><path d="M617.4 480.2L623.6 481.2L616.6 476.5L610.4 475.4Z" fill="#90ff10"/><path d="M523.7 462.8L530.5 458.5L524 454.4L517.3 458.6Z" fill="#ffe059"/><path d="M463.5 493.4L470.3 484.1L464.2 479.8L457.4 489Z" fill="#a0ff7c"/><path d="M604.1 475.2L610.4 475.4L603.4 470.9L597.1 470.5Z" fill="#c2ff18"/><path d="M537.1 462.8L543.8 459.2L537.3 455L530.5 458.5Z" fill="#ffdc4f"/><path d="M456.7 503.6L463.5 493.4L457.4 489L450.6 499Z" fill="#7eff80"/><path d="M503.6 469.8L510.4 463.8L504 459.6L497.2 465.5Z" fill="#fffc6c"/><path d="M483.4 480L490.3 472.3L484.1 468.1L477.2 475.6Z" fill="#d8ff78"/><path d="M590.7 471L597.1 470.5L590.3 466L583.8 466.4Z" fill="#e9ff22"/><path d="M550.5 463.6L557.2 460.8L550.5 456.5L543.8 459.2Z" fill="#ffde44"/><path d="M577.3 467.7L583.8 466.4L577 462L570.5 463.2Z" fill="#fff92c"/><path d="M563.9 465.2L570.5 463.2L563.8 458.9L557.2 460.8Z" fill="#ffe738"/><path d="M637.8 491L643.8 492.6L636.7 487.7L630.7 486Z" fill="#47ff0a"/><path d="M516.9 468.1L523.7 462.8L517.3 458.6L510.4 463.8Z" fill="#ffef66"/><path d="M476.6 488.6L483.4 480L477.2 475.6L470.3 484.1Z" fill="#bdff7c"/><path d="M496.7 476.7L503.6 469.8L497.2 465.5L490.3 472.3Z" fill="#edff75"/><path d="M624.5 485.1L630.7 486L623.6 481.2L617.4 480.2Z" fill="#84ff11"/><path d="M530.3 467.2L537.1 462.8L530.5 458.5L523.7 462.8Z" fill="#ffe75d"/><path d="M469.7 498L476.6 488.6L470.3 484.1L463.5 493.4Z" fill="#9dff7f"/><path d="M611.1 480L617.4 480.2L610.4 475.4L604.1 475.2Z" fill="#b7ff1a"/><path d="M543.7 467.2L550.5 463.6L543.8 459.2L537.1 462.8Z" fill="#ffe353"/><path d="M462.8 508.3L469.7 498L463.5 493.4L456.7 503.6Z" fill="#81ff89"/><path d="M510 474.2L516.9 468.1L510.4 463.8L503.6 469.8Z" fill="#fcff70"/><path d="M489.8 484.5L496.7 476.7L490.3 472.3L483.4 480Z" fill="#d4ff7b"/><path d="M597.7 475.7L604.1 475.2L597.1 470.5L590.7 471Z" fill="#dfff24"/><path d="M557.2 468.1L563.9 465.2L557.2 460.8L550.5 463.6Z" fill="#ffe648"/><path d="M584.2 472.3L590.7 471L583.8 466.4L577.3 467.7Z" fill="#fbff2f"/><path d="M570.7 469.8L577.3 467.7L570.5 463.2L563.9 465.2Z" fill="#fff03b"/><path d="M523.4 472.6L530.3 467.2L523.7 462.8L516.9 468.1Z" fill="#fff66a"/><path d="M482.9 493.2L489.8 484.5L483.4 480L476.6 488.6Z" fill="#b9ff80"/><path d="M503.1 481.3L510 474.2L503.6 469.8L496.7 476.7Z" fill="#e8ff79"/><path d="M631.7 490.1L637.8 491L630.7 486L624.5 485.1Z" fill="#77ff13"/><path d="M536.9 471.8L543.7 467.2L537.1 462.8L530.3 467.2Z" fill="#ffee61"/><path d="M475.9 502.8L482.9 493.2L476.6 488.6L469.7 498Z" fill="#9aff83"/><path d="M618.3 485L624.5 485.1L617.4 480.2L611.1 480Z" fill="#abff1c"/><path d="M550.5 471.9L557.2 468.1L550.5 463.6L543.7 467.2Z" fill="#ffeb57"/><path d="M469.1 513.3L475.9 502.8L469.7 498L462.8 508.3Z" fill="#84ff91"/><path d="M516.5 478.9L523.4 472.6L516.9 468.1L510 474.2Z" fill="#f7ff74"/><path d="M496.2 489.2L503.1 481.3L496.7 476.7L489.8 484.5Z" fill="#d0ff7f"/><path d="M604.7 480.7L611.1 480L604.1 475.2L597.7 475.7Z" fill="#d3ff27"/><path d="M564 472.8L570.7 469.8L563.9 465.2L557.2 468.1Z" fill="#ffef4b"/><path d="M591.2 477.2L597.7 475.7L590.7 471L584.2 472.3Z" fill="#f1ff33"/><path d="M577.6 474.6L584.2 472.3L577.3 467.7L570.7 469.8Z" fill="#fffa3f"/><path d="M530 477.3L536.9 471.8L530.3 467.2L523.4 472.6Z" fill="#fffc6e"/><path d="M489.2 498.1L496.2 489.2L489.8 484.5L482.9 493.2Z" fill="#b5ff83"/><path d="M509.6 486L516.5 478.9L510 474.2L503.1 481.3Z" fill="#e2ff7c"/><path d="M543.6 476.6L550.5 471.9L543.7 467.2L536.9 471.8Z" fill="#fff665"/><path d="M482.3 507.8L489.2 498.1L482.9 493.2L475.9 502.8Z" fill="#97ff86"/><path d="M625.4 490.2L631.7 490.1L624.5 485.1L618.3 485Z" fill="#9eff1e"/><path d="M557.3 476.7L564 472.8L557.2 468.1L550.5 471.9Z" fill="#fff45b"/><path d="M475.4 518.4L482.3 507.8L475.9 502.8L469.1 513.3Z" fill="#87ff9a"/><path d="M611.9 485.8L618.3 485L611.1 480L604.7 480.7Z" fill="#c7ff29"/><path d="M523.1 483.7L530 477.3L523.4 472.6L516.5 478.9Z" fill="#f0ff78"/><path d="M502.6 494.1L509.6 486L503.1 481.3L496.2 489.2Z" fill="#cbff83"/><path d="M570.9 477.7L577.6 474.6L570.7 469.8L564 472.8Z" fill="#fff84f"/><path d="M598.2 482.2L604.7 480.7L597.7 475.7L591.2 477.2Z" fill="#e6ff36"/><path d="M584.6 479.5L591.2 477.2L584.2 472.3L577.6 474.6Z" fill="#faff42"/><path d="M536.7 482.2L543.6 476.6L536.9 471.8L530 477.3Z" fill="#faff71"/><path d="M495.7 503.1L502.6 494.1L496.2 489.2L489.2 498.1Z" fill="#b1ff87"/><path d="M516.2 491L523.1 483.7L516.5 478.9L509.6 486Z" fill="#ddff80"/><path d="M550.4 481.5L557.3 476.7L550.5 471.9L543.6 476.6Z" fill="#fffe69"/><path d="M488.7 512.9L495.7 503.1L489.2 498.1L482.3 507.8Z" fill="#94ff89"/><path d="M564.1 481.7L570.9 477.7L564 472.8L557.3 476.7Z" fill="#fffd5e"/><path d="M481.8 523.7L488.7 512.9L482.3 507.8L475.4 518.4Z" fill="#8bffa4"/><path d="M619.1 491.1L625.4 490.2L618.3 485L611.9 485.8Z" fill="#baff2c"/><path d="M529.8 488.7L536.7 482.2L530 477.3L523.1 483.7Z" fill="#eaff7c"/><path d="M509.2 499.2L516.2 491L509.6 486L502.6 494.1Z" fill="#c6ff86"/><path d="M577.9 482.8L584.6 479.5L577.6 474.6L570.9 477.7Z" fill="#fcff53"/><path d="M605.4 487.5L611.9 485.8L604.7 480.7L598.2 482.2Z" fill="#daff39"/><path d="M591.6 484.7L598.2 482.2L591.2 477.2L584.6 479.5Z" fill="#efff46"/><path d="M543.5 487.2L550.4 481.5L543.6 476.6L536.7 482.2Z" fill="#f3ff75"/><path d="M502.2 508.3L509.2 499.2L502.6 494.1L495.7 503.1Z" fill="#adff8a"/><path d="M522.8 496.1L529.8 488.7L523.1 483.7L516.2 491Z" fill="#d7ff84"/><path d="M557.3 486.7L564.1 481.7L557.3 476.7L550.4 481.5Z" fill="#f8ff6d"/><path d="M495.2 518.3L502.2 508.3L495.7 503.1L488.7 512.9Z" fill="#90ff8d"/><path d="M571.1 486.9L577.9 482.8L570.9 477.7L564.1 481.7Z" fill="#f7ff62"/><path d="M488.2 529.1L495.2 518.3L488.7 512.9L481.8 523.7Z" fill="#8effad"/><path d="M536.6 493.9L543.5 487.2L536.7 482.2L529.8 488.7Z" fill="#e3ff80"/><path d="M515.8 504.4L522.8 496.1L516.2 491L509.2 499.2Z" fill="#c1ff8a"/><path d="M584.9 488L591.6 484.7L584.6 479.5L577.9 482.8Z" fill="#f1ff56"/><path d="M612.6 492.9L619.1 491.1L611.9 485.8L605.4 487.5Z" fill="#cdff3c"/><path d="M598.8 490L605.4 487.5L598.2 482.2L591.6 484.7Z" fill="#e3ff49"/><path d="M550.4 492.5L557.3 486.7L550.4 481.5L543.5 487.2Z" fill="#ebff79"/><path d="M508.8 513.7L515.8 504.4L509.2 499.2L502.2 508.3Z" fill="#a8ff8e"/><path d="M529.6 501.4L536.6 493.9L529.8 488.7L522.8 496.1Z" fill="#d1ff87"/><path d="M564.2 492L571.1 486.9L564.1 481.7L557.3 486.7Z" fill="#efff71"/><path d="M501.8 523.8L508.8 513.7L502.2 508.3L495.2 518.3Z" fill="#90ff94"/><path d="M578.1 492.3L584.9 488L577.9 482.8L571.1 486.9Z" fill="#eeff66"/><path d="M494.8 534.8L501.8 523.8L495.2 518.3L488.2 529.1Z" fill="#91ffb7"/><path d="M543.4 499.3L550.4 492.5L543.5 487.2L536.6 493.9Z" fill="#dcff83"/><path d="M522.5 509.9L529.6 501.4L522.8 496.1L515.8 504.4Z" fill="#bcff8d"/><path d="M592 493.5L598.8 490L591.6 484.7L584.9 488Z" fill="#e6ff5a"/><path d="M606 495.6L612.6 492.9L605.4 487.5L598.8 490Z" fill="#d7ff4d"/><path d="M557.3 497.9L564.2 492L557.3 486.7L550.4 492.5Z" fill="#e3ff7d"/><path d="M515.5 519.2L522.5 509.9L515.8 504.4L508.8 513.7Z" fill="#a3ff91"/><path d="M536.4 506.9L543.4 499.3L536.6 493.9L529.6 501.4Z" fill="#caff8b"/><path d="M571.2 497.5L578.1 492.3L571.1 486.9L564.2 492Z" fill="#e6ff74"/><path d="M508.5 529.5L515.5 519.2L508.8 513.7L501.8 523.8Z" fill="#93ff9e"/><path d="M585.2 497.9L592 493.5L584.9 488L578.1 492.3Z" fill="#e3ff6a"/><path d="M501.4 540.6L508.5 529.5L501.8 523.8L494.8 534.8Z" fill="#94ffc1"/><path d="M550.3 504.8L557.3 497.9L550.4 492.5L543.4 499.3Z" fill="#d5ff87"/><path d="M529.3 515.5L536.4 506.9L529.6 501.4L522.5 509.9Z" fill="#b6ff91"/><path d="M599.2 499.1L606 495.6L598.8 490L592 493.5Z" fill="#dbff5e"/><path d="M564.3 503.6L571.2 497.5L564.2 492L557.3 497.9Z" fill="#dbff81"/><path d="M522.3 525L529.3 515.5L522.5 509.9L515.5 519.2Z" fill="#9eff94"/><path d="M543.3 512.6L550.3 504.8L543.4 499.3L536.4 506.9Z" fill="#c4ff8f"/><path d="M578.4 503.2L585.2 497.9L578.1 492.3L571.2 497.5Z" fill="#dcff78"/><path d="M515.2 535.4L522.3 525L515.5 519.2L508.5 529.5Z" fill="#96ffa9"/><path d="M592.4 503.6L599.2 499.1L592 493.5L585.2 497.9Z" fill="#d9ff6e"/><path d="M508.1 546.7L515.2 535.4L508.5 529.5L501.4 540.6Z" fill="#96ffca"/><path d="M557.3 510.6L564.3 503.6L557.3 497.9L550.3 504.8Z" fill="#cdff8b"/><path d="M536.2 521.4L543.3 512.6L536.4 506.9L529.3 515.5Z" fill="#b0ff94"/><path d="M571.4 509.4L578.4 503.2L571.2 497.5L564.3 503.6Z" fill="#d2ff84"/><path d="M529.1 531L536.2 521.4L529.3 515.5L522.3 525Z" fill="#99ff97"/><path d="M550.3 518.5L557.3 510.6L550.3 504.8L543.3 512.6Z" fill="#bdff92"/><path d="M585.5 509.1L592.4 503.6L585.2 497.9L578.4 503.2Z" fill="#d3ff7c"/><path d="M522 541.5L529.1 531L522.3 525L515.2 535.4Z" fill="#99ffb4"/><path d="M514.9 552.9L522 541.5L515.2 535.4L508.1 546.7Z" fill="#99ffd4"/><path d="M564.4 516.5L571.4 509.4L564.3 503.6L557.3 510.6Z" fill="#c6ff8e"/><path d="M543.2 527.4L550.3 518.5L543.3 512.6L536.2 521.4Z" fill="#aaff97"/><path d="M578.6 515.4L585.5 509.1L578.4 503.2L571.4 509.4Z" fill="#caff88"/><path d="M536 537.1L543.2 527.4L536.2 521.4L529.1 531Z" fill="#99ffa0"/><path d="M557.3 524.6L564.4 516.5L557.3 510.6L550.3 518.5Z" fill="#b7ff95"/><path d="M528.9 547.8L536 537.1L529.1 531L522 541.5Z" fill="#99ffbd"/><path d="M521.7 559.4L528.9 547.8L522 541.5L514.9 552.9Z" fill="#99ffdd"/><path d="M571.5 522.7L578.6 515.4L571.4 509.4L564.4 516.5Z" fill="#beff92"/><path d="M550.2 533.6L557.3 524.6L550.3 518.5L543.2 527.4Z" fill="#a3ff99"/><path d="M543 543.5L550.2 533.6L543.2 527.4L536 537.1Z" fill="#99ffa9"/><path d="M564.4 530.9L571.5 522.7L564.4 516.5L557.3 524.6Z" fill="#b0ff99"/><path d="M535.9 554.3L543 543.5L536 537.1L528.9 547.8Z" fill="#99ffc6"/><path d="M528.7 566L535.9 554.3L528.9 547.8L521.7 559.4Z" fill="#99ffe7"/><path d="M557.3 540L564.4 530.9L557.3 524.6L550.2 533.6Z" fill="#9aff99"/><path d="M550.1 550.1L557.3 540L550.2 533.6L543 543.5Z" fill="#99ffb2"/><path d="M542.9 561L550.1 550.1L543 543.5L535.9 554.3Z" fill="#99ffd0"/><path d="M535.7 572.8L542.9 561L535.9 554.3L528.7 566Z" fill="#99fff1"/></g>
<circle cx="676.7" cy="517.7" r="2.7" fill="#c20000" stroke="#5a0000" stroke-width="0.5"/>
<circle cx="544" cy="438.9" r="2.7" fill="#c20000" stroke="#5a0000" stroke-width="0.5"/>
<circle cx="544" cy="445.7" r="2.7" fill="#c20000" stroke="#5a0000" stroke-width="0.5"/>
<text x="413.47" y="579.38" font-size="6.8" text-anchor="end" fill="#222">0.35</text>
<text x="443.08" y="600.3" font-size="6.8" text-anchor="end" fill="#222">0.3</text>
<text x="472.69" y="621.23" font-size="6.8" text-anchor="end" fill="#222">0.25</text>
<text x="502.3" y="642.16" font-size="6.8" text-anchor="end" fill="#222">0.2</text>
<text x="531.91" y="663.08" font-size="6.8" text-anchor="end" fill="#222">0.15</text>
<text x="540.31" y="663.08" font-size="6.8" fill="#222">0.8</text>
<text x="562.96" y="650.45" font-size="6.8" fill="#222">0.9</text>
<text x="585.61" y="637.81" font-size="6.8" fill="#222">1</text>
<text x="608.25" y="625.17" font-size="6.8" fill="#222">1.1</text>
<text x="630.9" y="612.53" font-size="6.8" fill="#222">1.2</text>
<text x="653.54" y="599.89" font-size="6.8" fill="#222">1.3</text>
<text x="676.19" y="587.25" font-size="6.8" fill="#222">1.4</text>
<text x="411.24" y="531.95" font-size="6.9" text-anchor="end" fill="#222">65</text>
<text x="409.38" y="506.82" font-size="6.9" text-anchor="end" fill="#222">70</text>
<text x="407.52" y="481.68" font-size="6.9" text-anchor="end" fill="#222">75</text>
<text x="405.65" y="456.54" font-size="6.9" text-anchor="end" fill="#222">80</text>
<text x="403.79" y="431.4" font-size="6.9" text-anchor="end" fill="#222">85</text>
<text x="401.93" y="406.26" font-size="6.9" text-anchor="end" fill="#222">90</text>
<circle cx="417.7" cy="572.4" r="1.35" fill="#111"/><circle cx="447.3" cy="593.3" r="1.35" fill="#111"/><circle cx="476.9" cy="614.2" r="1.35" fill="#111"/><circle cx="506.5" cy="635.2" r="1.35" fill="#111"/><circle cx="536.1" cy="656.1" r="1.35" fill="#111"/><circle cx="536.1" cy="656.1" r="1.35" fill="#111"/><circle cx="558.8" cy="643.4" r="1.35" fill="#111"/><circle cx="581.4" cy="630.8" r="1.35" fill="#111"/><circle cx="604.1" cy="618.2" r="1.35" fill="#111"/><circle cx="626.7" cy="605.5" r="1.35" fill="#111"/><circle cx="649.3" cy="592.9" r="1.35" fill="#111"/><circle cx="672" cy="580.2" r="1.35" fill="#111"/><circle cx="414.8" cy="534.2" r="1.35" fill="#111"/><circle cx="413" cy="509" r="1.35" fill="#111"/><circle cx="411.1" cy="483.9" r="1.35" fill="#111"/><circle cx="409.3" cy="458.7" r="1.35" fill="#111"/><circle cx="407.4" cy="433.6" r="1.35" fill="#111"/><circle cx="405.5" cy="408.5" r="1.35" fill="#111"/>
<text x="383.2" y="493.7" font-size="7" text-anchor="middle" transform="rotate(-90 383.2 493.7)" textLength="90.4" lengthAdjust="spacingAndGlyphs" fill="#222">% Drug Release after 12 h (%)</text>
<text x="393.7" y="641.5" font-size="6.9" textLength="70.4" lengthAdjust="spacingAndGlyphs" fill="#222">B: Carnauba Wax (gm)</text>
<text x="626" y="648.7" font-size="6.9" textLength="52.4" lengthAdjust="spacingAndGlyphs" fill="#222">A: Beeswax (gm)</text>
<text x="535.6" y="681" font-size="10.7" text-anchor="middle" font-weight="bold" fill="#111">(d)</text>
</svg>
</body></html>
